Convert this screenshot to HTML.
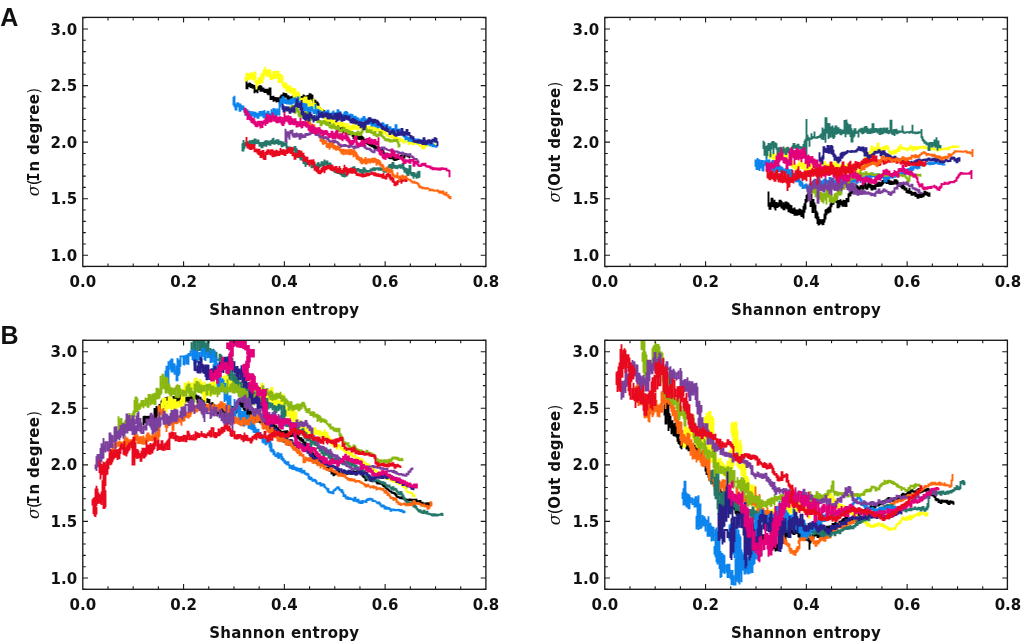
<!DOCTYPE html>
<html><head><meta charset="utf-8"><title>Figure</title>
<style>
html,body{margin:0;padding:0;background:#fff;}
svg{display:block}
.t{font-family:"DejaVu Sans","Liberation Sans",sans-serif;font-weight:bold;font-size:15px;fill:#111}
.sg{font-family:"DejaVu Serif","Liberation Serif",serif;font-style:italic;font-weight:normal;font-size:16.5px}
.si{font-family:"DejaVu Sans Mono","Liberation Mono",monospace;font-weight:bold}
.yl{letter-spacing:0.3px}
.pr{font-family:"DejaVu Sans","Liberation Sans",sans-serif;font-weight:normal}
.xl{letter-spacing:0.32px}
.L{font-family:"Liberation Sans",sans-serif;font-weight:bold;font-size:25px;fill:#111}
</style></head><body>
<svg width="1024" height="643" viewBox="0 0 1024 643">
<rect width="1024" height="643" fill="#fff"/>
<clipPath id="cA1"><rect x="82.8" y="17.4" width="403.10" height="249.00"/></clipPath>
<g clip-path="url(#cA1)">
<path d="M246.5 81.4v-1.1v8h1v-2v1.6v-4.4v.8h1v.9v-1.5v3.2v-1.5h1v.4v-2.3h1v-.5v4.1h1v-.3v-1.8h1v.9v2h1v-2.1v-.7v3.7v-2.8h1v3v-2v6.3v-2.4h1v1.2v-2.7v1.8h1v-3.2v-.8v5v-3.2h1v4.2v-5.4v.2h1v2.2v-2.9h1v1.7v-2.7h1v1.6v3h1v.8v-5.9v4.4h1v.2v-1.6h1v-.1v-1.1v4.4v-.9h1v-2.4v3.3h1v-.4v-1.5h1v.3v-.6v3.2v-3.2h1v.9v2.8h1v-2.8v4.5v-4.4h1v2.6v-4.9h1v7.5v3.1v-7.3v7.3h1v-3.1v2.2h1v.6v-2.1v.1h1v4.9v-4.9v3.5h1v-2.3h1v1.1v-1v2.9v-2.9h1v4.3v-4h1v1.8v1.1v-3.1h1v.2v2.7h1v-1.6v3.1h1v-3v-2.8v6.5v-6.5h1v.6v1.5v-3.4h1v2.7v-3.6v2h1v-4.2v4.5h1v-3.2v2.6v-2.4h1v.3v2.7h1v-2.6v-.9v3.4v-.1h1v3.2v-3.7h1v2.9v1.9v-4.1v2.2h1v1.5v-2.6h1v2.5v-3.2h1v1.3v1.9h1v-.6v-3.3h1v3.2v-3.3h1v.7v-1.2v4.4v-4.4h1v2v2.4h1v-1.5v1.9h1v.2v1.2v-5.8v5.8h1v-2.5v3.3h1v-.1v-5v.1h1v.6v1.8h1v-.5v-2.9h1v-.5v2.8v-.2h1v.7v-4.3h1v-.2v2.7h1v-2v3.4v-2.6h1v-.6v4.2v-3.5h1v.9v.2v-3.1v3.1h1v-1.4v3.3h1v-1.9v-3.7h1v.3v3.1v-2.2h1v1.3v-2.5v5.2v-3.9h1v5.4v.2v-4.4v3h1v1.4v.9v-3.4v3.4h1v1.5v.3v-3.1h1v1.9v2.3v-.4h1v-2v-.2v2.8v-2.8h1v1.4v4.8v-4.5h1v.9v4.4h1v-2.3v3h1v.2v-2.2v5h1v-.7v1.2v-3.7h1v.4v4v-2.5h1v1.2v-1.7v4.4v-4.4h1v1.7v3.6v-1.1h1v-.5v2.2v-1.9h1v1.3v1.2v-3.1v3.1h1v.7v.1v-2.5h1v2.3v3.8v-2.3h1v.9v-1.2v3.7v-1h1v-2.3v2.7h1v-1.8v1.7v-3.6v1.1h1v3.1v-3.4h1v2.4v2.6h1v-.3v-2.6h1v2v-.9v5.6v-5.6h1v-.2v1.9h1v-1.5v-.5v3.6v-1h1v-1.9v-.3v2.9v-2.9h1v3.6v-2.4h1v5.1v-3.6v1.8h1v1.2v-3.2h1v5.2v-6.7v3h1v6.1v-4.5v3.1h1v.9v-5.1h1v3.3v1.4v-4.2v4.2h1v-1.1v3.3v-3.3h1v.3v2.5v-2.4h1v2.8v-3h1v1.4v1.5h1v.1v.5v-2.9h1v2.8v-2.3h1v3.6v.7v-3.9v1.8h1v2.1v1.2v-3.3v3.3h1v-2.4v2.3h1v-1.3v-1.5v3.7v-3.7h1v4.4v-2h1v-1.1v2.4v-.1h1v.2v-2.2h1v.9v1.4v-3.6v3.6h1v-4.8v4.5h1v-2v-1.3v3.7v-1.3h1v.4v-2v4.5v-2.4h1v1.6v1.7h1v-2.1v3.1v-2.1h1v3.3v-3.9h1v2.1v-.4v2.3v-2.3h1v-.8v4v-.7h1v-2.6v1.8h1v-1v4v-3.1h1v2.9v-2.5h1v3.5v.2v-3v.2h1v2.1v-2.2v2h1v1.6v-2.4h1v2.5v-2v2h1v.2v-2.9v2.7h1v-.5v1.2h1v-.8v-.9v3.1v-3.1h1v.9v2.6v-2.1h1v2.9v-2.1h1v2v2.2v-6.1v6.1h1v-2v.1v-2.1v.3h1v2.8v-1.9v.5h1v1.5v-2.4v6.7h1v-4.6v3.4v-2.2h1v.4v3h1v-.3v-3h1v3.7v-2.3v2.1h1v.1v-1.3h1v2.9v-3v2.2h1v-2.7v2.9h1v-2.5v3v-2.3h1v.1v1.6h1v.9v1.1v-2.6h1v3.5v-3h1v1.2v.4v-2.9v2.9h1v-.3v-1.9h1v-.1v-.2v2.4v-.5h1v1v-1.9h1v-1.6v2.5v-1.1h1v.6v-2.6h1v1.9v-2.2v1.7h1v-1.9v1.5h1v-.4v-.4v1.5v-.1h1v-1.1v-1.1h1v.7v-1.9h1v1.1v1v-2.7v1.4h1v2.2v-1.5h1v1.5v-1.9h1v1.8v-3.4v3.3" stroke="#000000" stroke-width="1.9" fill="none" stroke-linejoin="miter" stroke-linecap="square"/>
<path d="M245.5 77.7v2.8h1v-5.1v-1.6v4.7v-4.7h1v1v4.3h1v-1.2v-3.8h1v.3v5.8v-4.9h1v3.5v-4.2h1v-2.6v6.4h1v-1.4v2.6v-6.3v6.3h1v1v-6.7h1v4.4v-5.8h1v2.6v7.5h1v7v-8.7h1v4.6v-3.4h1v-1.4v2.6v-5.9v5.9h1v-.4v-5v5h1v-2.5v-4h1v2v3.6v-8.5v8.5h1v-3.1v-5.3h1v-3.8v9.4v-8.4h1v-1.7v3.8h1v-3.8v-2.3v7.9h1v-4.2v3.5h1v-2.4v-1.7v5.9h1v-6.7v7.1h1v-1v-4.4h1v1.4v6.5h1v-3.3v4.5v-3.8h1v3.5v-5.6v3.3h1v-6.4v4.8h1v.9v1.4v-7.1v7.1h1v-3.6v3h1v-3.6v-2.7v7.4v-1.7h1v-5.7v6.2h1v-4.6v-2.2v11.5h1v-1.4v1.2v-7.3h1v6v.4v-5.2v5.2h1v-3.5v4.6h1v-7v9.8h1v2.7h1v-4.1v3.6h1v-5.1v5.1h1v.6v3.8v-8.1v8.1h1v.2v-6.2v1.3h1v4.1v-4.6h1v1.3v-2.3v8v-4.2h1v-3.2v7.5v-5.2h1v1.4v-2.1v6v-.2h1v-3.7v3.2h1v-4.2v-.4v8.8h1v-4.2v1.3v-4.8h1v2.7v3.2h1v4.5v-6.7v4.5h1v-1.4v2.4v-6.3v.1h1v8.3v-6.6h1v4.5v2.6v-6.9v6.9h1v2.7v-4.4v3.5h1v-3.3v-1.7v6.5v-1.5h1v-2.2v3.5h1v-6.4v5.2h1v-6.3v7h1v-1.2v-4.9h1v6.8v-5.6v1.8h1v5.2h1v-5.5v5.8v-3.8h1v3.5v-4.8h1v7.7v-8.9v6.6h1v1.2v-3.1h1v-.1v-.4v4.7v-4.7h1v5.2v-10.3v5h1v4.3v-3.9h1v1.6v-.2v5.3v-.5h1v-.8v-3.1h1v-.5v4.5v-3.7h1v.6v4.3h1v1v1.8v-8.3v8.3h1v-3.8v-2.6v6.2v-2.4h1v-4.1v6v-.4h1v-4.5v6.6h1v2.2v.2v-3.9v3.9h1v-.7v1.5v-5.6v2.5h1v3.3v1.6v-4.2v4.2h1v-3v6.9v-6.7h1v-.7v5.8v-4.3h1v3.6v-2.1h1v-1.3v-.5v4v-4h1v2.1v-2.1h1v.5v4h1v2.4v-4.5v2.4h1v-.9v-2.2h1v1.4v-1.2v4.7h1v-1.9v2.6h1v-2.7v-.8v3.2v-.8h1v-2.3v2.1h1v-1.3v-.2v2.4v-2.4h1v.5v2.3h1v-2.4v-.5v4h1v-1.6v-2.4h1v3.3v-2.7v2.2h1v1.4v-2.9h1v4.2v-3.6h1v.9v3.5h1v-.9v-2.5h1v-2.1v3.4v-2.6h1v1.8v1.9h1v1.6v-3.3v3.2h1v-2.2v3.1h1v-2.6v-2.6v2.6h1v-2v3.2h1v-1.1v-3h1v2.9v1.1v-7.3v7.3h1v-.4v-2.3h1v1.9v.6v-3.4v3.4h1v-2.8v3.4h1v.3v-4.7h1v.9v-1.1v3.2v-.6h1v-1.6v2.7h1v.7v.3v-3.7v1.3h1v1.3v2.4h1v-3.2v-1.6v3.8v-3.8h1v2.4v-1.8h1v2.1v-2.6h1v1.2v.4v-3.2v3.2h1v-1.2v3.4h1v-2.8v3h1v-.8v-2.2h1v-1.4v2v-.2h1v1.4v-2.7h1v1.4v2.6h1v-3.4v4.1h1v-.5v-2h1v-.2v-.4v2.8v-2.8h1v2.5v-2.3h1v3.9v-3.6h1v1.2v2.1h1v-.3v1.1v-3v.4h1v-.7v2.4h1v.9v1.7v-5v.4h1v-.7v4.3h1v-.7v1.3v-3.6v3.6h1v-2.5h1v2.4v.1v-2v.3h1v3v-1.4v1.4h1v-1.1v2.7h1v-1.8v-.2v2.5v-.3h1v-1.9v1.9h1v1.4v-2.2v1.5h1v-.1v-2h1v1.9v1.4v-3.1v.6h1v3.5v-3h1v1v-1v2.4v-2.4h1v1.7v1.3h1v-1v-.7v3.5v-3.5h1v-.7v1.8h1v.4v-1.9v1.7h1v2.3v-2.6h1v.3v2.2v-.1h1v-.6v-1h1v2.4v-2.1h1v1.9v.8v-2.7v2.7h1v-2.2v1.5h1v-1.5v1.3h1v.6v-2v.3h1v1.6v-1.8h1v.2v3.4h1v-2.4v1.1h1v.3v-1.9h1v.5v1.5h1v-1.1v2.4h1v-2.3v1.8h1v.4v-1.4h1v-.1v-.9v2.6v-2.6h1v2.3v-1.5h1v.4v-.1v2.1v-2.1h1v1.9v-1.3h1v1.7v.5v-2.4v2.4h1v1v-1.6h1v.7v1.5v-1.2h1v-.1v2.3h1v-.9v-2.4v1.9h1v2.3v-4.1h1v1.6v-2.3v1.5h1v-.1v.5v-2.6h1v2.2v-2.2h1v.9v-2.2h1v1.9h1v-1.3v2.3h1v-1.2v1.1h1v-.7v1h1v-1.5v1.5h1v-1.2v1.1h1v.8v-1.8" stroke="#ffff12" stroke-width="1.9" fill="none" stroke-linejoin="miter" stroke-linecap="square"/>
<path d="M242.5 146.3v-3.1v7.4h1v-10.5v7.5h1v1.2v-5.7h1v.3v2.2h1v-2.4v-.5v2.8v-2.8h1v3.5v-4h1v-.3v5.5h1v-4.1v-2.1h1v4.9v-3.2h1v1.3v2.3v-5.9v.1h1v2.3v-1.8h1v2v1.1v-4.3v4.3h1v-.2v-4.6h1v4.5v-4.3v3.6h1v.7v-2.6h1v1.2v-2.2h1v1.9v1v-3.2v3.2h1v-1v4.4v-2.6h1v-2v3.3v-.1h1v-1.8v3.7h1v-1.4v-2.8h1v3.4v-3.2h1v2v-3h1v-1.9v5.5h1v-3v-1.7v5.1v-5.1h1v1.4v1.5h1v.9v-4.2v2.8h1v-1v2.2h1v-2.9v-.6v3v-3h1v1.2v1v-3.3v3.3h1v-3.9h1v-1.7v5.6h1v-1v-1.6v4v-1.5h1v-.7v-1.5h1v.6v-1.4v3.4v-3.4h1v3.6v-3.8h1v3.9v.3v-3.6v3.6h1v.5v-3.1h1v2.9v-2.3h1v3.1v1v-3.2v3.2h1v-1v-2.9h1v.6v3.2v-.9h1v-2.5v2.1h1v-2.2v2.1h1v-2.8v6.7v-1.4h1v2.4v1.3v-5.4v5.4h1v-1.3v-2.9v2.9h1v-1.7v-.6v3.4v-3.4h1v2.4v-2h1v3.2v-2.1h1v-.3v2.9v-2.5h1v2.3v-2.6h1v2.1v-3.9h1v1v4.6h1v-2.4v-2.2v6.3h1v-4.7v7.4h1v-4.5v-.7v2.9v-2.9h1v1.8v3.9h1v-2.6v4.7h1v-2.6v3.2v-2.9h1v2.6v.8v-3.3h1v1.7v4.8v-1.7h1v2.1v-2.5h1v2.5v2.7v-5.6v1.2h1v2.7v-2h1v-1.3v2.1h1v-1v1.2v-3.6v1h1v-.2v1.8h1v.8v-3v2.4h1v-.9v4.7h1v-3.8v2.3h1v.6v.4v-2.5v2.5h1v-.7v-1.7h1v-.2v2.7h1v-2.1v2.8h1v-.5v-3.5h1v-1.5v4.9h1v-3.3v1.9h1v-1.7v-.4v2.2h1v-.9v-2.6h1v3.2v-2.6v2.5h1v-2.8v2.8h1v-5.9v6.6v-2.3h1v.9v-1.7h1v-.1v-1.3v4.1v-4.1h1v2.3v2.1h1v-1.8v2.1h1v1v-3.8h1v2.8v-1.8v3.7v-2.7h1v4v-4.2v2.1h1v2.7v-2.2v1.8h1v1.1v.6v-3.4v2.3h1v.2v1.3v-2.8v2.8h1v-1.7v2.3h1v-.2v-2.4h1v3.4v-2.2v2.2h1v-.5v-2.6h1v2.9v.3v-3.6v3.6h1v-1.6v2.5h1v.6v-2.3v2.3h1v-2.9v4.2h1v-3.3h1v1v2.9h1v.2v-2.1h1v2v-4.1v.5h1v1.6v-3.4h1v2.4v-3.5h1v2.4v-2.5h1v-.1v-.3v3.3v-3.3h1v-.9v-.1v2.4v-2.4h1v2v-3.8v3h1v.1v-2.9h1v3.6v-2.2v2.2h1v.8v-2.2h1v-.5v3.2v-1.1h1v.1v-2h1v.3v1.3h1v1.5v-3.2v3h1v.7v-2.7h1v1.5v1.9v-1.8h1v-.8v2.4h1v-1.5v2.2v-5.5h1v4.4v-2.9h1v3v-2.1h1v-.8v2.9v-1h1v-1.6v1.7h1v-2v2.6v-1h1v-1.4v1.2h1v-2.9v3.4v-1.6h1v-1.4v1.3h1v-2.3v1.2h1v.7v-1.4h1v2.9v-2.8v1.4h1v-2.2v1.2h1v-.6v1.2v-.9h1v1v-1.4h1v.8v1h1v-.6v-1.2v.1h1v.4v1.2h1v-.9v-.8v2.3v-1.1h1v1.1v-1.5h1v1.8v.7v-1.7v1.7h1v-.8v1.2h1v-1.9v1.3h1v-1.5v-.2v1.3v-.7h1v-1.1v1.3h1v.9v-4.8h1v1.5v-3h1v-.6v-.4v3.3h1v-3.4v4.6h1v-1v-4.5h1v4.5v-3.5v2.2h1v-1.1v2.6h1v-.4v.5v-2.9v2.9h1v1.4v-2.8h1v2.9v-2.1h1v-2v-.3v3.2v-1.6h1v-2.1v2.1h1v1.7v-3.9v3.7h1v-.1v-2.7v2h1v-2.9v-.3v2.5v-2.5h1v2.9v2.4v-5.4v5.4h1v1v1.6v-4.8v4.8h1v-.4v-2.6h1v-.7v5.2h1v-4.8v6.6h1v-2.6v.1v-3.5v.7h1v4.1v-7.9h1v4.5v-2.9v6h1v-1.2v2.9h1v-3.4v2.5h1v1.2v3.1v-6.8v1.6h1v-1.2v3.4h1v1.2v-2.1h1v-1.3v5.3v-1.4h1v-3.8v-1.9v5.9v-.3h1v-1v.1v-5.3v4.1h1v2.2v-5.7" stroke="#25776a" stroke-width="1.9" fill="none" stroke-linejoin="miter" stroke-linecap="square"/>
<path d="M233.5 98v-1v8.5v-4.9h1v-4.9v11.6v-1.2h1v2.5v.9v-5.2v5.2h1v-1.4v-4h1v2.3v-3.1h1v-.5v4.5v-2.9h1v.6v5.7h1v-7.3v5.6h1v-4v3.2h1v1v1v-3.9v.1h1v.6v2.4h1v-.1v-.2v4v-4h1v5.3v.7v-4.1v4.1h1v-.8v-4.2h1v1.7v4v-3.9h1v3.9v-4.1h1v.9v3.4h1v-4.9v5.2v-1.6h1v-1.8v2.4h1v-4.1v4.3h1v-3.3v-.8v4.2v-.5h1v3.1v-5.1h1v-1.3v4.5v-2.6h1v3.7v-3.8h1v.3v4h1v-.8v-3.4h1v2.6v-4.3h1v1.2v-1.2v4.5v-4.5h1v2.8v-2.7h1v4.3v-4.6h1v1v-.2v4.7h1v-7.3v6.2h1v1.2v-3.9h1v.5v-.7v7.5v-4.4h1v.9v-5.7h1v1.5v6.4v-5.5h1v1.3v2.9h1v-4.5v5.2h1v-9.7v8.2v-3.9h1v-1.6v2.7h1v-6.7v6.2h1v-1.3v-3.3h1v2.1v-.1v4.1h1v-1.7v.3v-2.7v.4h1v-.3v2.4v-5.5v3.9h1v-1.7v-.2v4h1v-11.1h1v.8v3.4v-8.1h1v.3v4.1h1v-1v-5.6h1v4.8v.4v-3.9v3.9h1v-.8v-2.4h1v.4v4.2v-2.9h1v3.2v-2.6h1v-2.1v5v-3.9h1v-.8v3.1h1v-2.9v3.8h1v1v-6.3v1.2h1v1.3v2.6h1v-1.3v-3.3h1v4.5v-4.2h1v-1.8v4.5h1v.5v-2.9h1v4v-3.4v2.8h1v-.5v-5.1h1v1.6v3.8h1v-1.7v6v-4.7h1v3v-2.8h1v5.3v-4.2h1v3.3v-2.7h1v-.4v5.6v-5.6h1v7.2v-5.3h1v5.3v-6.6h1v1.5v-1.4v4.5v-1.2h1v-1.2v6h1v-2.9v.7v-3.8v3.8h1v-3.7v4.1h1v2.3v-5.9v.4h1v-1.6v3.9h1v-2.2v-1.1v4.7v-.9h1v2.8v-4.1v3.9h1v-2.8v2.3h1v.4v-8.9v8.2h1v4.6v-6.1h1v2.7v-3.7h1v-.8v3.8h1v1v-2.7h1v5.3v-4.4v2.7h1v-1.4v3.3h1v.8v-4.2h1v-2.2v5.1v-.5h1v-4.2v5h1v-2.2v-.7v3.6v-3.6h1v-2.6v2.5h1v-1v-1.6v5.6v-5.6h1v8v-4.3h1v-1.9v3.6h1v-3.3v3.1h1v.8v-3.1h1v-.6v-.6v4.4v-4.4h1v-1.9v4.1h1v-.5v3.6h1v-.7v-4.4v.6h1v-.1v2.4h1v-1.2v1.9v-6h1v.7v2.6h1v.5v-2h1v1v-1.1v3.7v-.7h1v-1.3v2.4h1v-2v3.4h1v.2v-3.2h1v1.5v-3.3h1v3.2v.9v-4.9h1v4v-2.7h1v-1.2v6.1h1v-2.1v2.6h1v-.9v-2.5h1v-1.8v4.4v-2h1v2.1v-2.9h1v3.9v-3.4v2.9h1v-.4v1.7v-3.5v.6h1v-.4v2.2h1v-2.9v7.3v-5.2h1v1v1.8h1v-2.3v4.3h1v-5v4.6h1v-2.7v3.9v-.2h1v-1.4v-1.7h1v1.9v-3.3h1v2.7v-2h1v1.7v.5v-4.7h1v5.4v-3.3h1v2.6v4v-3.2h1v-1.2v2.6h1v-2v1.9v-3.8h1v4.9v-6.6h1v5.9v-2.8h1v-.8v4.1v-2.5h1v4.5v-2.9h1v1.9v-3.6v3.5h1v-3.2v1.7h1v2.1v-3.6h1v1.9v1.8h1v.7v-3.8v2.8h1v-3.2v4.7h1v-3.8v3.2h1v-2.4v3.2v-.7h1v-.3v-1.6h1v-1.1v-1.1v3.6h1v-1.2v-2.1h1v-.7v5.1v-2.6h1v-.5v1.5h1v-1.4v3.1v-.3h1v.5v-2.9h1v2.5v.9v-2.6v2.6h1v-1.9v2.7h1v-1.6v2.4v-2.4h1v-1.3v3.1h1v-1.1v2.2h1v.7v-2h1v-.9v-.2v2.7h1v-1.3v3.2h1v-.7v-6.6h1v2.8v2.6h1v-.5v.8v-2.3v2.3h1v-1.1v2.7h1v-4.2v4.7v-2.9h1v.2v3.2h1v-1.7v2.6v-2.5h1v.3v-.1v2.4v-2.4h1v2.5v1v-2.7v2.7h1v-1.3v3.7v-1.9h1v4.1v-3.6h1v2.5v-2.2v2h1v.5v-1.7h1v2v.9v-2.4v2.4h1v-2.8v2.1h1v-1.4h1v2.5v-2.4v2.4h1v-3.2v2.3h1v-2.1v1.5h1v-.5v-.8v2.5v-1.2h1v-.8v2.2h1v-2.5v3.2h1v.6v-2.8h1v.5v2.9h1v-3.2v1.5h1v-.6v3v-1.6h1v2v-2.1h1v-1.1v2v-1.7h1v2v-2.8h1v2.6v.2v-1.7v1.7h1v.3v-1.7h1v-.1v3.2v-3h1v.5v1.8h1v.9v-2.5h1v.3v2.5h1v-.1v-1.9h1v2.3v-2.5v.5h1v.8v1.8h1v-.5v1.2v-3.1v1.3h1v-.2v1.2h1v-1.1v1.6h1v-1.6v1.7" stroke="#0b84ee" stroke-width="1.9" fill="none" stroke-linejoin="miter" stroke-linecap="square"/>
<path d="M289.5 108.6v.5v-2.7v1h1v-.1v2.5h1v-2.1v-2.5v6v-2.8h1v.3v-2.7h1v4.1v-3.4v2.9h1v-.2v3.3h1v-3.9v1.5h1v-5.7v6v-3.5h1v1.1v4.2v-2.7h1v.3v5.2h1v-.5v1.8v-5.3v5.3h1v-3.7v3.1h1v.7v-5v3.7h1v-2.1v4h1v-4.1v3h1v-4.2v4v-1h1v.7v-3.5h1v1.3v2.2h1v-.2v-1.7h1v-.8v2.8h1v.7v1.2v-4.6v4.6h1v-2.4v4.6h1v-2.7v1.2v-4v4h1v-2.3v2.6h1v-.4v-.7v3v-3h1v3.5v-2.3h1v-.4v3v-1.8h1v1.3v-2h1v.7v3.4v-2.1h1v2.5v-1.6h1v-1.7v1.8h1v-1.8v5.3h1v-.8v-2.5h1v2.7v-3.3h1v1.7v-2.2h1v-.2v2.4h1v-2.5v4.3v-2h1v3v-3.4h1v2v1v-2.9h1v1v1.8h1v.9v1.1v-3v3h1v.7v-2.9h1v4v-2h1v1.3v-2.4h1v-2.8v4.4h1v1.5v-4.4v1.8h1v2.9v-2.6h1v2.7v.8v-4.1v1.7h1v.3v2.8h1v-2.5v-2.9v6.4v-1.3h1v-1.7v2.5h1v-1v.1v-1.8v1.8h1v-2.5v2.2h1v.3v.6v-2.7v.6h1v1.7v-2.9h1v6.6v-5.7v.9h1v3.7v-3.4h1v2.4v-2.5h1v3.6v-3.9v3.5h1v-.2v-1.7h1v1.9v.2v-2.9v2.9h1v-2.1v3.1h1v-3.3v2.6h1v.2v-1.8h1v-.2v2.1h1v-1.5v2.5v-.7h1v3.8v-5h1v-1.2v2.6h1v-1.9v-1v3.3v-3.3h1v.6v1.5h1v-1.2v2.6h1v-1.3v-2.1v2.1h1v-.7v-2.6v1.7h1v-.4v-5.5h1v.4v1.6h1v-1v-.2v2.2v-.7h1v-1.5v2.1h1v-1.2v4.1h1v-2.8v2.4h1v-2v1.5h1v1.2v-3.2v2.8h1v-.7v-1.2h1v.7v2.2h1v-1.5v1.3h1v-1v4v-3.2h1v2.3v-3h1v.9v2.5h1v-.8v1.8h1v-2.3v-.3v1.9h1v-2.2v2.2h1v.3v-4.8v4.3h1v-1.9v-1.2h1v.9v2.6h1v1.6v-2.3v1.7h1v-.7v1.7h1v-1.3v2.8h1v.6v.4v-2.2v2.2h1v1.1v-1.8h1v.1v-.6v2.5v-2.5h1v2v-1.5h1v-.2v2.1h1v-2.6v2.6h1v-1.8v1.5h1v1.3v-2.8v1h1v-1.8v2.1h1v-1.5v1.6h1v-2.4v2.3h1v.6v-1.7h1v3.6v-3v1.9h1v1.7v-1.2v3.7h1v.7v-2.5" stroke="#8ab810" stroke-width="1.9" fill="none" stroke-linejoin="miter" stroke-linecap="square"/>
<path d="M282.5 104.6v5.1v-3.4h1v.5v4.7h1v-1.2v.4v-2.8v.7h1v1.5v-2.8h1v3.2v1.1v-4.3v.5h1v-.2v2.1h1v.9v-4.2v4.2h1v-2.3v4.4h1v-4.1v2.6h1v.9v-4.7v3.3h1v-.9v2.6v-5.9v2.1h1v.3v-.8v3.6h1v-.9v-4.7h1v-1.6v-.3v3v-3h1v-1.1v3.4v-7h1v3.2v3.5h1v-2v2.8h1v-4.2v3.8h1v-3v6h1v-9.5v14.7v-6.4h1v4.7v2.5v-4.9v.9h1v.4v7.1v-3h1v.7v2.3h1v-6.4v8.1h1v-2.5v2v-5.6h1v4v-3.9h1v5.2v2.1v-5.3v5.3h1v-1.3v-7.6h1v4.7v-3h1v.8v2.7v-2.7h1v-.1v2.9h1v3.9v-4.8h1v-.7v-1.8v4.8h1v-2v2.2h1v.7v-3.3h1v-1.6v-.1v3.5v-.1h1v-8.6v6.6h1v.8v-2.8v.1h1v-1v-.7v3.9v-3.9h1v-1.9v4h1v-4.2v5.9h1v-.3v-2.3h1v-.5v-1.1v3.3v-1.1h1v1.3v-3.5h1v4v-3.2v2.5h1v-3.9v5.6h1v-2v-3v6.4v-1.1h1v-.6v-2.5h1v-2.1v3.7h1v-3.4v4.7h1v1.2v-2.9h1v2.2v-2.5v2.4h1v-1.5v-3.6h1v4.5v-3.2h1v3.2v-3.7v7.8v-7.8h1v6.9v-7.5h1v.4v5.3h1v-2.6v-3.6h1v3.4v1.4v-3.7v.5h1v1.2v4.7h1v-4v-1.4v3.8v-.6h1v-1.8v3.2h1v-3.6v-.4v4.5v-4.5h1v3.6v-2h1v-2.2v4.4v-.4h1v.8v-3.8h1v4.2v-4h1v1.2v2.4h1v-1.6v3.6h1v-1.1v.6v-3.2v3.2h1v-3.6v4.7h1v-4.3v5.2v-4.8h1v-.1v3h1v-2.6v4.4h1v-.1v-2.1h1v.1v-.2v2.3v-.8h1v-.9v3.1h1v-.8v.4v-2.3h1v6v-5.7h1v4.9v-3.5h1v3.4v-4.7h1v.9v5.6h1v-3.5v1v-3.9v3.9h1v-3.7v-1.4v3.8v-3.8h1v2.8v-3.9v2.7h1v.1v-3.8v3.7h1v-2.1v.9v-2.9h1v2.3v1.7v-4.8h1v-1.1v3h1v-1.7v2.5h1v-.1v-2.2v4.4h1v-.9v-2.6h1v3.3v-2.9h1v.4v2.3v-1.7h1v2v-2.3h1v4.8v-3.7h1v1.5v1.4v-3.9v3.9h1v-.5v.9v-2.9v2.5h1v-.2v2.1v-2.1h1v1.3v3.3v-1.7h1v1.8v-3.8v3.6h1v-2.7v2.8v-.2h1v-1.4v2.2h1v-1.6v3v-2.9h1v-2.7v5.4h1v-2.6v2.8h1v-2.7v4.2v-.5h1v-.8v2.7h1v-1.1v-2.4v2.1h1v.9v-2.2h1v1.8v.7v-4.2v.7h1v4.6v-3.3h1v1.7v1.7h1v.4v.5v-2.6v2.6h1v-.2v-1.8h1v-.5v2v-4.9h1v.9v3.7h1v.4v-3.7v2.5h1v-1.7v2.3h1v-1.1v-4.8h1v1.7v3.8v-1.8h1v-1.5v4.1h1v-.4v-2.6h1v2.3v-2.1v1.9h1v-1.4v-3h1v3.5v-.6v2.9v-2.9h1v-.5v2.5v-1.9h1v.7v1.5h1v-.3v2.9h1v-2.1v-.4v2.4v-.3h1v-.8v3v-2.4h1v4.1v.2v-2.6v2.6h1v.4v.9v-3v1.1h1v2.2v-2.1h1v2v-1.7h1v-1.6v3.7v-1.1h1v.3v-2.2h1v1.7v1.2v-3.1h1v.8v1.9h1v-1.9v-.3v2.4v-2.4h1v1.4v1.9h1v-1.3v-4.4h1v3v2.6v-.3h1v-2.3v2.9h1v-1.2v.3v-2h1v2.8v-3.4h1v.5v-1.1v3.1v-3.1h1v2.4v-1.5h1v-.1v2.3h1v-2.6v-.9v3.1v-1.2h1v-.4v-1.6h1v1.6v-1.6h1v2.8v-4.1h1v1v2.6h1v-4v4.9v-.5h1v.9v-1.6v3.8" stroke="#291f88" stroke-width="1.9" fill="none" stroke-linejoin="miter" stroke-linecap="square"/>
<path d="M.5 -.1v.7h1v.3v.3" stroke="#25776a" stroke-width="0.1" fill="none" stroke-linejoin="miter" stroke-linecap="square"/>
<path d="M246.5 138v7.9v-.4h1v-.8v-2.3v5.1h1v-3.2h1v-.2v4.5h1v-3.2v3.7h1v-4v-.2v4v-4h1v3.3v.2v-3.8v3.8h1v.1v-3.3h1v1.1v4.9h1v-1.7v1.9h1v1v-3.9v1.8h1v3.5v-3.4h1v-.2v-.6v5.4v-5.4h1v5.8v-3.4v.4h1v-1.3v5.9h1v-3.1v2.5v-5.3v1.3h1v3.9v-5.4h1v1.6v6.1h1v-3.8v4.2h1v-.1v-6h1v2.2v-3.3h1v3.1v-4.4h1v-1.2v3.1h1v-1.1v2.3h1v.3v.7v-5.1v5.1h1v-.8v-3.6h1v2.8v3.2h1v-.9v-3.8h1v4.6v-4.4h1v-1.2v6.3v-1.5h1v-.2v-4.5h1v-.2v4.4h1v-.7v1v-3.8v3.8h1v-4.4v3.1h1v-5.7v4.5h1v1.1v-4.1v3.3h1v-2.9v4.1h1v-5v5.1v-1.7h1v-1.7v4.2h1v-.4v-3.8h1v-.6v-.1v3.3v-3.3h1v3.9v-4.3h1v3.4v-6.2v4.3h1v.1v-2.9h1v5.7v-3.7h1v-.5v-.2v3.9v-3.9h1v-2.7v8.2h1v-3.4v4.3v-2.7h1v.3v5.1h1v-.9v-3.8h1v.8v-.6v2.7v-.3h1v-3.1v2.3h1v-.9v-4h1v1.8v-.9v5v-.9h1v-.8v-2.3h1v-2.1v5.5h1v-.8v-1.9h1v5.2v2v-6.5v6.5h1v-5.4v2.7h1v1.9v.7v-4.3v4.3h1v-3.9v3.8v-3h1v1.5v3.2h1v2.7v-4.9v3h1v3.3v-5.8v2.3h1v-2.5v4v-3.9h1v.5v-.1v3.2v-1.2h1v.6v1.3v-5v1.2h1v4.8v.8v-7.4v3.3h1v2.5v4.9h1v-3.9v4.7v-1.2h1v-2.5v-.1v4.2h1v-4.9v6.5v-5h1v6.3v-2.3h1v2.4v-3v2.3h1v-2.7h1v2.4v-5.1v3h1v-4.1v2.7h1v-.5v-2.6h1v-.2v7v-6.4h1v3.7v-2.9h1v2.4v-3.1h1v2.1v-3.5h1v.3v2.4h1v-2.7v.6h1v-.3v3.3h1v-1.2v-2.2v5.1v-5.1h1v.5v2.9h1v.8v1.6v-4v.4h1v-1.3v3h1v1v-3.7h1v3.5v2.4v-4.9v2h1v2.1v-3.5h1v2.3v-1.2v3.7v-3.7h1v-3.6v3.6h1v-1.6v3.7h1v-1.8v3.3h1v.3v-3h1v3.1v-4.7h1v.5v1.7v-6.5v6.5h1v-.1v.1v-3.1v3.1h1v-4.1v7.4h1v-2.2v-3.2h1v4.3v-3.4v2.3h1v-4.1v4.1h1v-.1v1v-4.5h1v-1v5h1v-1v-3.6v3.1h1v-.7v-1.1v3.1v-3.1h1v4v-3.6h1v4.2v-2.6v1.6h1v1.8v-2.8v2.8h1v-.2v.4v-2.3v2.3h1v-1.8v2h1v-1.7v2.1v-1.3h1v.1v1.3h1v-1.2v1v-2.2v2.1h1v-1.7v2.8h1v-.9v-1.7v.7h1v-.5v2h1v-2.6v2h1v-1.7v-.3v1.7v-1.7h1v-.4v2.3h1v-.7v.5v-2.3v2.3h1v.5v-1.4h1v.8v-1.3h1v.6v.1v-2.1h1v2.4v-1.2h1v-.3v-.2v2.5v-.4h1v-.5v-1.4h1v.4v2.3v-1.7h1v.3v1.3h1v-.6v-1.1h1v1.3v.5v-1.7v1.7h1v-1.3h1v.5v2.2v-1.9h1v1v-1.5h1v3.8v-2.7h1v1.8v-5.2v5h1v-2.1v1.5h1v.8v.6v-3.1v3.1h1v-4.8v3.3v-.9h1v-2.8v1.7h1v-.3v-1.9v3.9v-1.8h1v.9v-.5v3.2v-3.2h1v.6v4.5v-2.5h1v-.5v2.9v-2.9h1v.7v3.3h1v1.7v-5.1v3.8h1v1.8v1.6v-4.1v4h1v1.2v-3.3h1v.7v.7v-2.8v2.8h1v-.9v-3.2v2.4h1v.1v-2.9v.3h1v-1.2v2.2h1v-2.7v2.5h1v2.7v-4.4h1v-1.9v3.7h1v.3v-2.5v.2h1v.9v-1.4h1v.1v2.3h1v.9v-1.6" stroke="#e8091f" stroke-width="1.9" fill="none" stroke-linejoin="miter" stroke-linecap="square"/>
<path d="M306.5 121.4v2.5v-2.1h1v-.3v2.4h1v3.3v-5.2v.4h1v6.2v-5.3h1v.9v5.9v-4.4h1v2.5v-3.4h1v4.9v-4.4h1v.7v3.9h1v-1.6v.1v-3.6v3.6h1v-1.1v4.6h1v-.3v1.9v-5.1v1.5h1v3.3v1.2v-4.6v4.6h1v-.4v2.5v-8.2h1v3.5v5.6v-1.2h1v-2.7v8.2v-4.4h1v2.6v2.1v-5.9v2.3h1v2.1v3.7v-3.3h1v4.1v-3h1v-2v3.4v-1.2h1v1.8v-2.9h1v2.5v-2.1v5h1v-1.6v-2v4.1h1v.9v-3h1v-2.1v7v-6.8h1v5v-4.6h1v4.3v-3.4v2.6h1v-.8v-3.9h1v2.6v3.7h1v-2.9v-.1v2.9v-.1h1v-3.4v4.4h1v-3.1v3.5h1v.1v-2.8h1v-4.2v7.1v-.1h1v-2.9v3.2h1v-1.3v-.3v3.8v-.7h1v-2v3.7h1v-4.3v3.4v-2.6h1v5.5v-5.5h1v-.5v2.9v-2h1v-1v4.5h1v-1.2v-2.6v.3h1v2.4v-2.4h1v3v.5v-4.5v4.5h1v-3.8v4.5h1v-2.3v-2.1h1v.1v3.7v-2h1v.3v2h1v-1.9v-1.8v6.8v-6.8h1v.1v2.8h1v-2.1v5.7v-3.6h1v2.6v-2.6v6.2v-3.6h1v-1.7v5.5v-3h1v.2v3.7v-2.6h1v-1v3h1v-1.1v-.7v4.7v-4.7h1v2.2v2.9h1v-4.9v3h1v.9v.4v-2.5v.4h1v-1.8v3.6h1v1.1v-6.5v6.5h1v-4.9v2.2h1v-1.4v4.1v-4.1h1v1.7v-1.8h1v2.8v.5v-3.5v3.5h1v-2.8v2.2h1v.4v-3h1v-1.7v4.7v-3h1v3.8v-3.2h1v-2.6v4.5v-2.9h1v2.8h1v-1.2v-.7v5.9v-5.9h1v.6v3.1h1v-4.1v3.8v-2.4h1v3.8v.9v-3.4v.2h1v.3v-.5v4.3v-1.2h1v1.6v-3v.9h1v1.5v1.9v-1.9h1v.5v3.6h1v-2.5v-.2v1.8h1v-1.8v2.9h1v-2.8v-.1v2.7v-2.7h1v5v-3.8h1v.1v2.6h1v.5v.1v-2.8v2.8h1v-1.8v-.7v2.5v-2.5h1v3.8v-2.4h1v2.8v1.1v-3.2v3.2h1v1.3v.1v-2.8v2.8h1v1v-1.8h1v.7v-1.1v2.9v-.9h1v-1.7v1.7h1v-1.1v.7v-4.6v4.6h1v-.8v1.7h1v3.9v-5.1h1v2.6v-1.5h1v.9v-2.7v1.6h1v-2.9v4.2h1v-1.8v-1.3v1.3h1v-1.3v2.4h1v-1.9v1.5v-1.2h1v1.7h1v-.4v2.2v-.9h1v-.2v1.6v-.9h1v-.5v1.5v-.8h1v2.1v-1h1v-.6v1.4h1v.3v.6v-1.5v1.5h1v.4v-1.3h1v1v.1v-1.7v1.7h1v-.8v.9h1v.4v-1v.9h1v.2v1.2v-.6h1v.2v1.4h1v.4v-.8v2.2h1v-1.5v1.4h1v1.3v-1.2h1v-.1v1.1h1v.3v-.8h1v-.1v-.2v1.8v-1.1h1v-1v1.5h1v.2v-1.5v.6h1v-.9v1.4h1v-.4v1.3v-.2h1v-.8v1.9h1v-1.7v1h1v-.5v-.2v1.4h1v.8v-1.4h1v-.4v1.3h1v.2v.1v-1.1v1.1h1v-1.2v1.2h1v.2v.7v-1.6v.2h1v1.1v-1.2h1v-.3v1.7h1v-1v2h1v-.2v-1h1v1.4v-1v1h1v-.3v-1.1h1v1v1.4h1v-.5v1.1h1v.3v-1.3h1v-1.7v3.4h1v-.6v1.8v-1.3h1v.2v1.7h1v-.4v-.7v1.8h1v-1.6v2.2" stroke="#ff6810" stroke-width="1.9" fill="none" stroke-linejoin="miter" stroke-linecap="square"/>
<path d="M285.5 129.6v12h1v-7.7v-1.7v6v-6h1v3.7v-3.6h1v.8v3.8h1v-4.1v7v-6.7h1v-3v3.1h1v-2.3v-.3v3.3v-.3h1v-4v6h1v-1.1v2.2h1v-2.8v-.9v3.9h1v.9v-3.2h1v-2v4.2v-.6h1v-2.9v2.1h1v-2.1v2.4h1v-1.3v4.5h1v-1.7v.6v-3.9h1v1.9v1.4h1v-.5v-1.4h1v1.8v-2.3v2.2h1v-1.6v1.3h1v-1.2v-1.6h1v.2v1h1v-.2v-1h1v.9v-1.2v.9h1v-2v1.6h1v-.4v-1.3h1v-.4v-.1v2.1v-2.1h1v1.2h1v-1v-.2v1.4v-1.4h1v2.1v-1.5h1v2.3h1v1.1v-2.6h1v.8v1v-2v1.8h1v1v-1.5h1v.6v1.8h1v-1.1v1.6h1v-.4v.3v-1.9v.8h1v.5v1.5v-.9h1v.1v1.6h1v.1v-2.2v.2h1v.1v1.3h1v1.2v-2h1v1.7v.6v-3.3v2h1v.3v1.6h1v.2v.7v-1.7v1.7h1v-.9v1.1h1v.4v-1.3v.2h1v1.3v-1.4h1v.1v1.3h1v-.3v-1.4h1v.5v.9h1v.5v-1.3v1.2h1v-1.3v1.9h1v1.3v.1v-1.9v1.9h1v-.1v1.7v-1.4h1v.5v1.8h1v.5v-1.9v.6h1v.8v-1.5h1v1.6v-1.6h1v-.5v1.2v-1.1h1v.3v.9h1v.8v-1.2h1v-.3v-.3v1.8v-.8h1v-1.4v2.6h1v-.6v.3v-1.5v.1h1v1.4v-1.2h1v1.6v-1h1v.6v-.6h1v-.5v2.4h1v-1.4v.2v-1.4v.5h1v1.3h1v-1.4v1.2h1v-.4v.3v-1.5v1.5h1v-.1v-1.6h1v1.3v-1.5h1v1.6v-1.3h1v1.2v-1.2h1v.2v-.5v1.3v-.2h1v.2v-1.1h1v.9v-.8v2.6v-2.6h1v1.3v1.1h1v-.8v1.6h1v-.2v.4v-1.4v1.4h1v.7v-1h1v.7v1.1v-2.1v.9h1v.1v.8h1v.7v.5v-1.7v1.7h1v-.9v1.2h1v.4v.3v-1.8v1.8h1v-1.2v-1.4h1v1.3v-1.6v.9h1v-1.3v.6h1v-1.2v1.1h1v.3v.8v-2.1h1v-.4v1h1v-.3v-1.6v.9h1v-.2v-1.6v1.6h1v-1.4v1.6h1v-.7v-.1v1v-1h1v.5v.9h1v.6v-.8h1v.6v1v-.9h1v-.1v.7h1v-.8v1h1v-.5v1h1v.3v.4v-1.2h1v2.1v-1.4h1v-.2v1.1v-.5h1v.7v-1.1h1v-.2v1h1v-.8v1.1h1v.3v-.7h1v1.3v-.6h1v.8v-.6v1.9v-1.9h1v-.9v1.2h1v-.6v1.1h1v-1.2v2h1v-2.4v2.5h1v-.2v-.6h1v-.1v.6h1v-.2v.8h1v-.1v.6h1v-.8v1.9v-1.4h1v.2v.7h1v-.6v-.6v1.5v-1.5h1v.7v1h1v-.5v1h1v.5v.1v-1.6v1.6h1v.2v.8h1v-.3v1.2h1v.5v-.5h1v.3v-.1v1v-.1h1v1.3h1v.2v.7" stroke="#7b3f9d" stroke-width="1.9" fill="none" stroke-linejoin="miter" stroke-linecap="square"/>
<path d="M244.5 108.6v2.7h1v-1.5v-2v6.2h1v1.2v-4.6v.5h1v-.4v9.2v-6.5h1v.4v4.7v-3.4h1v5v-4v.6h1v3.7v.9v-4.7v.9h1v3.5v1.9v-5.3v1h1v3.6v.4v-4.6v4.6h1v.1v-4.9v4.9h1v-3.5v4.9h1v-2.8v4.5h1v-2.1v2.7h1v-2.5v.4v-3v3h1v.8v-3.5h1v3.5v1.2v-4.1h1v6.2v-6.6h1v2.5v-1.5v4.4v-1.6h1v2.3v-5.5h1v2.3v-4.1v.7h1v1.7v-2.4h1v-2.8v8.1v-4h1v-2.2v-5h1v9.4v-6.5h1v4.8v-6.7h1v6.4v-4.6v4.1h1v1v-6.1h1v5.7v-5h1v-4.7v4.8h1v3.1v1.2v-4.9v1.4h1v2.7v-4.5h1v5.6v-5.3h1v2.1v-1.2v4.7h1v-1.3v-2.6h1v4.4v.5v-6.2v2.5h1v2.3v-4.6h1v4.9v-3.1v2.7h1v2.8v-3.7h1v-3.7v8h1v-2.9v.5v-3.3v3.3h1v-10.8v8.8h1v.1v-4.4h1v5.3v-4.2h1v4.2v-4.5h1v-1.9v7.3h1v-4v5.4h1v-8v6.6h1v.8v.1v-5.9v5.9h1v-5.1v3.2h1v-3.1v5.7h1v-.9v-4.2h1v.7v3.4h1v1.1v2.3v-5.8v5.8h1v-5.3v4.2h1v1v-4.3h1v.6v-.1v3.1h1v-8.1v7.5h1v3.4v-6.5v5h1v-2.1v-3.1h1v4.1v-3.9h1v-.5v4.4v-2.9h1v-.3v3.1h1v1.9v-5.2h1v-.3v3.2h1v-1.3v5.3h1v-4.2v5.4h1v-3v-1v3.2h1v-4.6v6.4h1v-7.2v4.9v-2.1h1v.7v3.4v-3.4h1v.1v4.6h1v2.1v-5.5v3.7h1v-5.4v4.9h1v-3.4v3.8v-2.9h1v2.7v-4.6h1v1.7v2.9v-2.7h1v4.5v-2.9h1v2.7v-3.5h1v2.5v2v-4.7v4.7h1v-4.8v3.9h1v.7v-3.4h1v2.1v-2.8h1v-1.1v4.5h1v-1.8v-1.4v4.5v-1.8h1v-1v4h1v1.2v-4h1v-1.2v3.9h1v-.8v-4.3h1v5.8v.7v-4.7v4.7h1v-.1v-3.4h1v3v-4.1h1v2.8v2.6v-6.5h1v4.3v-5.9h1v2.1v4.4h1v1.7v-2.8h1v3.2v-5.4h1v.2v4.4h1v-.5v-3.7h1v4.2v2.6v-8.9v3.1h1v-.2v3.3h1v.8v-3.2h1v3v-6.9v2h1v.5v6v-4.6h1v1.1v4.3v-3.8h1v.9v3.9v-3.2h1v5.1v-2.1h1v-2.2v-.3v4.2h1v-3v2.9h1v-.7v.2v-3.5v3.5h1v-3.8v2.4h1v.6v-5h1v3.1v-4.2h1v2.8v4.8h1v-2.7v4.3h1v-2.5v3.6v-1.3h1v-2.7v2.2h1v1.1v-4.2v2h1v1v-4.3h1v.6v-1.8v4.3h1v-2.8v4.9h1v-4.5v-.7v4.2v-4.2h1v-1.1v3h1v.6v-5.1v3.5h1v-1.7v2.5h1v.2v1.4v-5.1h1v-1.9v6h1v-3v3.6h1v-.8v-4.3v1.6h1v3.2v-2.8h1v-.9v5v-.6h1v-.1v-4h1v.7v3.7v-2.5h1v-.7v3.4h1v-3.4v2.4h1v-.5v-5.7v14.7v-2.1h1v.8v3.8v-2.7h1v1.5v2.4v-2.3h1v2.1v-4.2h1v5.1v.3v-4v4h1v-2.7v4.4h1v-1.4v-2.3h1v5.3v-6.3h1v2.8v.6v-3.4v3.4h1v-3.2v2.1h1v-1.8v-.1v2.3v-2.3h1v.8v2h1v-2.4v2.4h1v-3.5v3.5v-7.5h1v5.4v-3.1h1v4.4v-3.6h1v3.1v.8v-2.9v2.9h1v-1.8v3.2h1v-.6v-2.5h1v2.5v1.1v-3.1h1v.7v1.6h1v.6v1.2v-2.9v1.1h1v1.7v-1.8h1v-.5v2.1h1v-.2v1.6v-4.5v4.5h1v-2.4v5.7v-2.2h1v-.8v2.4h1v-1v-1.9h1v1.7v-1.9v1.6h1v.7v-1.6h1v-1v2.1h1v-3.4v4.3h1v-.4v-2.1h1v.3v1.1v-2.6v.7h1v2v-1.9h1v.6v5.3h1v-1.3v-3h1v1.9h1v-1.7v2h1v-2.5v3.5h1v1v.3v-2v2h1v-1.5v1.7h1v-1.7v1.4h1v-1.9v1.6v-1.4h1v1.5v-1.6h1v1v-2.2v2.2h1v.1v-1.1h1v.4v1.4v-3v3h1v-.8v1.6h1v.6v-1.1h1v.8v1.1v-1.1h1v1.1v-1.6h1v1.8v.1v-1.4v1.4h1v.7v-1.4h1v.5v1.2h1v-1.5v1.2h1v.3v-1h1v1.1v-1.7v1.7h1v-1.4v1.3h1v1.1v-1.9h1v1.8v-1.8h1v.5v.9h1v-.7v.2v-1.4v1.4h1v.6v-1.8h1v1.4v-1.2h1v.6v-.1v1v-1h1v1.1v-.9h1v1v-1.3h1v.8v.7h1v-1.1v1.2h1v.3v-.8v.8h1v-.6v6.2" stroke="#e3007b" stroke-width="1.9" fill="none" stroke-linejoin="miter" stroke-linecap="square"/>
</g>
<path d="M108.00 266.40v-3.0M108.00 17.40v3.0M133.19 266.40v-3.0M133.19 17.40v3.0M158.38 266.40v-3.0M158.38 17.40v3.0M183.58 266.40v-5.2M183.58 17.40v5.2M208.77 266.40v-3.0M208.77 17.40v3.0M233.97 266.40v-3.0M233.97 17.40v3.0M259.17 266.40v-3.0M259.17 17.40v3.0M284.36 266.40v-5.2M284.36 17.40v5.2M309.56 266.40v-3.0M309.56 17.40v3.0M334.75 266.40v-3.0M334.75 17.40v3.0M359.94 266.40v-3.0M359.94 17.40v3.0M385.14 266.40v-5.2M385.14 17.40v5.2M410.33 266.40v-3.0M410.33 17.40v3.0M435.53 266.40v-3.0M435.53 17.40v3.0M460.72 266.40v-3.0M460.72 17.40v3.0M82.80 266.62h3.0M485.90 266.62h-3.0M82.80 255.30h5.2M485.90 255.30h-5.2M82.80 243.99h3.0M485.90 243.99h-3.0M82.80 232.67h3.0M485.90 232.67h-3.0M82.80 221.36h3.0M485.90 221.36h-3.0M82.80 210.04h3.0M485.90 210.04h-3.0M82.80 198.73h5.2M485.90 198.73h-5.2M82.80 187.41h3.0M485.90 187.41h-3.0M82.80 176.09h3.0M485.90 176.09h-3.0M82.80 164.78h3.0M485.90 164.78h-3.0M82.80 153.46h3.0M485.90 153.46h-3.0M82.80 142.15h5.2M485.90 142.15h-5.2M82.80 130.83h3.0M485.90 130.83h-3.0M82.80 119.52h3.0M485.90 119.52h-3.0M82.80 108.20h3.0M485.90 108.20h-3.0M82.80 96.89h3.0M485.90 96.89h-3.0M82.80 85.58h5.2M485.90 85.58h-5.2M82.80 74.26h3.0M485.90 74.26h-3.0M82.80 62.94h3.0M485.90 62.94h-3.0M82.80 51.63h3.0M485.90 51.63h-3.0M82.80 40.31h3.0M485.90 40.31h-3.0M82.80 29.00h5.2M485.90 29.00h-5.2M82.80 17.68h3.0M485.90 17.68h-3.0" stroke="#1a1a1a" stroke-width="1.1" fill="none"/>
<rect x="82.80" y="17.40" width="403.10" height="249.00" fill="none" stroke="#1a1a1a" stroke-width="1.35"/>
<text class="t" x="82.80" y="287.40" text-anchor="middle">0.0</text>
<text class="t" x="183.58" y="287.40" text-anchor="middle">0.2</text>
<text class="t" x="284.36" y="287.40" text-anchor="middle">0.4</text>
<text class="t" x="385.14" y="287.40" text-anchor="middle">0.6</text>
<text class="t" x="485.92" y="287.40" text-anchor="middle">0.8</text>
<text class="t" x="77.20" y="260.90" text-anchor="end">1.0</text>
<text class="t" x="77.20" y="204.33" text-anchor="end">1.5</text>
<text class="t" x="77.20" y="147.75" text-anchor="end">2.0</text>
<text class="t" x="77.20" y="91.17" text-anchor="end">2.5</text>
<text class="t" x="77.20" y="34.60" text-anchor="end">3.0</text>
<text class="t xl" x="284.35" y="315.20" text-anchor="middle">Shannon entropy</text>
<text class="t yl" transform="translate(38.60 141.90) rotate(-90)" text-anchor="middle"><tspan class="sg">σ</tspan><tspan class="pr" dx="-0.6">(</tspan><tspan class="si" dx="-2.4">I</tspan><tspan dx="0.6">n degree</tspan><tspan class="pr">)</tspan></text>
<clipPath id="cA2"><rect x="604.8" y="17.4" width="402.60" height="249.00"/></clipPath>
<g clip-path="url(#cA2)">
<path d="M768.5 192.5v13.3h1v1.1v1.8v-6.2v6.2h1v-6.5v4h1v-1.6v1.5v-7.4h1v4.6v2.8h1v.3v.6v-5.4v2.7h1v-4.6v7.8h1v2.9v-7.4h1v1v-.1v3.7v-3.7h1v4.2v-2.7h1v1.7v-4.6v3.3h1v.3v-5.3h1v5.9v-4.9h1v1.4v4.3h1v-3.1v3.4h1v.4v1.2v-7.2v7.2h1v-5.5v3.8h1v.4v-5.6h1v1.5v-.9v5.7v-5.7h1v6.3v-5.7h1v1.6v-.1v6.2h1v-1.2v-5h1v-.2v7.2h1v-7v7h1v-4v5.7v-1.1h1v-4v3h1v2.2v.9v-7.4v7.4h1v-5.7v5.4h1v-1.2v1.4v-4.8v4.8h1v-4.8v5.5v-5h1v-.7v4.2h1v-.6v.3v-5.2v1.4h1v5.6v-4.5h1v2.1v-2.4v6.3v-6.3h1v2.5v-.5v4.2v-4.2h1v.8v4.9v-11.8h1v5.1v1v-8.4h1v5.1v.1v-10.6v1.9h1v-5.9v7.5v-1.9h1v-1.6v-4.1h1v-1.4v-2.5v7.3v-.2h1v1.7v-6.7h1v-4.4v17.4h1v-9.8v-2.2v11.1v-4.8h1v2.5v9.2h1v-2v2.3v-13.3v4.6h1v2v2.5v-5.6v5.5h1v.2v-3.5v13.4v-3.8h1v-2.2v-1.4v8.6v-5.9h1v3.5v-.7v7.9v-6.7h1v8.1v-6h1v-.6v6v-3.8h1v2.1v-3h1v3.9v-3.8h1v.5v4.5v-4.1h1v2.9v.9v-6.1v.4h1v3.3v-8.9v4.8h1v-6.1v-2.9v7.5v-5.6h1v3.8v-5.2h1v-1.3v4.9v-4.4h1v.3v-1.2v5.3v-5.3h1v3.3v-5.1v5.1h1v-6.6v-1.4v6.9v-4.2h1v-1.1v.1v-4.2h1v2.5v.5v-5v5h1v.3v-4.1h1v-.5v-.5v3v-3h1v2.2v-6.3h1v6.5v.4v-5.2v5.2h1v-2v-.2v7.4h1v-6.9v4.6h1v-5.1v7.3v-4.3h1v-3.6v5h1v.1v-2.7h1v.3v3.8h1v-5.9v6.2v-5.4h1v-.6v6v-3.4h1v3.2v.1v-6v6h1v-2.2v-5.9v1.5h1v2.8v-3.6v2.7h1v-4.2v-2.7v6.1v-6.1h1v1.1v.3v-3.3v3.3h1v.5v-5.5v.7h1v-.4v-1.2v4.2v-1.5h1v-1.3v.8v-6.4v6.4h1v-3.2v-2v4.6v-1.1h1v-4.2v3.8v-2h1v-1.8v3.5h1v-.9v-3.3h1v-.1v4v-2h1v.5v3h1v-.2v-2.1h1v-2.5v3v-2.8h1v-1.4v2.2h1v-1.5v3.2h1v-3.2v2.6v-5.2h1v3v-2.6h1v4.3v.2v-4.5v4.5h1v-1.3v2.3h1v-.6v-3h1v1.2v1.3v-5.6v2.8h1v1.4v-1.9h1v1.1v2.8v-2.7h1v.7v3.1h1v-4.8v3.9h1v-2.6v2.3h1v-3.3v3.8h1v-3.8v-.2v2.9v-2.9h1v1.3v-2h1v1.9v-3.4v3.4h1v-.8v-2.6h1v.7v-.9v4.1v-1.6h1v1.9v-2.1h1v-1.9v3.5v-3.5h1v2.5v-4.3h1v.5v2.4v-2.4h1v1.4v-3.6h1v3.8v-3.4h1v-1.5v5.8v-2.2h1v.3v-2.2h1v.7v3.3v-2.7h1v.3v2.2h1v-2.3v2.7h1v-3.7v2.9h1v-1.8v2.3h1v-2.6v3.3v-1h1v-1.2v-2.2h1v2.7v-2.4h1v3.6v.5v-3h1v2.7v1.2v-3.2v.9h1v.7v2.1h1v-2.2v2.4v-2.2h1v3.1v-1.8h1v2.5v.5v-2.5v.4h1v3.1v-4h1v-2.4v5.6h1v-1v-1.4v3.6h1v.3v.7v-2.8v.7h1v4v-5v4.5h1v.1v1.5v-3.9v.9h1v2.4v.2v-2.3v.1h1v-3.3v5.3h1v.3v.6v-2.1h1v1.2v1.8h1v-2.7v2.5h1v.6v-2.2h1v2.5v-2.8h1v.5v-.5v3.3h1v1v-2.8h1v-.3v3.9h1v-1.1v-1.9h1v-.4v2.5v-2.4h1v.6v2h1v-1.1v-2.3h1v-.3v2.9h1v-3.5v2.1h1v.9v-4.1h1v.8v1.9h1v-2.6v3.2v-2.3h1v.8v1.6h1v-1v1.8h1v-2v-.5v2.7v-2.7" stroke="#000000" stroke-width="1.9" fill="none" stroke-linejoin="miter" stroke-linecap="square"/>
<path d="M769.5 157.7v-3.8v3.2h1v.7v-5v.3h1v-.8v3.7h1v2v-4.2v3.9h1v6.6v-9.2h1v3.5v-1.4v6h1v-4.9v-1.3v4.7h1v-3v-5h1v-5v8.5v-4h1v-1.6v4h1v-6.1v5.6h1v-.3v.6v-5.6v5.6h1v-1.1v1.3v-5.6h1v6.6v-4.2h1v7.1v-9v6h1v-.3v2.6v-10.4h1v8.2v1.1v-3.8v3.8h1v3.3v-6v.3h1v4.6v1.5v-4.4v4.4h1v1.7v1.5v-6.4v6.4h1v-6.7v5.5v-.4h1v-3.6v5.2h1v-3.4v5.5v-5.4h1v1.6v4h1v-1.9v-1.1v4.9v-4.9h1v5.3v-4.4h1v4.9v.2v-5.7v2.3h1v-2v3.8h1v-.7v-2.2h1v-.7v-1.5v6.7v-6.7h1v-1.5v4.2h1v-6.1v6.2h1v-1.7v3.9h1v-5.4v4.6h1v-5.2v5.5v-.3h1v-3.8v5.9h1v-3.8v9h1v-4.5v-7.9h1v5v-6.1h1v6.6v3.2v-6.9v6.9h1v-.9v-4.7h1v5.3v-5.8h1v-1.2v6.2v-5.5h1v-2.6v5.2h1v-4.3v5.4v-4.2h1v-.4v2.8h1v-3.5v4.7h1v1v-4h1v.6v3.3h1v-4.9v-.3v6.1h1v-3.8v4.3h1v-1.6v-3.6h1v-1.4v5.7v-3.1h1v-.9v2.8h1v-6v10.8v-8h1v4.6v-3.7h1v-4.2v6.3h1v.4v1.3v-4.8v.5h1v-.6v4.3h1v-4.5v4.3h1v-.8v-4.6v.8h1v3.8v-3.8h1v-1v4.6v-4h1v-.2v4.3h1v-1.4v4.5h1v1.9v-9.8h1v2.4v5.8h1v-2.4v.9v-9v9h1v-1.3v-3.7h1v4.9v-2.8h1v.9v-.8v4.7v-4.7h1v2.8v-2.6h1v4.8v-7.6v2.8h1v1.7v-2.9h1v5.3v-5.3v.1h1v.8v5.2h1v-6.2v5.6v-3.6h1v4.5v-3.7h1v.1v-5.7v12.3v-4h1v-2.8v2.1h1v-4v4.6h1v-2.8v4.2h1v-4.3v4.1h1v-.9v.6v-5.2v5.2h1v.1v-2.4h1v3v-3.3v3.3h1v1.7v-3.8h1v1v3.3h1v-2.6v-2.4v5.7v-2.6h1v-2.8v4.2h1v-2.6v.5v-5.4v3.9h1v-1.5v-4.3v4.1h1v-5.2v7v-4.8h1v-.5v2.9v-7.8v6.4h1v-1.4v-3.2v.2h1v-3.3v4.1v-4h1v2.6v-5v1.3h1v2.2v-4.9h1v4.2v-4.7v2.4h1v1v-3.3h1v-1.9v-1.3v3.6v-3.6h1v-.3v-1.5v4.5v-4.1h1v-.8v-3.3v9v-9h1v4.8v-2.8v2.3h1v.6v-3h1v-.4v3.6h1v-.1v-3.6h1v3.7v-2.8h1v-2.7v-2.2v6.3v-6.3h1v6.1v-1.8h1v3.3v-3.1h1v2.8v-3.7v3.4h1v-2.7v2.5h1v-3.3v4.1h1v.4v-4.9h1v.3v2.1h1v-3.6v3.5v-3.1h1v2.2v-2.2h1v2.3v1.1v-2.9v.6h1v1.5v2h1v-.4v3.4h1v-.8v-2.3v1.8h1v-1.5v2.8h1v.6v.1v-3.3v.7h1v2.7v-4h1v-.4v2.9h1v-.7v.2v-2.7v2.7h1v-3.4v2.6v-.9h1v-2.5v2.3h1v-.6v1.1v-4.5v4.5h1v-3.3v-.8v4.1v-2.4h1v-4.6v5.2v-2.2h1v2.3v-2.3h1v2.2v-2.7v2.3h1v.5v-1.4h1v-.6v1.5h1v.6v-2.1v1.7h1v-.4v1.4h1v-2.3v-.1v3.6v-1.7h1v-1.7v.9h1v-2.2v1.9h1v-3.7v3.6h1v.5v-1.4h1v-.2v3.1h1v-3.2v-.4v1.5v-1.5h1v1.9v-1h1v.5v-.9v2.9v-2.9h1v.4v1.4h1v-.8v-.7h1v.8h1v-.4v-1.1h1v.4v-.5v1.6v-1.6h1v-.5v1h1v.5v-1.2h1v1.3v.2v-1.4v1.4h1v-.5v-1h1v.6v.8h1v.4v-.7h1v-.1v.7h1v-.7v.9v-.8h1v.7v-1h1v1.5v.3v-1.2v1.2h1v-1.3v1h1v.3v-.8h1v1.1v.1v-1.4v1.4h1v-.4v-.5h1v-.3v1h1v-.3v.8h1v-.4v1h1v-1.9v1v-.8h1v.2v.7h1v-.1v-.9h1v.5h1v.2v-.8h1v.5v.1v-1.4v1.4h1v.3v-.8h1v.5v-.9h1v1.1v-.9v.7h1v-1v.5h1v-.2v-1.1h1v2.5v-1.9h1v.1v-1h1v.6v-.6h1v.1v-.9h1v.4v-.1v1.4v-1.4h1v1.2v-.8h1v-.4v-.2v1.7v-1.7h1v-.5v.8h1v-.8v.6h1v-.9v.8" stroke="#ffff12" stroke-width="1.9" fill="none" stroke-linejoin="miter" stroke-linecap="square"/>
<path d="M755.5 160.5v5.3h1v4.1v-9h1v6.8v1.4v-11.1v11.1h1v-1.7v-7.3h1v11v-11.2v7h1v1.4v-5h1v5.3v-7.7h1v10.3v-9.3v6.5h1v3v-6.2h1v1v-6v4.1h1v-3.8v4.1h1v-7.9v7.8h1v-3.4v7.6v-6.5h1v4.2v-5.9h1v6.9v-5h1v-.3v10.4v-5.5h1v-3.5v6.3h1v1v-9.8h1v3.6v6.9h1v-1.5v-4.7v.1h1v3.2v-3h1v1.9v3.9h1v.1v-5.6v3.8h1v-2.9v4.1h1v-2.5v2.7v-6.4v6.4h1v1.3v-5.1h1v5.3v.8v-5.3h1v5v-3.7h1v.9v-.9v5.4v-5.4h1v-.2v2.2h1v-3v4.1h1v-.2v.6v-4.8v.5h1v1.6v4h1v-4.6v3.6v-2.9h1v2.4v-.3v4.5v-1h1v-4.3v4.7h1v-1v-6.2v6.2h1v.5v1.4v-3.9h1v-.4v2.7h1v.8v2.1v-5.4v5.4h1v1.8v1v-5v5h1v-.4v-4.2h1v2.1v-2v5.4v-1h1v.2v-3.7h1v-1.4v9.3v-4.1h1v5.2v-5.1v.5h1v-1.2v4v-.2h1v-2.5v6.8v-2.5h1v2.2v-3.2h1v-.6v-.2v2.9h1v-3.8v3.9h1v-4.1v5v-.1h1v-2.9v4.2h1v-4v4v-3.3h1v1.6v-3.3h1v-.8v2.1h1v.6v-4.3h1v-.8v5h1v-3.7v-1.5v6.6h1v-2.2v-4h1v2.9v-4.7v3.2h1v-3.8v6.1h1v-6.6v4.8h1v.4v2.6v-5.3v5.3h1v-2.5v-2.6h1v3.2v1.4v-4.5v4.5h1v-.1v-4.3h1v6v-6h1v-1.7v5.1v-5.1h1v5.3v-5.8h1v4.7v-4.2v.5h1v3.5v-3h1v.7v2.2h1v-3v-1.1v6.3h1v-3.2v-5.1h1v4.2v-.3v4.7v-4.7h1v-1.6v3.7h1v-3.8v4h1v-1.6v.2v-5.3v2.8h1v-.4v3.2h1v-2.2v4.6h1v.1v-2.9h1v3.6v-7.4h1v3.5v-3.2v6.4v-6.4h1v5.2v-3.6h1v1.8v-1.4v4.3v-2.1h1v.3v-3.8h1v2.1v1.3v-3.8v1.6h1v2.3v-4h1v-1.3v4h1v-4.8v5.8h1v-.6v-3h1v4.6v-3v2.6h1v1.8v-2.2h1v2.2v-1.9h1v-2.7v4.3v-.3h1v-2.7v-2.8h1v2.2v-2.7h1v.9v2.2v-4.6v4.6h1v-3.6v2.6h1v.3v-4.7h1v5.4v1v-4.2v4.2h1v-.8v-3.9h1v1.4v-2.1h1v2.2v-6.7v5.6h1v4.4v-4.9h1v2.9v-4.1h1v.8v2.2h1v.7v1.4v-4.7v4.7h1v-.6v-3.7h1v2.2v-3.8h1v2.1v.1v-2.1v2.1h1v-3.4v5.4h1v-4.2v2.7v-2.1h1v2.3v-3.1h1v-.2v5.4v-5.1h1v1.7v-4.3h1v2.5h1v1.4v-3.5v2.1h1v1.5v-2.9h1v2.6v.6v-3.3v3.3h1v-2.3h1v1.8v-1.6h1v-.1v-2.6v5.3v-.9h1v-.2v-1.8h1v1.3v-.7v2.2v-.2h1v-1.8v1.7h1v-1.7v1.5h1v-1.1v-.6v2.9v-2.9h1v6.5v-4.3h1v.1v3.1h1v-1.8v-3.2v2.2h1v-2.2v2.5h1v-2.2v-.1v2.1v-.4h1v-2.7v1.9h1v-2.6v2.1h1v-.7v1.2v-2.9v1h1v.6v1.8h1v.2v-2.7h1v-1v2.5h1v-2.9v2h1v-2.3v-.3v2.1h1v.6v-2.3h1v2.2v-2.6v1.6h1v-2.7v1.9h1v-1.1v2.9v-2.8h1v-1.2v1.8h1v-3.1v2h1v-2.2h1v.5v3.2h1v-.5v-1.3h1v.8v-2.7v2.4h1v-4.6v4.4h1v-.4v-3h1v2.4v-2.8h1v.6v1.5v-3.5h1v-1.2v3.9h1v-2.4v1.6h1v.8v-3.6h1v1.5v-1.5h1v2.2v-2.9h1v.2v1.7h1v1.8v-3.4v.2h1v-.3v1.7h1v-.5v.1v-1.8h1v.3v-1.1h1v-.3v-.1v1.5v-.4h1v-.9v-1h1v.7v-.8h1v-.3v.6h1v-1.5v2v-1h1v-.1v.7h1v.4v-.7h1v-.2v-.6v1.3v-1.3h1v.3v1.1h1v-1.2v-.3v.9v-.9h1v-.2v.7h1v-.1v1h1v-1v-1.6v.7h1v-.2v1.2h1v-.4v-.5v1.9v-1.9h1v.4v-.6h1v.2v1h1v-.4v1.8v-1h1v-.4v.7h1v-1.4v1.2h1v-.1v.6v-1.7v.9h1v.1v1h1v-1.1v1h1v-.6v.5" stroke="#0b84ee" stroke-width="1.9" fill="none" stroke-linejoin="miter" stroke-linecap="square"/>
<path d="M811.5 187.6v5.5h1v.6v-6.3h1v-.6v6.7v-1.8h1v1.8v-5.7h1v9.6v-10.3v9.4h1v-.1v-5h1v-.2v-.6v5.9v-5.9h1v4.9v2.7v-9.7v9.7h1v.7v-6.9v6.7h1v-.2v-7v6.4h1v4.1v-9.7v8.6h1v.1v1.2v-9.2v2.4h1v8.1v-7.8v.9h1v1.3v-4.3h1v-.5v6.5h1v4.8v-14.7v7h1v-1.8v-6.4h1v2.6v4.7h1v-11.4v17.1h1v-4.7v4.1h1v-6.6v5.8h1v-2.8v5h1v-5.8v4.9h1v-6.5v-1.1v7.5v-1.1h1v-7.5v7.2h1v-6.4v4.9h1v-9.4v7.8v-5.4h1v-1.5v-1.5v5.6v-5.6h1v7.4v-8.8v6.3h1v-7.2v9.5v-9h1v.9v-.9v7.9v-7.9h1v2v.3v-6.6v5h1v1.6v.9v-7.6v1.4h1v.5v-.9v6.5v-6.5h1v-2.7v5.6v-5.6h1v-3.9v9.8v-9.8h1v3.7v-.9v7.5v-7.5h1v9.7v-10.6v9.6h1v-9.4v-.8v4.8v-4.8h1v-1.1v4.6v-4.6h1v.9v-.1v2.3v-2.3h1v-.1v-.8v3v-1h1v-2.5v2.1h1v-.6v.6v-3.5h1v1.1v2.1h1v-2.2v3h1v.4v-3.6h1v.3v.6v-3.9v3.9h1v-3.1v3.7h1v-2.6v1.7v-7.2v6.6h1v-3v3.5h1v-3.8v2.3v-1.1h1v-1v2h1v-1.3v-.3v1.7v-.4h1v-.7v-1.3h1v.9v1.4h1v-1.4v-.4v1.1v-.2h1v-.7v.8h1v-.3v-.2v1.2h1v-1.7v1.2h1v.6v-1.2h1v1.1v.7v-1.6v1.6h1v-1.2v.8h1v-.4v.7h1v-1v1h1v-.6h1v-.6v1.7v-1.3h1v.9v-.7h1v.3v.5h1v-.4v-.1v1.1v-1.1h1v.6v-.8h1v-.3v.8h1v.1v.8v-1.7v1.7h1v-1.3v.7h1v-.2v.7v-.7h1v-.1v.8h1v-1.3v.8h1v-.7v-.1v.9v-.9h1v.6v-1.4h1v.9v-.6h1v-.2v1.2v-.5h1v.1v1h1v-1.1v.7h1v-.6v.8h1v-1.2v.8h1v-.2v-.2v1v-.4h1v-.6v.7h1v-.1v-.7h1v.4v.9h1v.2v-.7h1v.7v-.9h1v.7v.4h1v.1v-.6h1v.3v.5v-1.2v.6h1v1.3h1v.3v1.6v-.7h1v1.6v-.7v1.7v-1h1v1.9v.4v-2.1v.5h1v-1.3v1.4v-4.9h1v-1.1v1.1h1v-.9v.5h1v.4v-.7v.7h1v-.7v.8h1v-.3v-.7v.7h1v-1.4v1h1v-.7h1v.8v.1v-.9v.9h1v-.9v.6h1v.2v.3v-1.6v.6h1v.4v.6" stroke="#8ab810" stroke-width="1.9" fill="none" stroke-linejoin="miter" stroke-linecap="square"/>
<path d="M763.5 147.5v1.6v-8.3v2.3h1v3.2v8.5h1v-7.5v-.3v6.6v-6.6h1v10.4v-10.3h1v2.2v-3.4v10.1v-10.1h1v-3v6.9h1v1.3v-6.8h1v1.2v-1.1v12.9v-12.9h1v5v-6.3h1v2.5v-3.7h1v12.4v-13.4v2.4h1v5v-4.8h1v4.6v-4h1v4.1v.7v-3.9v3.9h1v-.3v6.9h1v-6.9v-.3v3.3v-3.3h1v.5v2.6h1v-4.7v5.6h1v-4.8v6.1h1v-4.7v3.1h1v-5.2v-.3v5.7h1v-3.9v3.9h1v-.7v2.6h1v-4.5v-2.1v5.7v-1.6h1v-.2v-3.7h1v-.5v4.8h1v1v.1v-4.5v4.5h1v-4.4v4.1v-.5h1v-.1v-3.7v2.1h1v-.4v-4.7v2.3h1v-1v1.1v-4h1v1.6v2.2h1v-2.8v2.8h1v-.2v.8v-2.4v.1h1v1.1v-2.3h1v3.2v-2.1v1.9h1v-2.1v1.8h1v-.9v1.5h1v-1v-.8v1.9v-.1h1v-1.3v2.2h1v-1.7v1.8v-4.2h1v3.9v-7.2h1v-2.8v17h1v-8.1v4.5v-33.2v16.6h1v5.5v-3.5h1v1.9v-.6h1v-.4v-.4v8.6v-8.1h1v-.8v.9h1v-.8v.1v-4.8v4.8h1v-.6h1v.4v-.8h1v1.1v-6.5v5.9h1v-.5v.8h1v-.1v.2v-1.2v1.2h1v-.5v-.4h1v-.8v.9h1v-1.1v1v-.9h1v-1v1.8v-1.8h1v-1.7v6v-5.3h1v-6.7v10.5h1v2.1v-8.8h1v4.6v-6.1h1v13v-24.4h1v15.3v-9.7h1v9.5v-9.4h1v3.4v-3.1v14.6v-14.6h1v13.5v-9.2h1v7v1.9v-10.1h1v.1v5.3h1v3.8v-11.1v11h1v2.4v-9.4h1v8.3v-9.3h1v5.8v-7.8h1v8.2v-4.9h1v-.2v-1.5v5.8v-5.8h1v.4v3.8h1v1.5v-4h1v.7v3.9h1v-4v3h1v.5v-3.4h1v-.9v3.4h1v.4v-12.4h1v16.3v-13.2v8.3h1v-13v10.8v-6.4h1v9.6v.1v-9.4v9.4h1v-.8v-7.6h1v8.9v-8.7h1v9.6v2.1v-8v.3h1v3.3v8.9h1v-10.5v4.2h1v2.6v-7.6v5.3h1v-6.3h1v2.2v-.1v2.7v-2.7h1v-.1v1.5h1v-1.5v1.7h1v-1.7v-.2v6.6v-6.6h1v.7v-2.1h1v2.6v-2.7h1v3.9v-4.6h1v1v3.6h1v.7v-4.2h1v1.5v.3v-5v5h1v-.7v-4.1h1v5v-3.1h1v5.1v-4.2h1v.7v1.6h1v-1.4v2.4h1v-.3v-3.6h1v2.1v1.4h1v-.6v-7.7h1v8.5v-3.3h1v3.6v-3.2h1v-1.6v-.2v4.2v-1.4h1v-3v3.5h1v2v-3h1v-.8v-.5v3.4v-3.4h1v1.7v3.3h1v-.9v-4.5h1v.7v3.8h1v-.2v-2.2v2h1v-.3v-3.8h1v-1.2v3.6h1v-1.9v2.8h1v-4.3v4.9h1v-5.1v4.2v-.3h1v-.6v2.5h1v.3v-2.7h1v1v-11.1h1v9.7v2.3h1v2.1v-3.2v.6h1v2.4v-4.5h1v1.5v-1.7v6v-6h1v2.5v-2.2h1v-1.6v4.6h1v-3v3.6v-2.4h1v-.8v1.7h1v-.2v-.8h1v.6v-.3h1v.5v-.4h1v.8v-7.1v6.3h1v.8h1v-.5v.7h1v-.7v-.1v1v-.3h1v.4v-1h1v.9v-.7h1v-.1v-.1v1.2v-1.2h1v.1v.7h1v.1v-1.2h1v1.1v.2v-1.2h1v-7.2v8.1h1v-.4v.5h1v-.8v1v-.7h1v.1v.8h1v-.2v-.5h1v-.4v.9h1v-.6v-.4h1v.3v-.5v.4h1v-.4v1.2v-.5h1v.9v3.8v-8.4v8.4h1v.6v-1v3h1v-1.1v2.3h1v.4v1.2v-2.6v2.6h1v-1.3v1.1h1v.8v.9v-1.9v1.9h1v-1.4v1.1h1v-1v7.1h1v-4.9v-2.2h1v1.6v-1.5h1v2.8v.7v-3v3h1v-2.5h1v1.6v.2v-2.8h1v3.5v-6h1v-.7v7h1v-7v-2.5v9.3h1v4v-9.2h1v5.9v-3.9v3.7h1v-2.3v2.2v-.2h1v-1.8v3.5v-1.3" stroke="#25776a" stroke-width="1.9" fill="none" stroke-linejoin="miter" stroke-linecap="square"/>
<path d="M819.5 159.8v1.1v-8.7v8.7h1v.4v-3h1v5.8v-5.4h1v1.2v-4.3v8.8v-5.9h1v-.7v.5v-11.1h1v1v3.2h1v-2.7v3h1v-.1v.5v-4.2v4.2h1v-.5v-5.6h1v1.7v5.2h1v-.3v-3.8h1v-.7v-1.8v6.3v-6.3h1v3.8v4.1v-9.1v1.5h1v3.9v-.2v4.8v-4.4h1v.3v5.9v-.4h1v-.3v-2.7v6.4h1v-.3v-4.8v4.1h1v1.5v.6v-3.7v1.1h1v3.6v.4v-5h1v6.1v-6.4v4.3h1v-4.1v3.1v-.4h1v-4.1v-2.7v6v-3.3h1v-1.5v-1.3v5.6v-5.6h1v5.3v-5.7h1v3.7v-4.6v.8h1v2.8v-3h1v2.4v-3.1v1.4h1v-2.1v1.5h1v-.2v-1.3h1v-.3v1v-.2h1v.8v-.9h1v1.6v-1.4h1v-.4v.7v-2v1.8h1v-1.2v.9h1v-1.2v1.5h1v-.2v.7v-1.5v.2h1v1.7v-1.6h1v-.2v-1.5v3.1v-1.3h1v.1v-2.1h1v1.6v-3.6h1v3.5v-2.3h1v-.1v2.1h1v-.2v-3.3v.9h1v.3v-.6v4v-4h1v3.2v2v-4.5v1.3h1v-.3v6.5h1v-2.2v-5.1h1v3.4v-.2v5.1v-1h1v-3.6v8.1v-4.8h1v2.1v-1.9v4.4h1v-1.7v-3.1v.3h1v2.5v-3.2v1.8h1v.2v-2.7v2.7h1v.7v-4.1v1.8h1v-2.4v-.1v2.6v-.9h1v-3.4v2.4h1v.2v-1.8h1v2v-1.4h1v-.5v2v-1.8h1v.3v-2.2h1v.1v2h1v-1.4v-.3v4.9h1v-3.6v2.3h1v-3.5v2.7h1v-2.3v3.4v-3.2h1v1.4v2h1v-2.1v-.2v3.7h1v.4v-2.3h1v.1v-.5v2.6h1v1.6v-3.8v3.2h1v-1.6v2.3v-2.2h1v3v-2.2h1v-.3v2h1v1.3v-1.9h1v-1.1v4.5h1v-1.3v-3.1h1v2v2v-1.8h1v1.4v-1.8h1v2.4v-2.8v2.5h1v-1.8v1.9h1v-1.3v2.2h1v-.2v1.1v-4.4v1h1v2.1v-2h1v3.6v-3.5v2.8h1v-.2v-2.5h1v1.9v1.1h1v-.3v.1v-2.1h1v1.8v-2h1v.2v2.4v-.6h1v.2v2.9h1v-3.4v1.9h1v-1.4v1.5v-.2h1v.2v-1.9h1v-.1v1.6h1v-1.5v1.8h1v-.9v-1.3h1v1.7v-2v1.5h1v-.9v-1.3h1v.2v1.3h1v-.4v-1.9h1v1.6v-1.6h1v-.1v2.1h1v-.3v-1.1h1v-.8v1.1h1v-1.5v2v-1.1h1v1.2v-1.4h1v.1v-.3v1.6v-1.6h1v-.3v1.7h1v-.2v-1.3h1v-.8v1.6v-1.6h1v.1v1.3h1v-1.5v2.1h1v-1.3v1h1v-.3v-1.1h1v.4v-.7v1.6v-.1h1v-2.3v1h1v.3v-1.8v4.2h1v-1.5v-1.2h1v1v1.9v-1.9h1v-.6v1.4h1v-1.3v2.8h1v-1.5h1v1.6v.6v-2.5v.6h1v.7v1h1v.4v-1.4h1v1.7v-2.1h1v.3v-1.5h1v-.2v1.8v-1.6h1v-.1v1.5h1v-1.4v-.1v1.3v-.2h1v-1.2v1.3h1v-.6v-1.9h1v.8v-1.9h1v1.3v1v-2.5v.2h1v1.7v-1.1h1v2.1v.4v-2v2h1v-1.5v1.6h1v-1v-1.3v4.1h1v-2v-1.4h1v1.1v-1.9h1v3.5v-2.1" stroke="#291f88" stroke-width="1.9" fill="none" stroke-linejoin="miter" stroke-linecap="square"/>
<path d="M807.5 185.8v6.4v-.9h1v1.5v-5v13.1v-9h1v-.9v10.4v-3.8h1v-3.5v6.7v-18v2.7h1v7.2v-10.1v.9h1v-1.3v-.1v7.1v-7.1h1v-.7v-1.5v9.6v-8.2h1v4.4v-6h1v1.1v7.7v-.1h1v-.4v-6.8h1v5.3v16.2h1v-17.9v6v-15.2h1v8.8v5.4h1v-6.2v-3.4v9.6h1v1.4v-5.2h1v4.9v-5.3h1v3.9v2v-8v8h1v-.7v-6.3h1v-6.8v10.5h1v-3.6v4.1h1v-3.7v4.8h1v-3.3v4.6v-9.3h1v12.5v-10.4h1v8.3v-4.8h1v-1.9v-6.9v16.8v-16.8h1v10v-6.3h1v7.5v-4.7h1v.7v-.8v6v-6h1v5.7v-6.2h1v4.9v-6.7v6.1h1v-11.8v13.2h1v-9.5v7.8h1v-11.5v10.6v-5.5h1v5.6v-5.7h1v9.2v-6.4h1v3.7v-6.1h1v2v-4.5h1v3.8v-11.4h1v12.3v-5.6h1v3.1v5.3h1v1v.8v-5v5h1v.4v-5.2h1v2.2v4.1h1v-5.2v-2.1v8.2v-4h1v-5v7.8v-1.9h1v-3.2v-1.6v7.2v-7.2h1v8.4v1.8v-7.3v7.3h1v-6.2v5.2v-.5h1v-9.2v10.5h1v-5.6v4.8v-1.7h1v-1.1v4.6h1v-5.1v3.8h1v1.5v-2.8h1v2.5v-3.1h1v3.4v-4h1v1.3v1.6h1v-1.5v-1.2v2.6v-2.6h1v2.7v-2h1v3v-2.7h1v-.1v1.4h1v1v-1.8h1v1.6v-3v2.6h1v-1.7v1.3h1v-.5v2.6v-2.1h1v2.9v-1.4h1v-1.4v1.6h1v-1.9v-.2v2v-.5h1v-.2v1.4h1v-2.5v-.4v2.2v-2.2h1v.6v-1.9h1v1v.3v-1.9v1.9h1v-3.3h1v2.9v-1.2v2.8v-1h1v-.4v-1h1v1.5v-2.2v1.3h1v-2.3v1.8h1v.5v-2.8h1v2.2v-1.2h1v1.5v-1.5h1v.2v1h1v-.7v1.8v-.5h1v-1.1v3h1v-.5v-1.1h1v.5v2h1v.6v-2.2h1v.4v-2.3h1v.9v-1.9v1.9h1v-1.6v.5v-3h1v-.8v2v-1h1v-2v2.8v-.8h1v-1.9v1.2v-2.4h1v-.7v1.4v-1.4h1v-2.2v2.8h1v-.1v-2.3h1v2.2v-1.6h1v.5v-1.6v.1h1v2v-1.5h1v2.1v-1.6h1v1.1v-1.6h1v2.5v-3.3h1v3.3v-2v.3h1v.4v1.4h1v-.9v1.3h1v.1v.3v-1.7v1.7h1v.3v-1.9h1v2.6v1v-2.4v2.4h1v-1.1v1.3h1v.4v-1v2v-1.5h1v.1v1.3h1v.6v-1.2h1v-.4v2.5v-1.8h1v3.4v-2.7h1v1.9v.4v-1.5v1.5h1v-.8v1.2h1v-1v-.2v1.5v-.3" stroke="#7b3f9d" stroke-width="1.9" fill="none" stroke-linejoin="miter" stroke-linecap="square"/>
<path d="M766.5 163v7.7h1v-7.7v6.9v-6.2h1v.3v6.2h1v-6.9v9.4h1v-9.2v3.3h1v-5.4v5.4v-1.5h1v-1.7v3.7h1v2v-4.4h1v-1.3v-2.2v6.6v-6.6h1v5.3v-5.8h1v-5.4v9v-6h1v-.4v-.8v9.2v-.6h1v-10.6v-2.6v8.5h1v-1.1v1.7v-9v1.3h1v-.2v5.6h1v-12v10v-4.8h1v3.4v2.9h1v4.1v-5.9v.7h1v1.5v3.4h1v1v-5.3h1v4.3v-4.4v10h1v-9.2v4.2h1v-3.3v4.7h1v-8.1v-4.8v12.5v-12.5h1v-1.2v-2.1v16h1v-8.7v-8.8v3.3h1v-1v5.7h1v-5.3v7.5h1v-6.6v14v-5.7h1v-8.9v8.7h1v-.9v-9h1v1.6v6.8h1v-5.9v-1.1v10.2v-10.2h1v1.9v4.5h1v2.7v-7.2h1v10.1v-13.4v9.1h1v-1.2v-5.4h1v-2.3v-.7v10.2v-10.2h1v2.4v6.7h1v.6v5.8v-12.9v6h1v6.3v-6.5h1v11.8v-13.1v6.4h1v-7.4v9.3h1v-7.8v10.7v-8h1v-2.4v5.7h1v.9v-6.5v5.7h1v-6.1v7.6h1v-3.7v-.4v8.5v-8.5h1v9.1v-8h1v5.7v-4.7h1v-1.5v-.6v7.8v-6.8h1v5.4v-5.9v13.2v-5.5h1v-2.6v-1.1v6.8v-1.3h1v2.3v.3v-5.7h1v-4.4v8.4h1v-1.6v-1.2v4.7v-4.7h1v3.5v-3.8h1v1.9v-.1v7.3v-.9h1v-.9v-8.5h1v11.6v-10.2h1v1.8v-1.9v5.1v-5.1h1v.8v6.3h1v1.3v-6.9h1v5.6v-6.1h1v6.4v-5.7h1v4.7v-3.8v.2h1v4v-5h1v2.8v4h1v2.5v-9.2v5.8h1v-5v4.7h1v-2v7.5v-7.1h1v10.4v-8.7h1v5.3v-5.4h1v4.2v3.5v-7.6h1v4.9v-4.8h1v4.4v-5.4h1v5.1v-4.2v.5h1v6.4v-5.5h1v3.6v-4h1v1.5v3.5v-7h1v-.3v7.2h1v-.9v-4.3h1v4.2v.7v-5.7v5.7h1v-1.9v-6.3h1v5.3v-6.2v2h1v.3v-6.3h1v8.5v1.9v-6.3v6.3h1v-6v5.5h1v-4.2v4.4h1v-1.5v.5v-5.9v5.9h1v2.7v-3.6h1v6.8v-9.6v5.6h1v1.4v-4.6v4h1v2v-5.7h1v.8v4.3v-2.6h1v-1v3.3h1v1.7v2.2v-5.1v5.1h1v-2.2v.7v-4.1h1v4.8v-4.2h1v-2.7v4.9h1v-.5v-4.6v4.6h1v-2.7v3.4h1v-3.8v-.6v3.6v-1h1v-1.9v4.7h1v.7v-4.1h1v1.5v-.6v3.7v-3.7h1v-.3v3h1v-.4v.1v-3.3v3.3h1v1v-4.4v4.1h1v-2.9v-2h1v.4v-2.3v6.5v-6.5h1v1.1v1.9h1v-2.8v-1.7v4.2v-4.2h1v5.1v-3.7h1v-.1v-.9v5.4v-5.4h1v-.9v3.4v-2.3h1v-2.1v4.3v-3.5h1v-2.7v-1.7v5.8v-1.5h1v-.4v-3.7v2.8h1v-.5v.2v-3v.1h1v1.1v3.6h1v-1.3v.3v-3.8v3.8h1v-2.1v2.3h1v1.6v.2v-4.8v4.8h1v-.2v.9v-3v1.2h1v2.8v-2.9h1v3.7v-4.8v.1h1v3.2v-3.1h1v2.8v-6.1v2.2h1v1.7v-1.8v4.1v-4.1h1v2.6v-.7v2.5v-2.5h1v.3v-.5v3.8v-.6h1v-4.8v2.6v-5.3h1v.1v-.5v3.1v-3.1h1v2.3v-2.5v.3h1v-.8v3h1v-.1v-5.7h1v5.4v-2h1v4.1v.4v-3.2v3.2h1v.9v-2.4h1v.6v.3v-2.9h1v.4v3.4h1v-3v3.3h1v-2.1v2.7h1v-.7v.4v-2.8h1v3.2v-1.5h1v.7v2v-1.7h1v.6v1.9h1v-1.5h1v.2v1.3v-3.1v2.8h1v1.4v1.4v-3.8v2.7h1v.9v-.4v3.5h1v-.7v3h1v.4v-1.1v2.9h1v.6v-1.7h1v.7v1v-2.9h1v.7v2.8h1v.5v1.1v-3v3h1v-2.8v1.7h1v.1v.1v-1.7v1.7h1v-.9v1.2h1v-1.2v-.5v1.8v-1.8h1v1h1v.1v-1.2h1v1v-1.4v1.4h1v-.4v-1h1v1v-1h1v.2v-1.3v.3h1v1.4h1v-1.2v2v-1.3h1v.6v1h1v.9v1.2v-2.5v1.2h1v.2v-.1v1.4v-.6h1v-.3v.2v-2.8h1v2v-3.7v1.3h1v-1v-2.6v1.1h1v-.8v.8h1v-.9v.8h1v-1v-.4v1.6v-1.6h1v1h1v.2v-1.5v1.3h1v-.8v.9h1v-.5v-.9h1v-.9v1.5h1v.2v-1.2h1v.6v-.5h1v.4v-1.1v1h1v-.3v-1.1v.9h1v-1.1v.7v-1.5v1h1v-1.2v.7h1v-1.2v.8v-1.8h1v-1v-.2v.9v-.9h1v-.7v.6v-1.8h1v-.3v.1v-.8h1v-.4v.5v-1.3h1v.7v-.4h1v.1v.3h1v-.1v.3v-.7v.3h1v.5v-.5h1v.4v-.6v.6h1v-.6v.4h1v.6v-.7h1v.9v-1.2h1v.3v.3h1v-.4v.6v-2.1h1v-.6v-1.4v8" stroke="#e3007b" stroke-width="1.9" fill="none" stroke-linejoin="miter" stroke-linecap="square"/>
<path d="M767.5 170.8v6.4h1v-5v5.7h1v-5.3v6.8h1v-8.1v6.7v-5.2h1v6.2v-7.2h1v1.8v4.4h1v1.7v.5v-6.6v.1h1v-.5v7.7h1v-9.4v5.3h1v-4v-2.3v7.1v-7.1h1v1.7v6.5h1v3.5v-7.3v.1h1v6v-6.7h1v8.5v-7.1v4.8h1v1.1v-10.4h1v12.1v-10.4v8.8h1v-5.7v5.6h1v-1.5v.2v-8h1v4.5v4.3h1v-3.2v5.6v-.4h1v8v-15.8h1v3.7v8.7v-7.9h1v-2.7v10.2v-9.1h1v.2v-.2v4.8v-1.1h1v-4.6v5.5v-4.9h1v3.1v1.7v-12.6v7.5h1v-2.4v8.2v-7.4h1v-1.4v5.3h1v-9v6.4v-6.1h1v-1v9.1h1v-3.3v2.6v-9.8v9.8h1v-12.3v10.4h1v.2v-5.4h1v5.3v1v-4.9h1v5.6v-5.5h1v7.6v.4v-5.8h1v-.3v4h1v-1.6v-5.9h1v4.5v2.8v-5.9v.5h1v8v-8.7h1v-2.4v4.5h1v-3v-.4v4.8h1v-6.1v4.1h1v-2.7v14.1v-14h1v5.2v-6.6h1v-2.1v7v-5.1h1v6.8v-5.7h1v-1.1v-.8v6.5v-.7h1v-2.7v-4.1h1v1.4v6.7h1v-1.4v-6.6v16.4v-10.8h1v1.3v-3.8h1v-4.4v9.8v-4.5h1v3v-5.3h1v1.9v-1.2v7.7v-7.7h1v5.3v-5.7h1v3.6v-5.7h1v-.7v-1.1v7.5h1v-7.4v5.3h1v-5.5v9.1v-4.3h1v1.9v-6.3h1v2.5v4.4h1v-5.8v8.3v-1.9h1v-2v-9.7h1v2.4v6.4h1v-6.7v9h1v-7.9v8h1v2.3v-7.6h1v.3v-.7v5.7h1v7.3v-12.9h1v.5v6.1h1v.5v1v-7.2v7.2h1v.1v-8h1v3.1v4.2h1v-6.7v-2.4v8.3v-8.3h1v5.3v-9.2h1v4.9v5.5v-4.5h1v.4v4.9h1v-.7v-7v5.2h1v-3.7v4.4h1v-5.5v5.8h1v-3.3v2.1v-7.5v7.5h1v-2.5v-5.5h1v11v.3v-13.5v4.7h1v5v-4h1v-1.8v6.8h1v-1.3v-5.8h1v2.1v3h1v-.5v.1v-8v8h1v-2.7v-3.9h1v.5v-1.1v5.1h1v-4.9v5.2h1v-5v5.7h1v-4.2v3.1h1v-5v-.4v6.1v-6.1h1v-.7v3.3h1v-.9v-4.4v4.4h1v.4v-4.1h1v3.5v1.3v-6.5v2.6h1v4.2v-4h1v1.5v2.3v-6.4v6.4h1v.3v-4.2h1v3.1v1v-4.7v4.7h1v-6.1v4.9h1v-2.7v-2.5v6.2v-2.7h1v1.4v-7.5h1v5.9v-4.7h1v1.4v2.9h1v-4.8v3.9v-3.8h1v.8v4.6h1v-2.1v4.1h1v-2.8v-1.4v5.5h1v-3.6v3.1h1v-3v-1v2.6v-2.6h1v1.6v-1.9h1v1.6v-1.7h1v-.5v4.8v-.8h1v-.4v-1.9h1v.1v1.3h1v-.6v-2.3v1.9h1v-.5v-1.3h1v.9v.6v-3.4h1v2.7v1.1h1v-2v2.2v-4.5v3.7h1v-2.3v1.5h1v1.1v-3h1v4v-3v.3h1v1.8v-2.2h1v.1v2.4v-.1h1v-1.4v2.3h1v-1v-2.1h1v2.7v-2.5h1v1.9v-2.2h1v3.2v1.6v-3.7v1.8h1v2.1v-2.2h1v1.4v-2.4h1v-1.1v2.7h1v-2v3.4h1v-2.4v4.1h1v-5.1v2.9v-.1h1v-.7v-1.3h1v3v-2.1h1v3.3v-4.2v2.8h1v-1.8v1.8h1v.5v-1.3h1v2.1v-2.2v.4h1v1.1v-2.1h1v.8v-.7v2.2v-2.2h1v2.9v-2.8h1v.1v2.1h1v.2v-1.7h1v-2.8v4h1v-.5v-4.7v2.6h1v.5v1.5h1v-.8v.5v-2.4h1v4v-2.7h1v1.5v1v-2.7v2.7h1v-2.9v1.7h1v-2.5v-.1v2.2v-2.2" stroke="#e8091f" stroke-width="1.9" fill="none" stroke-linejoin="miter" stroke-linecap="square"/>
<path d="M861.5 169.7v-2.8h1v2.6v-3.9v3.3h1v-2.3v2.6h1v-5.1v5.9v-5.1h1v1.3v-1.6v3.7v-3.7h1v-.4v2.4h1v-2.6v2.2h1v.3v-2.9h1v.2v-1v3.1v-.9h1v.6v-2h1v.9v-1.5h1v1.3v-1.6h1v2.3v-2.5h1v-.8v2.4h1v-1.4v3v-.5h1v1.4v-1.4h1v2.1v-5v2.1h1v-4.6v3.9v-1h1v-1.9v2.1h1v-1.1v-2.6v1.3h1v-1v-2.6h1v1.4v-2.1v1.5h1v-.6v.2v-1.7v1.7h1v-.4v1.9h1v-.1v1.7v-3.5v3.5h1v-.6v-2.2h1v-.4v2.3v-1h1v1.1v-1.3h1v1.7v-1.6h1v2.5v.4v-1.5v.2h1v-.6v1.6h1v1.5v-2.9h1v1.5v-1.4h1v1.1v-1.8v.3h1v3.1v-3.2h1v.8v-1.5h1v-.4v2.3h1v-.6v1.4h1v-2.4v1.9v-.5h1v-2.2v1.6h1v-1.3v1.8v-1.6h1v1.3v-2.5h1v2.8v-1.6h1v-1.2v3.3v-1.7h1v2.3v-2.3h1v1.7v.9v-3.4h1v2.5v-1.9h1v-.2v-.8v2.7v-1.5h1v.2v-1.5h1v-.9v2h1v-4v2.8h1v.1v-1.8h1v.3v1.5v-1.5h1v.3v1.2h1v-2.3v-.3v3.4v-3.4h1v-.1v1.9h1v-.4v.7v-2.1v2.1h1v-1.5v.9h1v-.6v-1h1v.8v-2v1.1h1v.2v-1.8h1v1.3v-2.2v1.1h1v.2v-1.3h1v1.5v-.8h1v.2v1.3v-.9h1v.4v1.2h1v.1v-1.2h1v1.3v-1.4h1v-.2v1.1h1v-1.2v1.1h1v.4v.4v-1.5v1.5h1v1.4v-1.9h1v-.3v-.1v2.2v-2.2h1v1.9v-.8h1v1h1v-1v1.8h1v-.4v-1h1v1v.6v-1.3v1.3h1v.1v-1.2h1v.6v1.8h1v-.6v1v-2.3v2.3h1v-.7v-1h1v1.2v-1.9h1v1.4v-1v.7h1v-.3v-1.2h1v.5v-.1v1.5v-.7h1v-1.4v1.3h1v-1.1v-2.5h1v.6v1.2h1v-.3v-1.6v1.6h1v-.5v-.8h1v.2v-1.4v.7h1v.3v-2.2v.6h1v-.5v.1v-1.8v.7h1v1v-.6h1v-.7v.5h1v-.9v1h1v-.4v.5h1v.1v-1.1v1h1v-.3v.3h1v-.5v-.3v1v-.2h1v-.5v.8h1v-.6v.5h1v.1v.3v-.9v.1h1v.6v-.6h1v.5v.5h1v-.1v.5v-1v1h1v-.1v-.4h1v.8v-.6h1v.2v.6h1v.4h1v.1v2.3v-7.1v7.1" stroke="#ff6810" stroke-width="1.9" fill="none" stroke-linejoin="miter" stroke-linecap="square"/>
</g>
<path d="M630.00 266.40v-3.0M630.00 17.40v3.0M655.19 266.40v-3.0M655.19 17.40v3.0M680.38 266.40v-3.0M680.38 17.40v3.0M705.58 266.40v-5.2M705.58 17.40v5.2M730.77 266.40v-3.0M730.77 17.40v3.0M755.97 266.40v-3.0M755.97 17.40v3.0M781.16 266.40v-3.0M781.16 17.40v3.0M806.36 266.40v-5.2M806.36 17.40v5.2M831.55 266.40v-3.0M831.55 17.40v3.0M856.75 266.40v-3.0M856.75 17.40v3.0M881.94 266.40v-3.0M881.94 17.40v3.0M907.14 266.40v-5.2M907.14 17.40v5.2M932.33 266.40v-3.0M932.33 17.40v3.0M957.53 266.40v-3.0M957.53 17.40v3.0M982.72 266.40v-3.0M982.72 17.40v3.0M604.80 266.62h3.0M1007.40 266.62h-3.0M604.80 255.30h5.2M1007.40 255.30h-5.2M604.80 243.99h3.0M1007.40 243.99h-3.0M604.80 232.67h3.0M1007.40 232.67h-3.0M604.80 221.36h3.0M1007.40 221.36h-3.0M604.80 210.04h3.0M1007.40 210.04h-3.0M604.80 198.73h5.2M1007.40 198.73h-5.2M604.80 187.41h3.0M1007.40 187.41h-3.0M604.80 176.09h3.0M1007.40 176.09h-3.0M604.80 164.78h3.0M1007.40 164.78h-3.0M604.80 153.46h3.0M1007.40 153.46h-3.0M604.80 142.15h5.2M1007.40 142.15h-5.2M604.80 130.83h3.0M1007.40 130.83h-3.0M604.80 119.52h3.0M1007.40 119.52h-3.0M604.80 108.20h3.0M1007.40 108.20h-3.0M604.80 96.89h3.0M1007.40 96.89h-3.0M604.80 85.58h5.2M1007.40 85.58h-5.2M604.80 74.26h3.0M1007.40 74.26h-3.0M604.80 62.94h3.0M1007.40 62.94h-3.0M604.80 51.63h3.0M1007.40 51.63h-3.0M604.80 40.31h3.0M1007.40 40.31h-3.0M604.80 29.00h5.2M1007.40 29.00h-5.2M604.80 17.68h3.0M1007.40 17.68h-3.0" stroke="#1a1a1a" stroke-width="1.1" fill="none"/>
<rect x="604.80" y="17.40" width="402.60" height="249.00" fill="none" stroke="#1a1a1a" stroke-width="1.35"/>
<text class="t" x="604.80" y="287.40" text-anchor="middle">0.0</text>
<text class="t" x="705.58" y="287.40" text-anchor="middle">0.2</text>
<text class="t" x="806.36" y="287.40" text-anchor="middle">0.4</text>
<text class="t" x="907.14" y="287.40" text-anchor="middle">0.6</text>
<text class="t" x="1007.92" y="287.40" text-anchor="middle">0.8</text>
<text class="t" x="599.20" y="260.90" text-anchor="end">1.0</text>
<text class="t" x="599.20" y="204.33" text-anchor="end">1.5</text>
<text class="t" x="599.20" y="147.75" text-anchor="end">2.0</text>
<text class="t" x="599.20" y="91.17" text-anchor="end">2.5</text>
<text class="t" x="599.20" y="34.60" text-anchor="end">3.0</text>
<text class="t xl" x="806.10" y="315.20" text-anchor="middle">Shannon entropy</text>
<text class="t yl" transform="translate(559.50 141.90) rotate(-90)" text-anchor="middle"><tspan class="sg">σ</tspan><tspan class="pr" dx="-0.6">(</tspan><tspan dx="-0.5">Out degree</tspan><tspan class="pr">)</tspan></text>
<clipPath id="cB1"><rect x="82.8" y="340.3" width="403.10" height="249.00"/></clipPath>
<g clip-path="url(#cB1)">
<path d="M143.5 417.7v-.4v8v-8h1v6v-6.7h1v2.4v2.5v-5.7v5.7h1v-4.4v-.2v7.1v-7.1h1v-.5v5.6v-4.9h1v2.4v-2.9h1v4.6v-4.2h1v.4v-1.2v6.7v-1.6h1v-6.7v6.7h1v1.1v1.9v-7.5v7.5h1v-8.5v5.1h1v-2.3v1.5v-11.2h1v6.8v-3.1v6.5v-6.5h1v5.6v2.2v-14.5v5.3h1v.5v-.8v5.3v-5.3h1v4.5v-8.4v4.1h1v-.4v-6.6v.5h1v1.1v4.5v-.4h1v-.3v.5v-9.6v6.9h1v-.3v-6.8h1v5.3v.7v-6.2v6.2h1v-2.6v-5.2v4.9h1v-6.1v6.4h1v-3.8v2.8h1v-3.1v-1.8v5.6v-5.6h1v2.2v3.9h1v-4.5v4.1h1v-1.2v.8v-3.4v3.4h1v-4v3.4h1v.5v-4.6v3.2h1v-.8v-3.7h1v3.6v-2.8h1v3.9v-3.4v3.3h1v.6v-4.7h1v1.6v-.7v3.1v-3.1h1v.3v3.7h1v-1.6v-2.1h1v.7v-4.3h1v4.4v-4.3h1v2.3v3.1h1v.3v.2v-5.6v5.6h1v-2.9v2.8h1v1.4v-4.4h1v2.9v-3.1h1v3.2v.6v-4.2v2h1v-2v4.7h1v-1v-4.1h1v-.4v-1.3v4.2v-4.2h1v6.8v-5.2h1v3.1v-7.8v6.7h1v-3.9v2.8h1v-.8v-2.1h1v-.4v-.4v3.1h1v1.2v.3v-4v4h1v4.7v-6.5h1v-1.4v6.4h1v-4.1v2.8h1v-.2v-3.7v3.7h1v1.5v-2.3h1v1.2v4.8v-4.4h1v.7v3.5h1v-1.1v1.4v-8.5v8.5h1v-2.1v-2.9h1v2.3v-3.7h1v3.7v-3h1v.5v-.5v2.8v-2.8h1v3.1v3.7h1v-1.2v.6v-2.8v.4h1v5.7v-5v3h1v-5.6v7.2v-.4h1v-.9v-2.6h1v4.6v.7v-6v6h1v-.6v.4v-4v4h1v-4.5v6.6h1v1.1v3.1v-10v2.2h1v-.7v6.6v-4.2h1v2.4v-3.3h1v4.4v1.5v-5.8v5.8h1v-.4v.3v-6.3h1v2.8v4.6h1v-2.7v-3.1v8.3v-8.3h1v6.5v-5.4h1v5.6v1v-8.9h1v-1.5v6h1v-8.2v6.9v-6.4h1v-1.8v7h1v2.8v-7.7h1v5.1v-4.9h1v-1.1v4h1v1.4v1.7v-5.5h1v.9v5.1v-1h1v.4v-5.1h1v4.6v.4v-6.3v6.3h1v-7.8v5.1h1v2.2v-8.2v3.4h1v-.9v-4.1v3.3h1v1.8v-5.2h1v3.4v.9v-6.2v6.2h1v.7v.1v-4.7v.6h1v.6v3.9v-3.3h1v4v1.4v-10.9v5h1v3.3v4.2h1v-3.7v9.6h1v-8.9v-2.4v11h1v-1.7v-9v6.1h1v-4.5v5.4v-3.2h1v.3v5.3h1v-5.4v9.2v-7.2h1v.4v7.1v-3.4h1v4.9v.1v-5.7v5.7h1v-1.2v.4v-4.8v4.8h1v.6v-3.1h1v3.4v.1v-3.1v3.1h1v-2.7v-1.8v5.4v-5.4h1v3.5v-2.2h1v1.8v1.3v-3.8v3.8h1v1.3v-4.8v1.5h1v.5v2.6h1v-2.9v2.4v-5.9h1v3.7v3.8h1v-3.4v3.2h1v-2.9v4v-1.9h1v-1v-.1v3.3v-3.3h1v.5v3.2h1v1v-1.9v4h1v.3v-3.7v2.8h1v.5v-2.6h1v-.8v4.1h1v-2.6v1.9h1v.9v-5v.7h1v4.5v-4.2h1v1.4v4.6h1v-.2v-2.9h1v1.5v1.5v-5.8v3.1h1v1.7v-1.9h1v1.4v3v-2.5h1v1.1v3.2h1v-4.6v3.9v-.1h1v-1.5v2h1v-3.1v4v-1h1v.6v-2.9h1v1.8v-2h1v2.5v.4v-3.6v3.6h1v-.4v-2.7h1v1.2v-.4v3.8v-1.1h1v2.5v-2.3h1v-1.6v3.8v-3.2h1v3.1v-4.6h1v1v3.2v-2.6h1v1.9v-3.9h1v4.6v-3.7h1v-1.4v6v-2h1v.4v-2.4h1v1v3.6v-2.9h1v.4v2.3h1v-2.3v-.5v3.4v-.7h1v-.9v2.6h1v-2.2v3.4v-.6h1v-.7v-2.3v4.6v-2.1h1v2.7v-3v.9h1v3.3v.6v-2.9v2.9h1v-2v2.4v-2.1h1v3.2v.8v-2.6v.7h1v2.6v1v-3.4h1v2.8v.2v-5.1v5.1h1v-.9v-1.3v3.8v-2h1v2.7v1.6v-4.4h1v1.5v3v-2.1h1v3.6v.5v-3.2v1.2h1v-2.3v6.2v-1.9h1v1.5v-.3v2.4v-2.4h1v.4v3.8v-2.4h1v.8v4.1v-2.3h1v.1v3.8h1v-.3v1.1v-2.8v1h1v1.1v-.6v2.3v-2.3h1v1.8v-1.7h1v.2v-.1v2.4v-.7h1v.4v.9v-3.2h1v1v1.6h1v-1.7v2.7v-1.6h1v1v2.2h1v-1.1v1.3h1v.7v.5v-2.6v1.1h1v1.9v-2.1h1v.7v-.6v2.3h1v-1.6v2.1h1v1.1v-1.4h1v2.9v.4v-3.5v3.5h1v-2v2.2v-1.5h1v4v-3h1v2.5v-1.9h1v.9v-1.5h1v-.3v-.4v1.7v-1.7h1v-.2v1.6h1v-4h1v2.8v1.6v-.4h1v.4v-1h1v.4v.1v-1.5v1.5h1v.4v-1.2h1v.5v-1.2h1v.8v-2h1v.1v1.5h1v2.3v-3.2v.1h1v1.7h1v.6v-1.8h1v-.6v1.8v-1.8h1v-.3v2.2h1v-.3v.1v-1.7h1v1v-1.6h1v2.1v-1.4h1v.5v-.5v2v-2h1v-1.3v2.1h1v-1.2v1.5h1v-.2v-1.9h1v1.3v-1.8h1v-.3v1.9v-1.2h1v.6v2.8h1v-2.6v2.4v-1.4h1v.5v2.7h1v.9v-1.4v1.4h1v-1.3v3.1v-1.1h1v.9v1.9h1v-.9v.5v-1.6h1v.1v1h1v-.8v-.2v1.4v-.1h1v-.6v1.3h1v-1.2v1.4h1v.2v-1.1h1v1.9v-1.2h1v1.3v-1.5h1v1.5v-1.1h1v1.4v-1.3v.3h1v.8v.8h1v-.7v1.7h1v-.3v-.8h1v1.2v-1.3h1v1.2v.2v-1.4v1.4h1v.6v-.9h1v-.5v2.7v-.9h1v.5v1.6v-1.5h1v.5v1.6v-.8h1v.2v.8h1v-.6v1.5h1v-.4v1.2h1v.6v-1.6v1.6h1v-.2v1.5h1v-.2v1.2v-.8h1v.3v.8h1v-.5v1.6v-1.1h1v.6v.9v-.8h1v1.4v-1.1h1v1.7v.2v-1.1v.3h1v.5v1h1v-.3v-.1v1.3h1v.9v-1.5v.4h1v-.1v1h1v.6v-1v1h1v.3v-1.6h1v.8v1.5v-.9h1v1.1v-.8h1v-.1v1.6v-1.2h1v.1v.9h1v-1v1.7v-1.1h1v1.2v-1h1v-.2v1.4v-.2h1v.3v-1.7h1v1.5v-1.2h1v-.7v1.4v-.7h1v-.6v1.7h1v-.3v.3v-1.3h1v.1v.7h1v.2v-1h1v1.4v.1v-1.4v1.4h1v1.4v-1h1v.6v-1h1v.6v-.8v2.1v-2.1h1v1.5v2h1v-.7v-1h1v1.2v.5v-1.7v1.7h1v-1.8v.9h1v1.2v-1.1h1v-.5v2v-1.7h1v1h1v.1v-1.2h1v2.3v-1.9v1.3h1v-.8v-.8" stroke="#000000" stroke-width="1.9" fill="none" stroke-linejoin="miter" stroke-linecap="square"/>
<path d="M161.5 409.4v-5.7h1v.1v4.2v-8.9v8.7h1v-10.3v6.4h1v.8v-5.9h1v1v11.7h1v-1.4v-8.3h2v-4.8v12.3v-6h1v-5.2v9.5h1v-4.5v-6.1h-1v7.3v-4.1h2v7v-6.6h1v4.8v-6.3h-1v13.3v-13h1v3.1v-1v4.5h1v2v.4v-7.7v7.7h1v-7.8v8.3v-2.6h1v2v-8.6h-1v6.3v-4.6h1v-.7v6.4h1v1v-4.2h-1v5.7v.7v-7.9v5.8h1v-6.7v3.9h1v1.4v-4.3h1v-1.7v5.7h2v-6.7v6.3v-5.4h1v6.5v-15.6v7.4h1v-4.2v-1.5v8.3v-3.7h1v-6.4v8.5h1v-7.3v12.2h-1v-7.4v-7.6h-1v3.3v-3.4h2v-3.8v-1v7.4v-7.4h1v6.5v-7.1h-1v-1.1v5.3h1v-5v-1.1v8.8v-3.5h1v2.2v.4v-7.7v2.2h1v.6v-2.5v8.8v-5.7h1v5.3v-4h-1v4.3v-6.2h1v5.3v-10.1v7.3h1v-4.4v4.7h1v-.9v-4.1v9.6h-1v-8.4v4.9h1v-3.7v3.9h1v-2.5v1.5v-6.2v6.2h2v-6v5.4h1v-9.8v-.2v9.3v-2.6h2v-3.3v-3.8v13.7v-8.8h1v-1.3v5.9v-4.9h1v-.1v6h1v-.6v-7.1h1v-1.6v9.5v-5.7h1v4.9v-5.4v10.9v-3h1v1.4v2.5v-10.3h-1v7.3v-4.3h1v4.7v3v-7.8v7.8h1v-5.6v10.7h1v-18.1v16.6v-5.1h1v-.2v-1.4v12.8v-8.9h1v-2.6v-5.7h1v1.6v-2.4v8.2v-8.2h1v8.3v.4v-8.1v8.1h1v-5v-3.6v8.9v-1.3h1v-6.2v6.8h-1v-10.1v-1.8v11.2h1v-11.2v13.4v-.4h1v-5v.3v-8.2v8.2h1v-.8v-6.3h1v.3v-5.1v16.1v-16.1h1v11.2v-6.7h1v-.1v5.4h2v-.2v-5.2h-1v1.1v-1.3v5.6v-.7h2v-3.9v6.9h1v-.8v-8.2v4.6h1v-7.9v12.2h2v-4.9v-8.6h1v2.7v8.5h1v-7.6v3.3h-1v-.6v3.9v-11v8.1h1v3.8v.8v-13.7v9.5h2v.3v3.8v-17.3v5h1v11.8v-11v6.9h1v-7.4v6.1h1v-6.2v10.7h2v-5.2v2.1v-7.6v1.2h1v5.7v-4.7v10.5v-5h-1v5.7v-6.2h1v4.3v-4.7h2v5.3v-7.5v4.4h1v1.2v.5v-5.6h1v-1.3v4.6h1v-3.4v-3.1v9.6h1v-10.7v9.1h1v-7.2v7.6v-4.3h1v6.3v.5v-5.4v5.2h1v.9v-5.7h1v-2v10.4h-1v-2.3v-5.1h1v5.1v2.6v-7.3v7.3h1v5.8v-17.3v9.6h2v-5.2v-1.6v7.2v-7.2h1v8.6v.1v-5.9v5.9h1v-2.9v-3.7v8.8v-4.1h1v3.2v-8.3h1v-6.3v13.7v-1.9h1v-5.5v-.7v9h1v-1.9v-5h1v-1.4v9.8h2v-2.5v2.1v-9.3v5.1h2v3.8v-7.2v.8h1v.7v-2v8v-2.3h2v2.1v-9.3v5.2h-1v-2v-2.1v14.2v-7.7h1v-3.7v4.4h1v-.5v-5.3h1v1v-.2v5.2h-1v-4.8v-1.2v7.7v-.1h1v-3.5v-4.3h1v5.5v-10.3h-1v2.2v7.6h1v-.8v2v-8v8h1v.3v2.8v-10.3v7.1h1v-2.6v4.1h-1v-4.9v4.4h2v-5.1v-1v9.4v-9.4h2v2.1v9.2h2v-11.6v10.6v-6.9h1v-.6v7.2h1v-7.3v-1.5v8.2v-8.2h1v7.3v-6.7h-1v3.6v-7h1v10.4v.2v-6.3v6.3h-1v2.6v-7.9h2v-.7v7.9h-1v1.3v4.1v-11.9v2h1v7.9v.5v-8.2v8.2h1v-5v4.8h1v-7.7v9.2h1v-.7v-7.2v6.9h1v-1.8v2.5v-7.9v7.9h1v-4.1v4.2h1v1.3v-5.9h-1v4.3v-4h1v4v-3.7h2v-3.7v6h-1v2.2v-5.6h1v1.3v-2.6v7.1h1v.7v-12.1h1v13.4v2v-10.6v5.9h1v-1v5.9h1v1.7v-4.6h1v5.3v3.2v-8.1v3.3h1v.7v-2.5v7.8v-7.8h1v3.9v-3v6.4v-5.9h2v5.5v3.3v-9h1v9v-6.4h1v3v-1.2v6.6v-.8h1v3.7v-6.1h1v4.1v-7v7h-1v-2.6v-9.3h1v6.5v-3.3v7.9v-4.3h1v3.8v-8.5h1v5.9v6.6h1v2.7v.6v-9v.6h1v2.1v5.2h1v.1v3.1v-7.9v7.9h1v-.7v-3.8h1v-5.8v7.7v-1.8h1v1.2v-2.6h1v6.2v3.2v-8.4v8.4h1v-1.3v-5.2h1v-.5v4h1v.9v2.1v-7.2v7.2h1v-6.4v6.8h1v-1.3v-4.4h1v4.6v-3.8h1v-.1v4.2h1v-4.5v3.3h1v-1.5v-1.8v5.5v-1.7h1v-.5v-2.9v7.4v-7.4h1v3.2v-4.6h1v2.3v3.5h1v.7v-4.3v.1h2v2.9v-2h1v-.4v-.1v3.4v-3.4h-1v3.9v-2.8h1v3.8v-4.8h1v6.4v-6.1v3.3h2v-2.3v-.9v3.6h1v-2.7v4.2h1v-6v-1.3v7v-3.7h1v.4v4h1v.6v-5h1v1.2v7.8v-5.2h1v3.5v-3.1v6.3v-5.2h1v3.2v1.5v-6v4.4h1v1.1v-2.7h1v3.7v2.6v-5.9v2.4h1v3.5v-2.7h1v-2.1v5.5h1v-.7v-3.6v1.4h1v2.1v-.6v2.8v-.8h1v.2v1.6v-5.1v5.1h1v-5v3.1h1v.7v-3.4v.7h1v.6v-1.3v3.4v-1.1h1v2.4v-3.4v3.4h1v-2.2v1.4h1v-.6v2.1h1v-1v2.8v-1.6h1v1.9v.4v-2.9v.1h1v4v-2.8h1v.4v2.2h1v-2v1.9v-1.4h1v-.3v2.5h1v-1.5v3.1v-1.6h1v1v1.7v-3.8h1v1.7v.3v-1.7v1.7h1v-.3v-1.7v3.6h1v-.8v1.4h1v-1.3v1.9v-1.6h1v.1v2.5h1v1v.9v-3.1v2.7h1v-3.4v3.8h1v-1.4v-.9v2.6v-2.6h1v.2v2.1v-1.3h1v2.4v-2.1h1v.9v-1.1v2.8v-2.5h1v.2v3.3v-2.2h1v.7v2.2v-1.8h1v.2v2.5h1v-1.5v-1.3v3.5v-1h1v-.2v.4v-1.4v1.4h1v1v.9v-2.2h1v.3v2v-1.3h1v1.2v2.2h1v-2.1v2.3h1v-1.1v1.6v-1.5h1v1.9v-2.2v.3h1v2.2v.2v-3.2v3.2h1v-.5v-.2v2.1v-.5h1v-2v3.3v-1.3h1v.8v1.2h1v-1.2v2.4v-2.2h1v.4v2.7h1v-2.9v3.3h1v-1.2v-1.7h1v1.8v1.4v-3.7v3.7h1v.8v-2.5h1v2.4v.6v-2.1h1v.4v1.8v-1.7h1v2.7v-1.5h1v-.4v2.7h1v-1.1v2.1v-2.1h1v.1v2.2v-1.6h1v1.4v-1.2h1v1.7v-2.7v2.3h1v.4v.3v-2.2v2.2h1v-.9v1.9v-1.8h1v2h1v-1.7v1h1v1.6v-2.1v1.2h1v1v-1.6v1.1h1v.5v.8v-1.9v.3h1v-.2v1.9h1v.1v.2v-1.3v1.3h1v-1.1v-.8v2.1v-2.1h1v1.3v1.4v-1.2h1v1.1v1.1h1v-2.2v3.1h1v-1.1v1.8v-1.1h1v1.9v1v-2.5v1.5h1v1.8v.6v-1.6v1.6h1v-.1v1.3h1v.9v.4v-1.4v.5h1v.8v-1.2h1v-.3v2v-1.2h1v1.6v-.8h1v.2v2.2h1v.6v-1.2v1h1v-1" stroke="#ffff12" stroke-width="1.9" fill="none" stroke-linejoin="miter" stroke-linecap="square"/>
<path d="M191.5 343.3v6.3h2v6.3v-14.6h1v12.3v-10.4h1v8.8v-10.9h2v-.4v-1.6v12v-8.9h2v1.3v6.6h1v-11.1v7.5h-1v1.2v-7.9h1v2.6v4.6h1v2.9v-13.5h-1v7.3v6h1v1.3v-5.9h1v3.5v-5.5h2v7v-12.9h-2v6.7v6.7h1v-13.5v11.1h-2v-.2v-5.3h1v-5.6v11.5v-7.9h1v-.7v6.8h-1v2.2v-8.3v8.1h2v6.2v-10.9h1v10.4v-6.3h2v2.4v-8.6h1v10v-8.6v6.9h-1v-6.3v-2.6v9.5h-1v2.5v-10.7v2.4h1v.8v6.4h1v-.7v2.6v-7.4v7.4h2v-.7v2.6v-8.1v8.1h2v-.6v-4.2h1v-2.3v7.8v-7.1h-1v-.5v6.3h2v1.9v-6.8v6.7h1v-2.9v5.5h1v.2v-8.4v8h3v2v-7h1v6.3v-5.1h1v2.7v3.3h1v-2.8v3.6h2v-4.3v5.5v-1.2h1v-.3v2v-7.5v6.4h1v-4.4v6.9v-3h1v.6v-6.2h1v6.3v2.5v-8.1v8.1h1v-3.1v-5.7h2v2.6v-.3v5.7v-5.7h1v5.6v-6.1h-1v5.5v3.1v-6.4v1.1h1v-1.9v6h-1v1v1.7v-8.9v3.1h1v2.9v-4.7h-2v1.2v3.7h-1v3.1v-3.7h1v1.4v3h-1v-3.5v-2.8v15.4v-9.9h-1v6.1v-7.3h1v-1v7h-1v-4v5.2h1v-2.1v-.7v4.6h1v-1.3v4.7v-9.9v4.5h2v-.2v-3.9v9.6v-2.5h1v-2.7v4.2h1v2.8v-7.9h-1v2v8.3v-4.3h1v5.4v-5.7h1v-2.6v-.4v5.8h1v-1.7v1.1v-6h1v3v.3v-4h-1v6.6v-8.5h1v3.6v4.9h-1v-3.1v5.1h1v.7v-6.9h1v7.5v-.4v6.4v-6.4h1v1.6v-1.1v5.9v-5.9h2v3.2v2v-6.1v1.3h-1v4.5v-8.2h1v13.9v-9.3h1v4.8v-3.9h1v.8v4.3h1v-3.1v-5.3h1v-1.2v5.5h1v1v-4.8h-1v4.9v2.2v-8.5v3.4h1v1.3v6.8h1v1.7v-8.5v2.3h1v1.7v4.9h2v-4.7v3.8v-.4h1v-4.1v-2.5v14.6v-5h1v-2.1v-5.3v.6h1v1.4v3.7h1v-.9v1.2v-4.6v4.6h1v-6.1v8.2v-7.2h1v1.1v5.4h1v1.1v-5.6h-1v4.9v-3.2h2v-1.5v5.2h1v.4v-3h1v3.8v-3.5h1v-.8v5.2h2v2.3v-6.5v3.1h1v3v-6.6v5.5h1v-5.4v4.8h1v-.4v-2.9h1v-.9v5h-1v1.3v-4.7h-1v2.2v-1.8v5.3v-1.5h1v1.5v-5.7h1v7.2v-5.9v4.9h1v-4v7.7v-6.4h2v5.1v-3.1h2v5.1v-7.3v4.2h2v1.4v2.9v-6.5v6.5h1v-5.1v5.7h1v-2.1v-3.4h2v4.7v-6.7h1v1.6v-2.3v5.8v-2.5h2v2.3v4.6v-9.3v7.6h3v1.3v-3h1v1.4v3.5h-1v-3.9v4v-3.7h-1v.3v4.9h1v-3.3v-8.3h-1v9.2v2.8v-8.2v8.2h-1v-5.7v8.7v-4.2h-1v2.1v-3.9h1v4.6v1.8v-6.5v2.5h1v1.6v-1.5v4.7v-4.7h1v-.7v-3.9v9.2v-.2h-1v1.6v-4.3h-1v4.5v-2.3h2v3.7v-2.6h-1v.1v3.1h2v-3.3v-1.4v3.9v-3.9h1v-.1v3.5h1v-1.6v3.7h-1v-.6v-3.1h-1v-1.8v4.3h1v-1v-2.7h1v3.3v-2.8h1v5.5v-3.8h2v4.1v-2.1h1v2.4v-3h1v-.3v-.1v6.4h1v-3.7v2.6h1v.3v.7v-4.2h1v-.1v2.6h1v-.9v.9v-3.8v3.8h1v-3.2v4.9h1v-3.9v5.7v-2.3h1v5.1v-4.9h1v3.2v.7v-4.9v3.8h1v-.7v-2.4h1v1.8v-2.7h1v1.6v5.6v-4.4h1v.6v2.9h1v-.8v3h-1v-4v3.2h1v-1.6v-2h1v.3v6.8h1v-4.3v-1.6v5.7h1v-2v2.2v-5.9v5.9h-1v-1.4v-2.7h1v.3v-.2v5.2v-4.1h1v-.6v2.4h1v-2.1v8.9h1v-1.8v-3.1h1v3.2v-3.4h1v3.4v-3h1v4v.2v-4.3h1v.5v3.3h1v-1.2v-.5v2.5v-2.5h1v.9v4.8v-4.5h1v.7v3.7v-.2h1v-.8v2.9h1v-.4v-3.4v2.8h1v.1v1.9v-5.7v3.4h1v1.5v-1.8h-1v2.5v1.3v-4.2v4.2h1v-.6v1.1v-3.8v3.8h1v-1.7v3.1h1v-1.5v-5h1v4.1v1.7v-5.8h1v3.1v3.2h1v-1.3v-1.8h1v-2.5v8.1h1v-1.2v-2.8h1v1.6v3.6h-1v-2v2.8v-2.7h1v1.2v1.4v-3.3v.9h1v4v-4.5h1v1.8v-.1v2.8h1v-1.6v2.4h1v-2.2v-1.6v4.9v-2h1v-2.3v3.4v-3.3h1v3.8v.4v-2.7v2.7h1v-3v2.7h1v-.7v1.8v-4.5v4.5h1v-2.5v2.7v-2.2h1v.4v-1.1v2.9v-.8h-1v-2.5v2h1v1.3v-3.1h1v.3v2h1v-1.1v2.5h2v-.9v-2.7v2.4h1v-2.3v2.1h1v.2v-2.3h1v3.1v-2.1h1v2.9v.4v-4.1v1.6h1v2.2v.1v-3.3v3.3h1v-2.4v1.8h1v-1.9v4.1v-2h1v-.2v-.7v3v-3h1v2.7v-2.3h1v.6v2.7h1v-.4v-1.9v5.2v-4.5h1v4.1v-1.2h1v1.1v-2.6h1v.6v2v-1.4h1v.5v-.9v2.9v-.7h1v1.2v-2.9h1v.1v4v-2.2h1v3.3v-2.3v.4h1v.9v-2v4.4v-4.4h1v2.6v2.8v-.1h1v.9v.7v-2.2v.4h1v1.6v-1.2v3.2v-1.6h1v-1.3v2.1h1v-1.7v2.5h1v.5v.3v-2.2v2.2h1v-1.4v1.7v-1.5h1v2v-2.8v2.8h1v.6v-2.2v2.2h1v-1.3v1.5v-1.4h1v-.4v-.1v1.1h1v-1.4v1.7v-1.3h1v-.2v1.9v-1h1v1v-1.4h1v1v.1v-1.3v1.3h1v.2v.3v-1.5v1.5h1v.5v.8v-1.9v.8h1v2v-1.6v.4h1v1v-1.5h1v1.4v.2v-1.6v1.6h1v-.8v.1v-1.1v1.1h1v.4v-.9v2.3h1v1.4v.4v-2.2v2.2h1v-.5v-1.4v1.2h1v.4v-1.1h1v1.6v-1.4v1.1h1v-.3v1.5h1v1.2v-1.8v1.7h1v-.7v-1.2v2.7v-2.7h1v1.6v-.3v1.3v-.1h1v-1.2v1.3h-1v-1.9v1.2h1v.6v-.9h1v1.8v-1.1h1v2.2v-1.9v1.7h1v-1.2v2h1v1.2v.5v-2.7v2.7h1v-1.5v-.9v2.8h1v-1.4v-.9v2.6v-2.6h1v3v.6v-1.9v.6h1v1.6v.8v-2v.9h1v.6v-.9v3.5v-1.2h1v.4v1.2h1v-1v3.7v-.3h1v-.4v1.4h1v-.6v.8v-2.6v2.6h1v-.8v1h1v-1.5v2.5v-.5h1v-1.6v-.1v1.9h1v.7v-1.3h1v1.1v1v-3.9v1.9h1v1.1v-1.2v3.5h1v-.8v-1.8v3.7v-2.2h1v3v-1.6h1v.6v1.9v-.4h1v1v.7v-2.2v1.4h1v1v-1v2.2v-.2h1v-.6v.2v-1.2h1v.2v1.4h1v-.3v1v-2.1v2.1h1v-.7v1.1h1v-.6v-1.6h1v.6v1.7v-1.3h1v-.1v1.5h1v-.1v-1.3h1v.3v1.6h1v.9v-1.4v.4h1v.1v1.5v-.9h1v.7v-.7h1v1.3v.5v-1.6v.6h1v1.3v-1h1v.4v-1.7h1v.4v1.1h1v.6v-1.8v.1h1v-.7v1.8h1v-.9v-.8v1.8v-.2h1v.3v.1v-1.3h1v-.5v-.2v1.7v-.9h1v-1.1v1.3v-.7h1v-.5v1.1v-1.1h1v-.7v2.9v-1.8" stroke="#25776a" stroke-width="1.9" fill="none" stroke-linejoin="miter" stroke-linecap="square"/>
<path d="M167.5 386.5v2.6h-1v-4.7v-1v5.6v-5.6h1v4v-4.6h-2v-2.6v-1.7v8.1v-6h2v-2.1v4.6h1v-5.5v4.3h-2v.1v-4.4h1v5.6v3.4v-8.9v8.9h1v.1v-6.1h-1v1.4v-8.7h1v6.2v-4.1h-1v4.8v-7.9h1v4.2v-4.5h-1v5.3v-6.4h1v5.3v-5.6h-1v-.4v6.7v-5h-1v-1.8v6.9h-1v-6.5v6.8h1v-7v-3.3v7.6v-1.6h1v-5.3v-.2v7h-1v-5.4v-2.4v8.2v-8.2h2v-.7v-3.9v8.4v-8.4h2v7v-8.4h1v5.3v-1.9v7.9v-7.9h-1v-.9v5.6h1v1.4v-10.8h1v9.7v2.5v-11.6v11.6h-1v-2.3v-7.3h1v.2v6.8h1v2.1v-6.8h1v10.4v-11.2v7.8h2v1.2v-6.1h1v-.2v14h-1v-6.7v-6v12.7v-7.1h1v-3.4v-1.3v6.6h1v-1.8v-10.7v9.2h1v-10v4.4h-2v-8v10.3h1v-7.3v-1.1v16v-5.7h1v-7.4v10.4h-2v-7v-5.3v12.8v-11.4h1v3.9v-4.2h1v-2.5v6.2h1v-2.7v-6.7h3v.6v-1.4v9.5v-1.5h1v1.9v-10.2v2h2v-2.8v8.7h1v-3.6v4.2v-9.3v9.3h1v-7.3v-2.6v6.7v-6.7h2v2.6v-5.1h2v-.3v-.6v7.1v-2.7h1v-6.1v12.2v-8.3h-1v7.4v-6.9h1v6.9v-6.2h2v-3.6v13.9h-1v-9.7v-3.5v12v-3.4h1v-4.7v7.2h2v.6v-9.4h-1v7.4v-6.7h1v-3v5h2v3.4v-7.5v7.1h2v-3.8v-5.1v12.6v-6.7h1v-5.7v-1.5v6.9v-6.9h2v3v7.2h1v-6.2v-.3v8.4v-8.4h2v5.8v-5.8h1v.5v4h2v3.1v3v-8.7v7.4h1v-3.2v-5.2h1v7.6h-1v-8.5v-2.9v9.4v-2.9h1v-5.3v10.8h2v-2.4v6.8v-15.4v13.3h1v-4.1v6.4h1v.6v2.3v-12.2v7.9h-1v-6.1v10.8h-2v-.4v-3.9h1v6.5v-6.8h2v6.2v-7.2h1v1.3v-.1v6.4v-1.5h1v3.7v-5.1h-3v-1v11.5v-10.4h1v-1.4v6.9h1v-9v5.2h-1v5.1v-5.6h-2v-1.5v7.7h1v-5.6v5.1h-3v1.3v-7.2v6h1v-1.3v3.1v-9.9v9.9h1v-8v-1.8v11.3v-2.1h1v-1.5v-6.1h-1v7.6v-7.8h2v-.8v10.9h1v2.6v4.7v-12.4v4.7h1v5.6v-4.1v9.6h1v-4.3v-5.4h1v-1.4v12.4h2v-4.4v3.3v-11.8v2.3h1v2.4v5.4h-3v-7.9v-.4v6.7v-1.8h-1v.3v-7.4h1v4v7.2v-7.1h1v4.5v4.8h1v-6.6v6.1h-1v.1v-5.7h-1v2.7v-7h1v1.3v5.1h2v1.3v-4.6h2v6.8v3.4v-10.4v6.1h-1v5.5v-5.8h1v8.8v-12.4h-1v4.2v4.5h1v-8.4v12.9v-5.4h-1v8.1v-5.7h2v2.9v-4.2h-1v-1.1v-3.7v10.5v-10.5h1v8.1v-7h1v7.6v1.1v-9.9v9.9h-1v-6.4v5.7h1v6v4.5v-12.4v2.3h1v4.2v-7.3h2v4.7v-6v5.7h-2v.9v4.7v-10.6v10.6h1v-4.1v6.1h1v-8.3v7.2h-1v-9.5v8.5h-1v6.1v-7.4h1v.6v-1.9v6.9v-1.4h-1v7.6v-11.8h1v-2.2v4.8h-1v7.4v-8.6h-1v-.4v-.1v12v-12h1v3.7v5.8v-15.3v5.2h2v7.5v-3.9h-1v4.7v-6.1h2v3.7v2.9v-7.5v7.5h2v-1.6v3.2v-8.5v2.2h-1v5.1v-5.3h2v-10.4v17.1v-7.2h1v12.2v-12.3h1v3.1v-5.8h3v7.9v-7.7h-1v2.9v-1.5v14.1v-7.6h1v11v-10.7h1v-6.9v12.5h1v-1.4v2v-7.9v3.4h1v-1.9v-3.3v9.4h2v-7.5v12.7h-1v-12.7v5.9h2v-.4v-5.1h-1v5.4v-6.8h1v5.9v4v-8.6v3.1h1v4.2v-4.6h2v1.5v10.4h1v-1v-4.9h1v7.4v-11.7v3.4h1v2v-7.5h2v5.3v8.3h-2v-6.2h2v2.1v3.6v-8.1v3.1h-1v-1v6.7h1v1.5v-6.6v4.3h1v-3.4v3.6h-1v-4.7v5.8h1v1.1v-3.4h-1v5.4v-6.5h1v6.8v-5.2h1v-1v5.5h1v-1.6v-.7v4.9v-4.9h1v-.1v4.2h-1v-2v3.2h1v1.9v-7.7h1v6.7v-2.8h1v4.9v-5.5h1v2.9v3.5v-3.2h1v-.6v3.3v-3.2h1v-1.3v5.9v-.8h1v.3v-3.4h-1v5.7v.7v-6.4v1.5h1v1.6v3.2h1v-3.5v3.1h1v-2v4.2h1v-5.9v6v-1.6h2v.3v-3.5h1v4.8v1.1v-4.6v4.6h1v-4.5v4.4h-1v-2.8v5v-2.2h1v3.5v-4.7h1v1.6v4.1v-3.8h-1v.3v5.1v-3.3h1v4v-2.6h1v.4v2.3v-2.3h1v4v.1v-4.4v4.4h1v-3.2v3.5h1v-1.1v2.7h2v-1.3v-1.5v4.5v-4.5h1v.7v-.5v5.5v-2.9h1v2.3v-3.8v.6h1v1.3v-2.2h1v1v4.8v-3h1v2.7v.1v-2.6v2.6h1v-1.9v2.8h1v.4v1.4v-3.2v3.2h1v.5v-2.5v2.5h1v-1.6v2.8h1v-1.9v-.2v2v-2h1v3.1v-2.3v1.9h1v1.7v1.1v-3.7v3.7h1v-2v1.5h1v.2v1.5v-3.8v1.2h1v2.1v.6v-2.9v2.9h1v-1v1.1v-4.5v3.1h1v1.9v-2.2h1v1v2.2v-2.1h1v-.1v1.8h1v-.6v-1.3h-1v.7v1.2h1v-1.3v1.7h1v-.4v.8v-3v1.4h1v.4v1.5h1v-2.6h1v3.4v.5v-2.1v2.1h1v-.4v.4v-1.9v.1h1v2v-1.4h1v1.2v.6v-3.3v3.3h1v.2v.6v-1.6v1.6h1v.2v.4v-1.9v1.9h1v-1.8v2.9v-1.3h1v2.1v-1.6v3.8v-2.1h1v.8v-1.4v3h1v-2.3v2.2v-1.1h1v2.2v-1.9v1.4h1v1.6v.2v-1.8v1.4h1v-.1v.7v-2v.3h1v1.8v-1.5h1v2.3v-1.5v.3h1v1.6v1.1v-2.6v1.4h1v-.1v1.1h1v1v-2.2v1.3h1v.1v.6v-2.5v.9h1v1.2v1.5h1v-2.1v1.7h1v1.2v-2.1h1v1v1.3v-3.2v1.6h1v.5v2.6v-1.1h1v-.1v-.6v2.3v-.1h1v-.9v2.2v-1.2h1v1.6v-1.1v2.7v-2.6h1v2.8v.4v-2.3v2.3h1v-1.1v1h1v-1.3v1.8h1v.7v-1.4v.2h1v1.4v-2.2v1.8h1v-2.1v1.2v-2.8v.6h1v-.9v1.1h1v.5v-2h1v.2v-1h1v-.1v-1.1v2.6v-2.3h1v1.2h1v2.4v-2.8v1.7h1v-.2v1.7v-1.3h1v1.6v1.3v-2.6v.3h1v2.5v.5v-1.4v.5h1v1v3.5v-1.1h1v-.2v.4v-1.8v.7h1v.3v2.2h1v.5v.4v-1.8v1.8h1v-2.2v2.4v-1.1h1v1.1v.3v-1.4v1.4h1v-1.6v1h1v.2v.2v-1.6v1.5h1v.3v-.7v1.8v-.9h1v1.2v-1.1h1v.6v.9h1v-.1v-2.9h1v2.3v-.5v1.6v-.2h1v.8v-1.3v.9h1v.2v-1.9h1v1.8v-.7v1.7h1v-1.2v1.2v-1h1v1.7v.2v-1.9v1.5h1v-1.4v1.5h1v-1.9v-.3v1.6v-1.6h1v-.4v1.3v-.1h1v-1.1v1.4v-.9h1v.2v.7v-1.7v1.6h1v-1.3v-.7v3.1v-3h1v-.5v-.3v1.3v-1.3h1v.8v.7v-2.4v1h1v.4v.9v-1.9h1v1.6v-.9h1v1v.1v-1.4h1v.6v1.3h1v-1v.8h1v-.9v1.1h1v-.5v1.4v-.2h1v-.2v1.8v-1h1v-.3v1.3h1v-.9v1.5v-1.4h1v.2v2.1v-.8h1v.3v1.1h1v-.3v1.4h1v-.5v.7v-2.1v.8h1v.4v1.6v-1.3h1v2.4h1v.2v-1.5h1v1.6h1v-1.2v2.1v-1.7h1v1.5v-1.4h1v.5v1.4v-.9h1v1.5v.2v-1.5v1.5h1v-.7v.2v-1.6v.7h1v1v-1.8v1.1h1v-1.1v1h1v.8v-1.3v1.3h1v-.9v.9h1v-.1v-1.3v1.3h1v.3v.6v-1.5v.1h1v.3v-.1v1.3v-1.3h1v1.4v-.8h1v.4v-.8v1.7v-1.7h1v1.5v-1h1v.7v.4v-1.6v1.6h1v.1v.5v-2v2h1v-.9v.9v-1.9v.2" stroke="#0b84ee" stroke-width="1.9" fill="none" stroke-linejoin="miter" stroke-linecap="square"/>
<path d="M118.5 432v2v-5.5h1v.2v2.5h-1v.3v-3h1v3.7v-6.4v.3h-1v.8v4.8v-10.7h1v11.5v-7.7h-1v1.7v.2v-10.4v10.4h1v-5.4v-1.2v5.1h1v-5.3v5.2h1v-7.2v5.1h-1v-4.7v10.1v-3.9h1v4.4v-4.6v4.4h1v-4.5v4h-1v-4.1v7.8v-7.5h1v3.9v-5.3v.7h1v2.8v2.5v-6v.7h1v-2.4v5.1h1v-1.7v-4.3h1v1v-.7v6.4v-6.4h1v1.4v-2.4v6.6h1v-6.1v-2.6v11.4h-1v-6.4v-4h2v4.1v-3h-1v-3.3v7.8h1v-3.2v-3.4h-1v3.1v-3.3h1v-4.5v13.1v-10.3h2v6.4v-6.2v3h1v1.4v-7.2v5.4h1v-8.1v5.7h1v-.2v1.4v-7.5v.6h1v-2v-3v7.6v-1.8h1v-4.5v-.2v5v-3.7h1v-1.4v-.4v6v-2.6h-1v-4.9v4.7v-11.7h-1v15v-12.7v10.4h-1v-10.1v8.9h1v-6v-.4v6.2h1v.1v-8v4.4h-1v-.2v-6h2v8v.8v-7.7v7h1v-3.6v5.8h1v-4.6v-.3v4.2h1v.1v-6.2v.6h1v-3.1v5.1h1v-4.8v5.4h1v2.4v-5.5h-1v3.8v-4.1h1v-2.5v5.4h2v-.5v-7.4v5.4h1v1.1v-5h1v1.4v6.6h1v-4.2v-8.7v6h1v-4.7v5.7v-5.7h1v6.9v3.2v-6.8v1.9h1v-2.9v5.6h1v-6.6v-3v7.8h1v-.4v-5h1v-1.6v7.9h1v-3.7v-2.9v9.3v-4.6h-1v1.2v-7.9h1v7v-4.9h-1v3.5v4.7v-9.9v9.9h1v-4.6v-3.5h1v3v-10.2h1v6v-2.3v7.2v-1.8h2v-.7v-7.4v5.7h-1v.8v-6h1v-1v5.2h-1v-5.8v6.3v-4.7h1v5.2v-5.1h1v-1v-.1v6.1v-6.1h1v4.6v-8.5v.6h-1v-10.1v15.5v-2.9h1v-6.1v4.3v-3.7h1v2.1v-10.3h1v6.7v7h1v-11v8.7v-7.4h1v-.2v6.7h1v-2.4v-5h-1v8.3v6.5v-13.9v13.9h1v-6.2v-5.9h1v5.9v.7v-9.4v9.4h1v3.1v3.2v-10v2.1h1v4.6v2.2v-6.4v6.4h-1v-6.2v4.5h1v2.7v1.4v-8.1v1.2h1v3.7v3.5h1v-1v2.7v-7.4h1v-1.9v6.7h1v-.4v-4.1h1v4.9v.1v-6.7v1.5h1v8.4v-10.2h1v3v-4.4h1v.5v-2.4v13h1v-11.6v6.2h1v-6.8v6.7h1v-3.2v5.2h2v.6v1.1v-5.8v5.8h1v-5.8v3.5h1v-2.3v4.7h1v.1v-4.5h1v-2v-3v10.4v-6.4h1v-5.6v5.7h1v-1.6v2.9v-8.1v8.1h1v-3v4.7v-9.9v9.9h-1v.3v-5.5h1v-1.2v10v-3.5h1v2.9v-7.9h1v2.3v4.2h1v-4.1v5.2h1v-2.4v4.6h1v-7v-5v16.2v-8.5h1v-7.8v5.6h-1v-1.5v-5.7h1v1.1v3.5h-1v2.2v-4.9h1v3.5v-4.4h2v6.5v-10h-1v4v-1.1v5.5v-4.8h1v-1v-1.6v7.3v-7.3h1v2.8v7.2v-5.5h1v-4.1v8h1v1.9v-6.3h1v-2.4v8.8v-2.5h1v-4.9v4.4h1v1.2v-5.5h1v5.5v-5.7h2v-.1v-1.7v10.5h1v-10.2v6.1h-1v-.3v-6.4v4.1h2v1.3v-4.5h1v3v3v-6.8v1.3h1v11.2v-9.6h1v7.5v-7.6h1v5.5v-4.7h1v3.8v2.6v-8.5v8.2h2v-4.9v-.7v6.4v-6.4h1v4.1v-3.4h1v-1.1v9.7v-9.7h1v-.2v6.3h1v-6.8v4.1h1v-5v5.1v-4.1h1v3.1v-6.5h1v8.7v-6.8h1v-1.5v6.1h1v-2.6v3.6h1v.8v1.5v-6.3v6.1h1v.6v-7.6v4.3h1v-11.3v12.1v-.8h2v-4.1v6.1v-1.3h1v-5.9v-.9v4.1v-4.1h1v-.3v5.6v-5.1h1v8.7v-10.6h1v10.2v-8.8h1v9.6v-8.8v3.7h1v-3.4v5h1v-6.3v7.9h1v-5.3v5.9h1v.2v-3.7h1v.1v-4.8v11v-4.1h1v2.7v-4.9h-2v1.3v5.3h1v-5.2v5.9h2v-2.6v-5v11.4v-11.4h1v8v-7.4h2v5v2.1v-6.9v1.2h1v8.1v-6.4v4.4h2v-5.6v9.1h1v-4.7v4.7h1v-6.4v3.8h1v4.3v-8.1h-1v5.4v-4.8h-1v4v-4.7h1v5.8v-4.2h1v-.3v-.4v5.3h1v-2.7v4.5h1v2v-7.7h1v3.7v2.3v-7.5v7.5h1v-5.6v-.9v10.1v-10.1h1v5v-5.7h1v4.1v-7h1v-1.8v5.2h1v-4.9v5h1v1.5v5.4v-12v2.9h1v2.2v4.6v-9.3h1v.5v5v-3.3h1v-1.9v-4.8v9.8v-9.8h1v3.1v5.9v-.6h1v-3.1v3.6h1v.3v-5.1h1v4.6v-5.9h1v1.1v4h1v-2.6v4.4v-2.4h1v2.9v.7v-5.6v5.6h1v2.8v-6.1h1v1.8v.6v-4.2v1.6h-1v2.7v-4.8h1v.8v4.8v-4.2h1v8v-6.2v1h1v-1.4v4.6h1v-.2v-3.2h1v4.7v-6.6v4.6h1v-4.6v3.3v-3.3h1v.1v-.6v4.6h1v1v-3.1h1v2.1v-4.7v3.9h1v-1.2v2.3v-6.2v6.2h1v3.5v-6.3v5.5h1v-5.5v3.2h1v-.7v-.7v4.1v-1.4h1v-3.9v-.1v9.9v-2h1v-.6v-3.8h1v-.8v4.5h1v.6v2.7v-6.1v2.1h1v4.4v.4v-2.8v2.8h1v-2.8v5.5h-1v-4v4h1v.1v-3.6h1v2.1v-6h1v3.8v-.4v3.8v-3.8h1v1.5v-1.2v5.3v-5.3h1v4.4v-4.5v2.6h1v-2v-.9v4.3v-1.9h1v-1.8v-.9v3.9v-3.9h1v4.4v-4h1v-1v-1.5v5.7v-.5h1v-.4v2.2v-4.9v4.9h1v-6.4v4h1v1.7v-4.7h1v-.8v-.1v5.7v-5.7h1v3.4v-4.6h1v3.1v.8v-4.2v1.3h1v1v4.1v-2.6h1v1.8v3v-2.3h1v2v1.3v-3.3v3.3h1v-2.5v-.5v4.2v-1.6h1v.8v-3.9v2.6h1v-1.3v-1.9v5h1v2.1v-2.4v2.4h1v-.9v.8v-3.5v3.5h1v-.3v-2.4h1v.6v-.2v5.1v-3.3h1v.7v.2v-3.2v3.2h1v2v-2.3h1v3v-3.2h1v7.3v-5.3h1v2.6v-3.5h1v.9v4.1v-.4h1v-2.5v-1.8v5.7h1v-1.4v-2.6v.8h1v-.2v2.5h1v-1.9v2.9v-2.5h1v1.7v-1.6v3.4v-2.2h1v2.1v-2.3h1v.2v3.4v-.8h1v-.6v2.2v-.3h1v-.5v1.4h1v2v-3.1h1v2v2.1h1v-2v1.8h1v.4v-1.6h1v-.2v3h1v-.8v1.6h1v-1.6v-.5v2v-2h1v.5v2.1h1v-2.3v2.5v-.4h1v-.8v-1.7h1v3.3v-3.1v7.5v-2.1h1v.8v2.7v-.3h1v1v1.9v-5.7v3h1v.7v3.2v-2h1v.3v4.3h1v-1.6v-.3v1.7v-1.7h1v-.6v2.7v-1.6h1v-.5v2.7v-1.8h1v3.3v-3.1h1v2.6v.4v-2.5v2.5h1v-1.2v3v-1.3h1v.1v2v-1.2h1v.6v.7v-1.8v.4h1v.5v.9h1v-1.9v-1.6v3.1v-3.1h1v2.7v.2v-1.8v.1h1v3.9v-2.7v.9h1v1.5v-1.4v3v-2.7h1v1v1v-2.5v2.5h1v-2.1v3.2h1v-2.2v1.6v-1.6h1v-.2v2.6v-2h1v1.5v-1.1h1v2.8v-2.6v2.5h1v-1.5v1.1h1v.1v-1.1h1v.8v.4v-1.8v.6h1v.6v1.3v-3.4h1v3.2v-1.3h1v.2v1.7v-1.7h1v.2v-.9v3.3v-1.3h1v-.8v-.1v2.2v-2.2h1v.2v2.1v-.4h1v.2v-1.6v1.6h1v-.5v.7v-1.9v1.9h1v-1v2.9h1v-.7v2.3h1v-.7v2.1v-1.5h1v1.9v.5v-3.4v3.4h1v-.1v1.9h1v-.4v-2.6h1v3.8v-3.2h1v-.5v2.1v-1.8h1v.4v-1.1v2.7v-.8h1v-1.9v2.4h1v1.4v-3.4h1v.9v-.6v2.7v-2.7h1v.3v1.8h1v-1v1.3h1v-.5v-2.7h1v.6v1.3h1v-1.8v-.5v1.9v-.2h1v-1.6v.9v-2.6v1.7h1v-1.5v-.2v1.7v-1.7h1v.7v-.9h1v1.5v.3v-1.8v.5h1v1.3v-2.7v2.1h1v.2v-1.2h1v.9v-.2v1.9v-1h1v.4v-2.5v2.5h1v-1.2v1.8h1v.5v.1v-1.9v.2h1v1.7v-2.2h1v-.2v1.7" stroke="#8ab810" stroke-width="1.9" fill="none" stroke-linejoin="miter" stroke-linecap="square"/>
<path d="M195.5 370.2v-9.8h-1v5.2v4.1h3v-3.9v6.4h2v-6.7v5.9h-1v-8.4v3.7h-1v3v.9v-5.2v5.2h1v3v-11.5v.8h2v10.7v-10.7h-2v2.8v-4.1h2v-3.8v-1v8.1h1v-4.3v-2.7v8.3h1v6.3v-7.9h-1v-1.8v4.6h1v-1.7v5.9h1v-1.5v2.4v-8.1v8.1h2v-.3v-7.5v2.1h2v2.8v-3.8h1v5.7v-5.5v4.1h-1v-3.3v-1.4v6.8v-6.8h-1v6.4v-5.1h1v2.2v10.3h-1v-11.6v-.8v6.3v-2.9h1v1v2.7v-9.1v4h-1v6.5v-5.7h-1v7.3v-8.3v1.7h1v5.6v-10.5h-1v6.6v-2.5v6.9v-6.9h-1v4.6v-6.7h1v-.6v6h2v-7.3v7.4v-3h-1v-2.4v7.9h2v-5.1v6.4h1v3.3v-6.7h1v6.6v-7.3h-1v-1.5v4.2h1v3.6v-7h-1v5.1v-8.1v4.8h2v-5.5v4.6h1v-4.3v6.9h-1v2.4v-4.8h2v3.2v-5.1h2v4v1.4v-9.4h-1v-1.1v5.2h1v-3.7v4.6h1v-3.7v6.5v-4h1v-1.4v3.1h2v-5.8v-4v9.5v-9.5h2v2.1v6.5h-1v-1.4v-5.4h1v7.6v-6.7h1v6.8v-3.6h-1v-3.4v6.4v-5.7h2v7v-10h1v7v-7.5h-1v4.4v1.3v-5v1.8h-1v-2.8v-2.9v7v-7h1v2.1v-2.5v6.5v-.5h2v-3.7v-3.2h-1v2.9v-3.1h1v-1v7.5h2v-1v-5.1h1v1.2v5.6h1v-6v3.3h1v.3v-6.5v5.2h-1v2.5v-3.6h1v7.3v-4.5h2v6v-5.4h1v3.2v-4.6h1v2.3v4.8h-2v2.1v-5.1v4h2v3.2v-6.1h1v4.7v-5h1v2v6.3h1v-6v-3.4v8v-2.5h2v-3.1v4.5h-2v-3.2v6.5h1v-7.8v10.3h2v-3.6v-4.3h1v-5.5v9.8h-1v-.3v3.4v-7.7v3h1v-2.4v6.3v-5.1h-1v7.9v-7h2v9.6v-8.6h1v4.6v-6.9h1v.5v6.2h1v-7.1v12.3h-1v-5.3v-7.2h-1v9.9v1.6v-8.2v6.8h1v2.9v-8.6v2.2h1v1v4.5h-1v2.4v-6.8h-1v.7v7.1h1v-5.6v-4.5v9.8v-9.8h2v8.7v3.3v-7.1v1.8h2v2.1v-1.2v4.6v-4.6h1v1.4v4.3h1v-5.6v5.1h-1v-.4v2.6v-9.7v9.7h2v-5.9v6.6v-6.1h-1v-.6v9h-1v-.7v-4.6h1v4.8v3.4v-11.3v4.9h1v.6v-2.2v13.3v-5.5h-2v-8.5v7.1h1v2.8v-4.3h2v3v6.4h-1v-2.2v-6.6h1v.9v-2.4v6.8v-6.8h-1v5.3h1v-5.7v-1.9v8.7v-6h-1v2.3v4.4h1v-2v4.3h1v-4.9v3.5h1v2.2v-4.7h1v3.7v-5.2h2v4.1v-5.4h-1v7.7v-7.4h1v5.2v-3.3h2v6.2v-5.8h-1v4.2v3.3h1v-5.1v3.8h-1v.1v-3.8h1v2.3v-1.9v7.1v-7.1h-1v7.7v-8.4h-1v13.2v-11.4h1v5.3v-6.8v5.2h3v2.2v-6h1v.8v7h2v-.9v-3.9h-1v3.8v-5h1v1.8v3.9h1v1.6v-4.1h-1v1.3v3.5h2v1.7v-12.9v4h-1v3v5.4h1v-4.9v4.7h-2v1.3v.9v-6.2v2.2h1v4.2v-3.6h1v-.1v12.4h1v-3.2v1.3v-6.2v6.2h-1v.2v-7.5h1v8.8v-3.6h2v2.5v-4.3h-1v1.9v-3.2v3.2h-1v3.3v-5.9v5.4h1v-2.2v3.9h1v-3.1v5.2h1v-5.8v6.3v-6.2h-1v8.3v1.7v-6.4v6.4h1v-6.6v4.8h1v-2v2.3v-6.4v3h2v6.1v-7.1v3h1v5.9v-4.5h1v-2.3v8.5v-3.4h1v1.6v.1v-4.4v1.3h-1v3.7v-5.4v1h1v-3v4.6h1v-2.8v4.6h-1v-1.3v3.2h1v-2.9v2.8h1v-1.6v-2.7h1v5.8v3.8v-8.4v5h1v-4.2v4.7h-1v-1.6v4h2v-5.5v4.8v-2.9h1v4v-3h1v.2v3.2h1v-.2v-3.2h1v-1.3v3.3h1v.3v-2.3h1v1.5v-2.4v5.5h1v3.1v-6.8v3.9h1v-.7v-2.5h2v.4v3.5v-3.1h1v.2v2.9h1v-.9v-.7v3.3v-.1h2v-2.8v3.9v-.4h1v-2v2.8h1v-.2v.5v-3.7v3.7h1v-3.6v-.5v5.9v-5.9h1v3.8v.6v-3.7h1v.6v2.7h2v-2.8v-.1v4.5v-4.5h1v1.5v4.2v-3.6h1v2.9v-1.9h-1v-.9v2.4h1v-1.6v-.6v3.7v-.2h-1v-.2v-3.3h1v.4v4.3v-2.9h1v2.1v1.4v-4.1v1.5h2v.2v3.2h1v-.6v-2h1v4.7v-3h1v.6v2h-1v1.4v-3.9h1v6.5v-5.8v5h1v.1v-2.4h1v-1v2.1h1v-1v2.9h-1v-1v-1v4.8v-4.8h1v3v-2h-1v-.3v2.4h1v-2.4v2.6h2v-.8v.1v-2v2h1v.9v-2.3h1v1.4v2h1v1v.9v-4.6v2.2h1v1.2v-1.6v3.6v-3.6h1v3.1v-3h-1v.6v2.4h1v1.3v-3.9h1v-1.7v6v-2.4h1v1.8v-1.8h1v2.4v-1.7h1v1.6v-2.7v.4h1v.6v1.9h1v.9v-2.9v.2h1v.4v-1.7v3.5h1v-.3v.8v-2.8v2.8h1v-2.4v3.9v-1.9h1v.3v5h1v-4.8v-.4v3v-3h1v1.1v.3v-2.5v2.5h1v-1.8v2.7v-.1h1v-.6v1v-2.2v.7h1v3v-1.2h1v-.1v1.8h1v-.1v-3.9v3.7h1v-1.9v-.3v2.9v-.3h1v.5v-1.4h2v.5v3h1v-.7v.3v-1.4v1.4h1v-.5v-1.8h1v.9v2.5v-1.9h1v.2v-.1v1.6h1v-1.7v1.7h1v-1.6v-.2v1.8v-1.8h1v.8v1.3v-3.9v3.8h1v-1.5v-1.3v2.7v-2.7h1v2.4v.3v-1.9v.2h1v2.1v-1.8h1v2.5v.4v-1.9h1v-1.2v1.9h1v-1.5v1h1v.2v-1.4v2.8h1v-.9v.5v-1.7v1.7h1v-2v1.4v-4.1h1v4.4v-4.8h1v3.8v-1.9h1v1.8v-1.2v2.3h1v-.8v1.1h1v-2v-1.6v3.8v-.2h1v1.4v-3.1v1.2h1v.2v-2.1v.2h2v-.1v2.9v-1.9h1v1.9v.5v-2.4v2.4h1v-.4v1.6h1v.6v-2.1h-1v2.6v-1.8h1v-.4v2.6v-1.7h1v2.1v-1.2h-1v.1v1.2h1v-1.2v3.2h1v-3.1v-.3v1.9v-1.9h1v.7v1.5h1v-.3v-2.1v1.6h1v-1v1.4v-3v1.8h1v-1.5v-.6v2.6v-.2h1v.6v-1.7h1v1.6v-2.5h1v1v.4v-2.3v2.3h1v.1v-2.3v2.3h1v-2.1h1v-.6v3h1v-4.2v4.3h1v-.9v-2.4h2v2.1v1.5v-3.7v2.4h1v-.3v1.4v-3.3v3.3h1v-.1v-1.8h1v2.2v-2h1v1v-2.1v1.3h1v-1.2v2.2h1v.8v-1.1h1v.5v-.6v2.3v-2.3h1v.9v1.5h1v-1.3v1.3v-1.1h1v1v-1.5h1v1.3v2.7h1v-1v-1.1h1v-.1v1.9h1v-1.3v3.5v-2.3h1v2.2v-2.7v1.6h1v1.1v-.9h1v.5v1.5h1v-1.5v-.1v1.4v-1.4h1v1.7v.6v-1.8v.6h1v1.1v-.8h1v-.2v1.3h1v-1.5v2.1h1v.2v.8v-2.3v.2h1v.1v1v-1h1v.5v2.2v-.2h1v-.7v1.6h1v-.9v-.2v1.5v-1.5h1v.4v1.2" stroke="#291f88" stroke-width="1.9" fill="none" stroke-linejoin="miter" stroke-linecap="square"/>
<path d="M112.5 444.5v6.2h1v-6.2v3h1v-4.3v-1.8v5.7h2v.7v-4.8h1v-1.4v4.3h1v-.3v-3.2h1v2.7v.3v-4.9v1.6h1v.6v3.1h1v3.1v-5.9h1v-.7v4.3h1v-3v-2.6v6.7v-4.3h1v-.2v5.8h-1v-7.3v5.6h1v-2.4v-5.7h1v2v-5.1v10.4h1v-6.8v4.8h1v.9v-7h-1v4.5h1v-2.3v6.4h1v-3.4v-3.3h1v.7v-.7v4.8v-4.8h1v3.6h1v-3.7v4.9h1v-3.8v-2.3v8.3h1v-3.1v-6.6h1v.8v3v-6.7v3.2h1v-5.6v7.3h1v-3v-1.4v5.8v-5.8h1v3.6v4.1h1v-4.6v2.9h1v-1.3v-2.6v6.6v-6.6h1v6.6v-6.4h1v3.3v2.2v-6.7v2.3h1v-.8v6h1v-1.6v-6.6v5.5h1v.4v2.3v-6.3v6.3h1v-1.9v-3.3h1v2.8v-6.1h1v4.9v-6.7h1v3.2v5v-4.4h1v-.4v-2.3v5.1v-1.6h1v-2.6v5.4v-2h1v.2v-2.5h1v3.8v1v-7.6v5.6h1v-3.4v3.3h1v-4.9v3.6h1v-3.7v-3.3v7.6v-2.5h1v-1.9v4.7h1v-5.9v4.2h1v1.7v-6.3h-1v.8v7v-2.2h1v-6.2v4.5h1v.2v-4h-1v-.6v3.4v-6.8v4.5h1v-1v-6h-1v5.2v2.2v-9.2v4.1h-1v-5.3v-2v6.2v-5.8h1v.5v-2.9v8.9v-8.9h1v-2.3v5.5v-5h-1v1.4v-5.9v5.9h1v-.9v-3.4h-1v-3v4.5h1v-2v-3h-1v3.5v-8.2h1v3.3v3.8h1v-2.9h1v.6v-.3v4.2v-.3h1v-3.4v-1.6v5.5v-4.5h1v-1.1v3.6h-1v3v-5.4h1v7v-9.9v4.9h1v6.2v5.2v-13.3v5.9h1v.1v-.4v7.8h1v-1.5v-4.2h-1v-2.6v11.5v-6.2h1v10.7v-9.2h1v.2v5v-3.6h1v1.9v-3.2h1v2.5v-7.3h1v-1.2v7.3h1v-5.1v3.9h1v.2v-2.9v9.2h1v-9.5v-1.9v10.1v-10.1h1v4.7v-5.6v4.9h1v1.6v-4.7h1v3.3v.9v-5.1v5.1h1v.7v-4.4h1v2.4v-2.8h1v2.5v.9v-7.6v1h1v-.5v4.7h1v5.5v-9.6h1v-4.1v8.7h1v-3.6v3.2h1v-1.4v-6.2h1v5.2v-7.7v4.6h1v2.5v.4v-4.8h1v.6v3.2h1v-2.3v-1.5v5.8v-5.8h1v3.4v1.2v-5.7v.1h1v4.7v-6.8h1v4.3v-8.8v.2h1v-2v2.8h1v-1.6v5.3v-4.6h1v7.6v-5.4v.5h1v2.6v.8v-4.3v4.3h1v-5v-1.7v5.9h1v-1.9v.6v-5.7v2.4h1v-.4v2.9h1v-.6v-5v4.8h1v-3.7v6.2h1v-7.4v3.5v-.6h1v.7v1.3v-5v5h1v.9v1.2v-7.4v5h1v-1.2v2.9h1v-3.2v4.6h1v-4.6v-1.1v7.1v-7.1h1v.9v5.1v-.9h1v1.2v-6.5h1v6.4v-5.6v.1h1v5.1v.2v-3.7v.8h1v2.9v-3.3h1v-3v4.9h1v-4v-2.4v5.7v-1.7h1v1.9v2.3v-5.9v3.1h1v2.1v-3.9h1v2.1v-3.1h1v.9v-2.1v6.2h1v-6.7v5.1h1v-.6v-5.3v3.3h1v1.6v-5.9h1v.3v3.3h1v-4.1v6.5v-1.4h1v-3v-.8v4.9h1v-1.2v3.7h1v-7.3v7h1v-2.9v-1.1v6.4v-.1h1v-4.2v4.9h1v1.3v3v-12.6v1.3h1v2.7v3.6h1v3.4v.7v-6.9v6.9h1v-3.1v5.4v-1.3h1v-1.5v-2.9v6.5v-1.8h-1v3.8v-5h1v.8v-.6v7v-3.9h1v1.5v1.8v-6.8v6.8h1v-1.6v-4.6h1v5h1v-4.5v5.8v-.6h1v1.1v-5.3h1v.5v-1.9v6.5h2v-3.8v5.3h2v-1.2v-5h1v.4v-1.4v5.4v-5.4h1v6.5v-4.2h1v2.6v2.5v-5.6v1.7h1v3.9v-5v3.5h1v-3.2v-.2v3.3v-3.3h1v4.4v-5.8h1v3.9v2.6v-8v2.8h1v-1.8v-3.2h1v3.5v-2.9h1v5.7v1.8v-8.2v1.9h2v7.2v.4v-7.3h1v1.1v-2.7h1v6.8v-7.5v5.9h1v1v-6.4v5.3h1v-5.7v-.5v5.7v-5.7h1v1.3v-.3v3.9v-3.9h1v4.2v1v-6.5h1v4.3v-.4v5.7h1v-2.8v-5.8v12.3h1v-4.8v-3.5v10.3v-2.1h2v-3.5v4.1h1v-.8v2v-5.2v5.2h1v.8v-4h1v.1v5.2v-4.1h-1v4.1h1v-4v4.1h2v1.4v-4v3.6h1v-3.9v-.9v5.9v-5.9h1v3.4v2.2v-4.8v4.8h1v-2.1v-.6v4.5v-1.4h1v.5v.3v-5.3v2.7h1v3.9v-2.2h-1v1v-1.2v4.3v-4.3h1v4.7v-3.2h1v-.9v-.5v4v-4h1v5.3v2.6v-7.5h1v-.5v5.6v-.9h1v3.6v-5v4h1v-3v3.4h1v-5.1v5v-1.4h1v-5.1v4.5v-2.8h1v1.9v2.5h1v1.1v.4v-3.7v.8h1v2.3v-2v5.4v-5h1v3.3v2.4v-5v1.3h1v2.2v-4h1v1.2v3.1h1v-2.9v-.1v3v-2.3h1v3.3v.9v-4.7h1v4.6v1.2v-3.5v.7h1v.4v-.7v3.5h1v-1.5v4.2v-3.6h1v3v-3.4h1v.8v3.7v-2.6h1v.7v-.3v3.6v-1.5h1v-1.9v4.8v-4h1v.2v-.6v3.6v-3.6h1v2.9v-2.5v5.2h1v-4v4.2v-.2h1v-2.6v2.8h1v-.7v2.4v-2.1h1v.6v6.6h1v-.8v1v-3v1.1h1v-4.1v6.2v-2.7h1v.1v.1v-2.4v2.4h1v.1v-2h1v.3v3.3v-2.3h1v.1v-.9v2.6v-2.6h1v2.1v1.2v-5v3.5h1v-1.6v3v-1.7h1v1.4v1v-2.8v2.8h1v1.5v-3.4h1v2.4v.2v-2.2h1v.2v2.5v-1.8h1v.6v-2.4h1v2.4v3.6v-2.8h1v-.7v-.3v1.7v-1.7h1v2.3v1.3v-3v1.4h1v4.1v-4.2h1v1.9v.3v-2.7v1.7h1v1.3v-1.9h1v-.3v4h1v-3.3v2.5v-1h1v.2v1.7h1v1.4v.9v-2.8v.8h1v.7v1.3v-.9h1v.8v.6v-1.8h1v-.2v1.6v-.6h1v-.3v-2h1v2.1v.1v-1.7v.5h1v1.3v.9v-3.4v3.4h1v.4v.6v-2.2v.8h1v2.2v-2.9v.9h1v1.7v.5v-1.9v.5h1v1.3v.3v-1.1v.2h1v1.8v.3v-1.5v1.5h1v-.7v1.6h1v-3.2v2.7v-1.1h1v1.4v-1.8h1v2.3h1v.3v-1.4v1h1v-.5v.8v-2.4v2.4h1v-.2v.4v-1.6v.5h1v1.4v.8v-2.5v2.5h1v-.8v2.2v-1.2h1v-.8v2.7h1v-1.2v.7h1v1.1v-2.2v2.2h1v-1.7v2.3v-1.8h1v.3v1.3h1v.8v-2.4v.9h1v.5v-1h1v1.7v.8v-3.3v2.2h1v1.1v-1.1v.9h1v-1.5v-.2v1.4v-.4h1v-.8v.9h1v.2v.7v-2v1h1v1.7v.4v-2.1v.4h1v-.1v1.9v-1h1v.4v-.2v1.7v-1.7h1v-.1v1.9v-1.1h1v-.3v1.2h1v.5v.9v-2.3v2.1h1v.1v1.3v-2.6v2.6h1v-2.3v1.7h1v-1.6v1.5v-1.1h1v.1v-.4v2v-.1h1v-1v1.2h1v-.7v1.6h1v.5v-.9h1v.8v-1.8h1v.4v1.3h1v-.3v.3v-2v2h1v.6v-1.3h1v.9v-.2v1.8h1v.2v-2.1v1.1h1v-.1v.7v-2.1v.9h1v-.2v1.6v-1.5h1v.2v1h1v.8v-1.2h1v1.2v.7v-1.7h1v.2v-1.6v3.9v-1.2h1v1.6v.6v-2.1v2.1h1v-.4v1v-2.2h1v1.8v1.1v-2.2v.9h1v3.3v-3.1v.7h1v-.4v2v-1.1h1v-.2v2.2h1v-.6v2.6h1v1.1v-2.4v.9h1v1.3v.6v-1.7v.2h1v1v-.9v1.9h1v.5v-2.3h1v2.4v-1.7h1v.6v3.8v-1.3h1v-1.6v1.7v-.1h1v-.4v2.5h1v-1.5v.9h1v.8v.8v-1.8v1.8h1v.2v.1v-1.2h1v.9v-.9h1v.7v-2.1v.7h1v1.1v.5v-1.5h1v.7v1h1v.3v-2v1.6h1v-.2v.3v-1.4v1.4h1v-.8v-.9v1.8v-1.8h1v.5v2v-1.7h1v1.2v.1v-2.1h1v.5v1.3h1v-.5v-1.9h1v-.4v-1.7v3.5v-3.5h1v2.6v-.6v1.5v-.3h1v-.9v-.2v1.5v-1.5h1v-.9v1.3h1v-.8v2v-1h1v-.1v.6v-2.2v2.2h1v.5v-1h1v.8v-.2v1.1v-1.1h1v-.4v1.9h1v-1.7v1.1h1v-1.2v1.9v-1.3h1v.3v1.4h1v-1.2v1.6h1v-.5v.3v-1.3v.3h1v-.2v3.5h1v.8v-1.7h1v-.4v-2.1v.5h1v-.7v-3h1v-.3v-.1v4.6v-.1" stroke="#ff6810" stroke-width="1.9" fill="none" stroke-linejoin="miter" stroke-linecap="square"/>
<path d="M96.5 463.6v6.1v-4.9h-1v-.2v3.8h1v-4.9v-1v8.6v-4.5h1v-4.9v4.2h1v-4.5v3.7h-1v-1.7v-8.4h1v3.4v-.5v6.6h-2v-2.3v-4.1h2v-3.3v8.1h-2v-.1v-5.6h2v8v-9.2h1v6.4v1.7v-8.6v7.4h-1v-2.1v-5.3h2v2.2v-5h1v4.9v-8h2v7.9v.1v-13.1v13.1h-1v-.7v-5.1v.1h-1v-.3v9.9h-1v-10.5v7.3v-7.1h1v6.3v.6v-9.5v9.5h1v-.7v-10v.7h-1v-.6v6.5h1v1.6v-8.4h-1v7.2v-5.9h-1v-.6v8.2h1v-9v-3.9v8.5v-2h2v-5v-6.7v19.2v-9.4h1v-2.3v4.3h1v2.8v-10.4h2v9.1v-5.6h1v.9v4.3h1v-1.2v-7.9h1v6.3v-5h-1v7.5v-8.8v1.8h2v-3.5v6h1v-4.1v-3v9.3v-9.3h-2v3.3v-8.8h-1v7.3v-6h1v8.6v1.5v-10.8v4.2h2v4.9v-6v.7h-1v-1.4v-.7v6v-6h1v-.5v6.1h2v-3.1v-4.3h1v15.5v-15.3h-1v-7.4v14.4h1v-4.4v-.7v7.1v-2.8h1v-2.4v-10.9h-1v9.5v-4.2h2v1.3v4.5h1v-.4v-6.3h1v1.8v-3.3v10.1v-10.1h1v8v-12h1v8.3v-6.6h1v-2.9v10.8v-6.9h1v10v-12.8h1v1.1v8.3h-2v-4.1v-7h1v10.8v-10.2h1v9v-5.9h1v4.3v-6.2h-2v10v-7.9h1v5.1v-5.3h1v-2.1v6.7h-1v-.3v-7.6h2v6.7v-6.1h1v5.4v-15.4v8.8h1v6.1v1v-12v.7h1v8.3h1v-8.1v10.4h1v-.1v-7.3h-2v-1.2v6.9h-1v-4.4v.8v-7.8h-1v16.3v-18.2h-1v-2v9.2h1v-9v11.8v-8h1v12.3v-9.3h1v10.6v-15.9v9h2v-4.6v-1.1v12.3v-3h2v-2.7v-5.4h-1v2.7v11.8h2v-9.3v-5.4v14.3v-13.7h-1v3.8v-.2v7v-7h-1v6.5v-13.7h1v17v-7.7v5.2h2v-4.7v6.8h1v-2.1v-4.6h1v-6.5v9.9v-1.2h1v-3.6v-11.4h-1v-.4v11.4h1v-1.8v-6.3h-2v1.2v5.7v-.1h-2v-3.7v10.2h3v-4.4v-7.1h1v3.7v5v-15.3v7.4h2v1.3v-2.3v12.4h-2v-.5v-8h1v.1v4.4h1v-4.9v11.1v-7.9h1v-2.1v10.5h2v-.2v-6.4h2v-1.9v5h1v-3.6v-6.5h1v5.8v-5.6h2v-.6v6h1v2.3v-14.1v.4h1v12.1v-6.9h1v1v8.8h-1v-11.1v8.5h1v-4.3v11h1v-11.2v-6.9v18.7h-1v-.4v-6.6h1v6.8v-12.4v1.4h-1v8v-8.5h1v10.8v-7.9h1v-2.1v8.5h1v1.2v-8.6h1v-2.6v-2v11.5v-11.5h-1v.2v5.5h1v-7v9.7h1v-5.3v6.6h-1v-.3v-10.1h1v3.2v-.9v10.6v-10.6h1v4.7v-5.9h1v3.8v4.4v-15.6v7.7h1v6.9v-8.3h2v2v-4.1h2v5.8v-11.2v1.5h-1v5.2v-4.2v10.4h1v-2.7v-6.6h2v10.1v-6.9h1v4.6v.2v-7.8v7.8h2v-6.1v7.9h-1v-1.2v-7.2v6.2h-1v-5.7v4.8h1v2.5v-3.9h1v-1v7.2v-6.4h2v-3.4v6.5h-1v-9.6v4.6h1v1v-7.6h2v4.1v5.1h-1v-5v5.4h2v-7.2v7.8h2v-6.5v4.8h1v-9.2v7.1h-1v.9v-6.4h1v7.1v-8.6h-1v5v-4h-2v8.4v-10h1v1.7v5.2h-1v1.7v-5.8h-2v6.9v-7.3v.5h1v-.7v5.7h2v-6v7.7h-1v-6.9v7.1h1v-9.7v6.3h2v-5.1v5.5h3v-2.6v-2.2v6v-6h1v6.1v-11.2v2.6h1v10.4v-10.1h2v5.5v-6.4h-1v.2v6.7h1v-2.9v-5.5h-1v7.7v-7.7h1v-.9v6.9h1v3.1v-11.5h3v7.4v-7.5v7.2h1v-3.1v-7.7v7.5h1v-5.7v-4.1v8.4v-.8h1v-6.8v7.8h1v-9v8.5h-1v4v-8.8v8.8h1v-3.8v-4.8h1v-2v6.1h-1v4.8v-7.7v4.8h2v-2.2v8v-7.6h3v2.5v-4.4h1v2.9v-7.9h1v11.3v-5.9h2v-2.1v10.8v-3.3h1v-4.8v4v-9v8.4h1v2.9v-6.1v6h1v-9v14.4h-1v-12.9v-.4v8.3v-8.3h-1v.6v5.8h-2v-1.9v-7.9h1v1.5v-.8v9.3v-9.3h1v14v-5.1h1v2.5v-7.3h1v1.3v-5v20.5v-13.8h2v5.8v-5.5h1v-.9v5.6h3v-5.6v-4.1v15.5v-2.2h1v-7.8v4.5h2v-3.9v-3.2v9.5v-3.3h1v3.9v-8.7h2v1.8v5.3h3v3.3v-8.2h2v.5v9.6h1v-1.7v-5.5h1v-.6v9.8h1v-5.2v6.6h1v-9v-1.1v5.8v-5.8h1v6.1v3.2v-15v12.1h-1v-6v11.7h1v-5.2v4.4v-11.5v3.9h1v-.8v4.3h1v-2.2v5.1h-1v-7.4v6.7h-1v-17.6v14.7h2v.1v-6h1v-1.7v10.4h-1v-9.9v7.6h1v-1.1v-3.8h1v10.2v-9.6v1.8h2v5.2v-5.8h1v-2v7h-1v-4.6v-4.6v19.7v-13.4h-1v-6.5v-1v6.9v-4h1v-2.8v6h1v-1.7v-5.4v3.9h-2v-3.3v7.7h-1v-6.4v-3.1h1v3.5v-5.2v3.4h1v.7v-2.9h1v2.2v-2.4h1v1.9v-3.6h1v.6v3.1v-6.4h1v.6v2.9h1v-3.7v2.2h-1v-3.9v3.5v-3.5h-1v.8v3.1h1v-.6v-5.7v4.5h1v-2.9v-2.4v5v-.1h1v-1.6v1.5v-6.2v.9h1v-.2v-.7v3.6v-3.3h2v1.9v1.3v-3.7v3.7h1v-5v1.9h1v-1.6v-.7v3v-1.1h1v1.4v-3.6h1v-.2v1.9h1v-.5v3.8h-1v-.2v2.3v-8.5v2.3h-1v6.4v3.8v-7.8v7.8h2v-5.1v-2.6v5.7v-1.8h-1v-3.9v3.5h1v-4.3v5.4h1v-2.7v4.2h-2v.9v.1v-4.8v4.8h1v4.1v-9.6v6.2h2v1.8v-10h1v-.8v7.8h1v2v-4.3h-1v3.3v4v-8v4h2v-1.8v4.4h1v-1.3v-1.6v6.2v-2.2h1v-2.6v7.6v-1h1v.6v.3v-5.7v5.7h1v-2.7v-3.7h1v-.5v-.6v6.4v-1.6h2v-3.2v4h2v2.1v-5.6h-1v1.9v2.6h1v-3.1v-3.7v9.2h1v-4.1v6.4h1v3.6v-5.3h1v4.9v-4.2h-1v-3.3v4.9h1v-1v.7v-6.4v1.4h1v7.4v-5.1v.7h1v5.2v-3.6h-1v1.3v-4.6v4.1h1v-.8v.2v-7.1h1v6.3v-4.4v.3h2v3.5h1v-5v-1v11.6v-6.5h2v-3.3v3.9h1v-4.9v-.7v5.4h1v-1.5v-3.7h1v.6v4.2h1v-5.2v5.9v-.5h1v-.7v-.5v5.3h1v-4.2v4.3h1v-7.6v8h1v-3.9v6.1h1v-9v8.7h-1v-5.2v5.7h1v-1.6v1.5v-5.4v5.4h1v-1.3v-3.9h-1v.1v-.4v5.2v-5.2h-1v5.3v.1v-7.1h1v2.1v4.8h1v-.3v-3.8h1v.2v4.3h1v-2.8v3.6h1v-2.8v2.7h1v-.7v-4.8v2.9h1v-4.4v6.1v-3.6h2v4.1v-2.8h1v2.6v-3.6h1v.7v4.7h1v-3.4v-1v2.9h1v1.8v-3.8v3.5h1v-4.3v3.3h1v.6v-2.5h1v-.9v-.2v4h1v-4v-1.9v5.2v-5.2h1v6v-3h1v3.9v-4.6v3.5h1v1.7v-5h1v-2.1v4.6h1v.6v-3.7h1v-.9v5h1v-1v.5v-3.8v3.8h1v-.1v-3.1h1v3.2v.1v-3.8v.2h1v-1.4v2.6h-1v.2v-2.9h1v.8v3.5h1v3.3v-5.8v3.5h1v1.8v-2.4h1v1.6v-.4v4.1v-4.1h1v1.5v2.1h1v.2v.3v-3.5v1h1v3v1.8v-3.8v1.2h-1v.8v-.3v3.3v-3.3h1v3.7v.4v-2.5v.3h-1v-.2v2.2h1v-2.4v2.4h-1v1.7v-2.2h1v1.1v-.4v3.9v-2.9h1v2.1v-2.1h1v1.3v3.5v-2.2h1v1.2v-.5v2.7v-2.7h1v.1v2.4v-.1h1v1.1v1.2v-3.6v3.6h1v-3.7v5.8h1v1.4v-1.6h1v3v-2.9v2.9h1v1v-3.6v.9h1v1.6v-2.2h1v-.8v2.1h1v-.1v-1.3v3.2h1v-1.8v1.8h-1v-2v2.2h1v-.8v3.4v-2.9h1v.3v2h1v-1.6v1.9v-1.4h1v.2v3.4v-1.8h1v.7v-1.8h1v-2.9v5v-1.7h1v1.4v-1.5v3.6v-1.9h1v.9v1.2h1v-1.5v1.9h1v.3v-2.4v.8h1v-.2v3.2v-2h1v1.9v-2.4h1v1.5v2.2h1v-.7v-1.3v2.7v-2.5h1v-.2v2.2h1v-.2v-.1v1.3v-1.3h1v1.1v1.6v-3.3v.7h1v2.5v-1.8h1v.5v3h1v.8v-1.4v.3h1v.9v-.5v2.3v-1.7h1v.5v1.6h1v-1.3v1.5h-1v.5v-1.6h1v.2v1.8v-1.4h1v-.3v1.1h1v1.1v.8v-2.7v1.2h1v1.4v.3v-1.7h1v1.1v1.6h1v-1.3v-.8v3.1v-1.6h1v.8v-1.6v1.3h1v.3v-1.4h1v-.5v2v-1.6h1v1.1v-1.4h1v.3v1.1h1v-.3v-1v2.2v-.7h1v-1.9v1.2h1v-2.3v2.7v-2.6h1v.9v1.3h1v.8v-2.8h1v1.1v.1v-1.4h1v.2v-.3v1.2v-1.2h1v.6v-1.8v.9h1v.9v.8v-2v2h1v-.9v-.8h1v1.2v-1.8v1.8h1v-.5v-.9v.1h1v-.3v-.3v1.6v-.7h1v.9v-1.7v.7h1v.7v-1.2h1v1.3h1v-.8v1.3v-.8h1v1v-1.6h1v-.1v1h1v-.5v1.1h1v-1.4v-.1v1h1v.8v-1.1h1v-.6v2.3h1v-1.5v1.4v-.3h1v.3v.2v-.9v.2h1v.2v.8h1v-.7v-.4v1.4v-.1h1v1v-2.2v.9h1v.9v-1h1v1.6h1v-.6v1.3h1v-.1v.2v-1v1h1v.1v.3v-1.7v.4h1v-.4v1.9v-1h1v1v.1v-1.1v1.1h1v-.4v-1.1h1v1.2v.9h1v-.9v1.5v-1.3h1v.4v2.1v-1.5h1v-.7v2.4v-.7h1v.9v-1.9v1.3h1v-.3v.5v-1.5v1.5h1v-1.4v1.1h1v-.6v2v-1.5h1v-.5v1.6h1v-1.5v1.6v-.8h1v-.2v-.1v1.4h1v-1v1.2h1v-.8v1v-2.3h1v-.3v-.3v1.4v-.2h1v-1.5v1v-3v1.2h1v-1.4v1.2v-.3h1v-1.9v1.5v-1.4h1v.7v-1.6h1v1v-1.3" stroke="#7b3f9d" stroke-width="1.9" fill="none" stroke-linejoin="miter" stroke-linecap="square"/>
<path d="M210.5 370.8v5.9h1v-3.3v6.3v-6.3h-1v5.3v-7.2h1v2.9v5.7h2v-7.7v6.1h2v.5v-9.5v6.5h2v.4v-4.1h-1v3.9v-4.4h1v10.6v1.4v-9.9v3h-1v2.7v-4.2h-1v-.9v-3.2v6.7v-6.7h1v6.2v.7v-8.7v.3h1v-1.1v7.4h-1v-1.9v.2v-4.6v4.6h2v3.7v-12h1v7.8v-4.4h1v-1.6v-.6v9.7v-9.7h1v-.6v4.3v-8.7v6.6h1v-4.8v5.9v-13.3v12.1h1v-4.4h2v4v-5.1h1v7.6v2.4v-6.8v1h1v-1v6.4h1v-1.8v-4.2h2v-2.5v-1.5v5.8v-5.8h2v3.4v-3v7.1v-3.5h-1v-6.9v8.6h-2v-3.7v-4.1h1v6.5v-8.5v5h1v-4v2v-4.3v1.1h-2v2.1v2.9v-8.8h1v4.3v-6.4h1v-1.7v3.6h1v-2.2v-2.7v7v-6.7h-1v-.4v3.3v-3h1v2v1.1v-4.5v1.8h-1v-.4v-3.5h1v.8v-2.5v5.5v-2.1h-1v-1.6v2.5h-1v-1.8v-3.3h-3v5v-6.1v4.7h1v-5.1v4.5h1v-1.3v3.7h1v-9v4.4h2v1.1v-4.7h1v5.9v-9.5h2v3.2v5.1v-4.7h2v5v-2.9h-1v-1v3h1v-3.6v4.5h1v-2.2v-3.2h1v4v1.1v-3.8v3.8h1v-1.4v3.2v-7.6v6.6h1v-2.5v-3.8h1v4.1v-5.5h1v4.8v-11.8v7.8h-1v.5v3.8h1v-1.9v5.6h2v-7v7v-5.5h-1v4.6v-3.3h1v3.9v1.7v-7v7h2v-2.3v-.3v3.7v-3.7h1v-1.4v6.9h1v-3.3v4.8h-2v-3.9v3.3h1v1.1v1.6v-5.8v5.8h1v-.4v-4.3h1v-1.1v6.1h1v-6.1v4.6h1v.5v-4.6h1v.9v5.1h-1v-1.8v-3.6h-1v3.1v-3.1h1v.5v3.6h-3v-.3v-5v11.4h-1v-8.7v6.9h-1v-3.6v7v-.4h1v-2.2v-1.2v7.7h-1v-4.2v-.9v5.3v-1.6h-1v-.8v-3.7v7.8v-2.4h-1v-.2v2.9v-2.5h1v3.7v-4.9h-2v3.8v-3.1h-1v3.9v-4h1v-1.1v11.2h1v-5.2v-3.8h-1v5.9v-2.6h-1v2.4v-4.2h2v.2v-1v6v-6h1v5.6v-4h1v5.2v-3.5h-1v5.5v-5h1v3.3v-2.7h-1v-.7v8.6h2v-7v4.5h1v-1.9v3.8h1v-.5v-4.1h2v8.1v-6.1h1v-2.2v5.5h1v-3.4v-.6v5.8h-1v-3.4v4.7h-1v-3.4v5.5h1v-4.8v3.1h-1v-.6v-3.9h2v-2.4v12.6h-1v-2.5v2.8v-12.1v12.1h-1v-4.8v-2.3v6.5v-6.5h-1v5.2v1.5v-7.4v1.6h-2v-1.4v6.2h1v-2.5v4.6h1v.5v-4.2h1v7.4v-6.6h1v.8v-4.8h-1v5.9v-5h4v.6v6v-4h1v4.2v3.7h1v-5v3.1h1v-3.5v-.8v6.4h-1v-.6v-6h1v1.7v5.2h1v.7v-4.9h2v-.5v6.6v-5.1h1v3.8v-5.5h2v5.8v-4.6h-1v6.7v-5.8h-1v4.4v1v-5.8v1.2h1v4.9h-2v-5.6v7.2v-4.4h1v1.2v3.7h-1v-3.5v8.2h1v-7.2v9.6v-1h2v-5.1v6h-1v-7.1v4.9h-1v-5.4v5.2h1v-6.5v7.3v-3.4h-1v4.2v-4.3h1v.2v6.1h1v-.9v-2.5h1v5v-6.6v5.8h-1v.6v.4v-4.7v.2h-1v-.2v3.9h1v-7.9v8.5h-1v-2.9v5.1h-1v-6v4.9h2v3.8v-5.9h1v3.8v-4.3h-1v-.7v7.4v-4.7h-1v5.8v1.7v-7.5v5.4h2v-2v3.6h1v-2v5.2h-1v-6.2v3.2h1v4v-8.6h-1v8.7v2.2v-8.3v8.3h2v-1.9v-6h2v5.6v-4.9v3.2h-1v-1.8v5.3h1v.3v-3.8h-1v3.1v-6v4.2h3v1v-5.8h-1v5.3v-5.3h1v3.4v3.3h2v-5.3v3.6h1v-6.9v6.8h1v-2.7v4.6h1v-5.1v-1.8v6.8h2v-3v-.8v7.1h1v1.8v-6.9h1v-.3v7.3h1v-4.7v-4.1h2v4.8v-2.9h2v-.7v2.6h1v.6v-4.2h1v3.2v-3.3h1v6.1v-2.4h1v4v1.4v-5v5h1v-1.1v-3.4h2v2.2v6.5v-5.4h1v.3v-1.4v5.5h1v-4.9v-4v13.2v-7.3h-1v6.8v-7.6h1v1.5v-.6v7.7v-5.1h-1v-2.1v3.6h1v-2.9v3.4h-1v-2.1v5.2v-4h1v6.1v-3.5v7h1v.2v-2.6h-1v2.4v2.7v-5.9h1v5.1v-5.5v4.8h1v-1.6v6.2v-2.2h1v-4v-.6v4v-1.2h-1v1.7v-1.9h1v1.6v.1v-3.5v1h1v.5v3.5h1v1.6v-3.2h1v-1.3v2.7h1v-1.6v4.3h1v-3v4.7v-1.4h1v-3.4v3.6h-1v-3.6v4.4h1v-4.4v4.3v-2.2h2v1.6v-2.8h1v2.4v-5.5h1v7.2v-3.7h1v3.5v-3.1h1v.1v4h1v-.6v-3.4h2v3.2v-1.6h1v1.3v-2.5h1v1.5v3.5h1v-2.2v2.8h1v-2v2.2h-1v-3.4v3.5h1v-.7v2.8v-2.3h1v-1.2v3.7v-.2h1v-2v2.2h-1v-1.9v2.8v-2.8h1v.5v2.2h1v-1v1.9h1v-2.3v-.8v3.6v-.9h1v1v.7v-3v3h1v-4v6.9h1v-2.8v-3.3v1.9h-1v-1.3v2.8h1v-1v1.8h1v.6v-2.6h1v1.3v2.2h1v-2v2.9v-1.5h2v.9v-1.3v2.6h1v-1.3v-1.8h1v-.1v2.2h1v-2.2v2.2v-4.9v4.9h1v-2h1v.1v-.2v2h1v-2v3.3v-2.9h2v2.2v1.8h1v-3.2v-.4v2.7v-2.7h1v2v-2.4v.4h1v-.3v-1v2.6v-.7h1v-.6v-2h1v.3v-.4v2.3v-2.3h1v2.3v.6v-5.4h1v-.1v1.5h1v-4.8v4.6h1v2.1v-3.8v.5h1v1.2v-1.6h1v3v-1.9v3.9v-3.3h1v-.4v1.9h1v-.7v-.4v2.9v-2.6h1v2.4v.2v-2.1v2.1h1v-3v2.7v-1.7h1v-.2v2.2h1v1.1v-3.7v3.7h1v-4v3.4v-.3h1v-.1v1.3h1v-4v4.1v-.7h1v-1.8v3.3v-1.4h1v1.8v-2.9h1v4v-3.3h1v4.1v-2.1v4.4h1v-2v-1.8v1.7h1v-1.8v-.7v4v-.9h1v.7v.8v-2.4v.5h1v1.7v1.2v-3.1v.8h1v.5v-1.3v3.7h1v.9v-3.6v1.4h1v.2v3.5v-3.2h2v1.2v2v-1.6h1v2.3v-2.2h1v2.8v.5v-2.3v2.3h1v-1.5v-.9v2.6h1v-1.5v2.6v-.5h1v-1.6v1.6h1v-.4v.2v-1.9v1.9h1v.2v.1v-1.7v1.7h1v-.5v-1.4h1v-.3v-.3v2.9v-2.9h1v.5v.9v-2.5v2.5h1v-.3v.2v-2.1v2.1h1v-4.2v3.3v-1.1h2v.6v.4v-1.8v1.8h1v-1.5v-.8v2.4h1v-1v-1.5v4.1h2v-1.1v1.9h1v-1.8v2.4h1v-1.1v-.4v3.2v-1.5h1v2.1v.5v-1.8v1.8h1v-.4v.5v-2v2h1v-1.7v-.2v2h1v.1v-1.3h1v1.7v-1.5h1v-.9v3.2h1v-1v1.3v-1.3h1v.5v-1.1v2.3v-2.3h1v1v1.8v-1.4h1v.9v1.3h1v-1.6v2.1v-2.1h1v2.2v-1.8v1.3h1v-1.2v1.6v-1.5h1v1.2v1.8v-1.5h1v1.8v-2h1v2.5v.6v-2.9v1.8h1v-1.1v1.8h1v.1v-1.7h1v1.5v.4v-1.8v1.8h1v-1v1.4v-2.8v2.8h1v-1v.9h1v-1.7v1.9h1v.1v.3v-1.5v1.5h1v-.4v-1.4h1v2.7v.5v-2.9v2h1v-.2v-2.2" stroke="#e3007b" stroke-width="2.6" fill="none" stroke-linejoin="miter" stroke-linecap="square"/>
<path d="M95.5 514.8v-2.9h-1v-.1v-2.4v5.9h1v-4.3v2.6h1v-4.4v3h-1v-.3v-3.5h1v2.2v-2.7h-1v1.8v-1.3v8.6v-5.5h-1v.3v-4.9h1v-6v11h-1v-1.2v-7v5.7h1v-8.6v4.3h1v1.2v-7h-1v.4v-.7v6.4h-2v-.1v-4.5v13.2v-13.2h-1v3.7v1v-6.2v.3h1v4.1v-4.7h1v4.2v-5.2h2v.8v4.3h-1v-1.3v.7v-9.1v1.6h1v-.6v9.2h-1v-6.4v6.7v-.2h1v-7.4v-4.7v11.4v-4.2h-1v-4.5v-3.8h1v2v4v-10.8v9.9h-1v-1.5v-4.7h2v.9v6.1h-1v1.1v1.2v-9.1v9.1h-1v-6.6v5.9h1v1.3v6.1v-12.9h1v11.6v-10.7h1v9.1v-5.4h2v-2.6v9v-1h-1v1.2v-8.5h2v9.9v-5.9h2v-4.3v13.1h1v-.8v-10.4h-1v-.1v6.6h1v3.9v.6v-8.1v3.4h1v-1.2v-2.2v7.7v-7.7h-1v-1.2v6.4v-5.9h1v-2.3v7.4h-1v-8v4.7h-1v.2v-7.8h1v3.6v5.1h1v.3v-12v4.1h-1v5.5v-9.6v.4h-2v3.8v2.2v-6.8v6.8h-1v.1v-4.2h1v-.2v6.8v-.9h2v.8v-6.7h-1v5.5v-6.8h1v8v-10.6h-1v4.3v1v-6.8v6.8h-1v-13.4v7.8h2v2v-8.9h-1v-6v13.7v-6.4h-1v6.2v-5.2h1v3.2v-6.2h1v-2.3v7.1v-3.5h1v4.2v-9v5.3h-2v3v-10.6h1v6.2v-6.6h1v9.6v-15.1h1v1.3v5.1v-14.4v8.4h1v5.2v-6.1h-1v5.2v-5.3h-2v-5v8.5h-1v-8.6v8.4h-1v2v-6.7h-1v8.2v-6.2h-2v-1.2v5.5v-13.1v8.3h1v-5.3v5.4h1v-4.4v4.7h-1v-.9v-3.7v15.4v-7.2h1v-6.8v4.6h2v4.2v-11.9v8.9h-1v-4.4v5.4h2v-3.5v-5.6h-1v.1v-1.6v6.9v-.2h1v-5.2v7.9v-4.3h1v4.6v-5.5h1v5.3v-6.2h1v4.8v-6.4h1v2.8v2v-9v9h-1v-9.8v4.6h1v-4.8v3.8h1v-1.4v-4.1h1v-1.4v7.1h-1v-3.5v-5.5h1v7.8v-10.4h1v4.2v5h-1v-2.4v-1v8.9v-1.7h1v-7.1v6.1h-1v-13.7v10v-5.2h1v-.2v7.1h-2v-7.6v8.1v-7.1h1v2.8v4.5h2v-2.3v1v-7.3v2.5h1v4.5v-9.1v.1h1v1.7v-2.2v8.1v-8.1h2v1.1v4.9h-1v1.5v-4.3h2v-3v6.6h1v1.4v-8.2v7h1v2v-8.5h-2v9.4v-9h1v-2.2v5.3h1v-4.9v-1.6v5.8v-.4h1v-2.4v-4.9h1v-2.6v5.6h2v6v-10.8v1.4h1v6.7v2.5v-13.3v13.3h1v-.6v-5h1v4v3.4v-9.3v2.2h-1v-.8v4.2h2v-7.7v5.5h1v-.3v.4v-5.9h1v5.6v-7.1h2v-1.8v-.3v6.3h1v1.5v4v-12.7v2.7h1v-3.4v7.9h1v-.2v-6.6h-2v1v6.1h2v.5v-10.4h-1v10.2v-5.5h-1v5.3v1.9v-9.5v9.5h2v.8v-7.3h1v-1v9.6v-4.8h-1v.2v6.2h-1v-3.3v-8.7h1v9.3v5.1v-12.6v12.6h1v.9v-8h-1v5.2v-4.5h-1v7.5v-5.6h1v.4v-1v6.8v-.9h-2v-5.2v13.2h2v-12.2v4.7h-1v-2.5v-3v10.6v-5.3h1v.6v-11.7h1v5.9v4.8h1v-5.7v4h1v-5.9v8h-1v1.5v-6.1h1v6.6v-8.4h-1v6.1v-5.7h2v-.3v5.7h1v-3.2v4.2h1v-3.9v7.3h1v-1.6v-7.3h1v4.8v-4.3h1v2.5v-5.8h-1v6.1v-6.5h2v8.1v-7.4v7.2h-1v-.7v1.8v-8.8v8.8h1v-9.3v4.7h1v4v-8.6v2.8h1v4.4v-15.3v12h1v1v-4.6h1v-1.7v-2.2v9.4v-4.3h-1v-4.6v6.9h2v-4.2v-3.4v9.3h1v-.5v-8h-1v8.2v-9.2v5.8h1v-7.1v4.5h2v-3.9v8.9h-1v-7.6v6.6h1v-1.5v-4.7h1v-.2v-1.6v6.8v-6.8h1v5.3v-10.6h1v8.1v-5.1h2v9.7v-5.6h1v3.6v-9.6v9.5h1v1v-5.3h2v-2.8v8.1v-8.1h1v5.1v-5.6h-1v5.5v1.3v-6.4v6.4h-1v.9v-4.1h1v5.3v-5.4h1v5.6v-8.4v6.1h1v2.9v-4.4h1v-2v-1.1v5.2v-1.3h1v-3.4v-.3v6.8v-6.8h1v-2.3v3.3h1v-3.9v8.3h2v-9.6v5.8v-4.3h-1v-.2v4.4h-1v.2v-4.2h1v4.2v-6.7v4.7h1v-3.1v-1.3v4v-.4h-1v-3.3v3.3h1v-3.4v-6.6v4.8h1v-4.5v4.8h1v-2.5v-2.7h1v3.9v-3.5h1v2.1v3.2h2v-4.6v6.6h1v-5.1v3.6h-1v-6.4v6h1v-1.3v-.2v2.4v-2.4h2v1.3v3h1v-2.9h-1v-.8v2.3h2v2v-4.5h1v.2v-1.3v4.3v-.1h1v-3.5v4.1h1v-5.3v3.6v-3.6h1v3.8v-3h1v1.5v.4v-3v3h1v-1.9v5h-1v-.8v-5.6v3.2h1v-2.1v2.7h1v1.3v-8.5h1v5.7v-3.1h1v.5v4.6h2v-2.1v1.9v-4.1v4.1h2v-4.8v5.3h2v-.9v-7.4v7.1h1v-2.3v2.7v-6v2.5h1v.8v.3v-3.3h1v-.1v3.1v-1h-1v2.2v-2.9h1v.6v2.1h1v-.6v-2.4h2v-1.4v-1.6v4.6h1v-2.7v2.6h1v1.9v-3.1v1.8h1v.9v-3.9v3.7h1v-2.3v2.8h1v-1.6v-.9v3.1v-3.1h1v1.1v-3.5v.8h1v-.6v2.7h1v-2.7v-1.5v4.6v-4.6h1v2.6v2.7h1v-.2v-8h2v8.5v-2.9v.6h1v-.5v-.3v4.4v-4.4h1v-1.6v5.3h1v.6v-4.4h1v2.8v-3.1h1v-1.4v3.3h1v-2.8v-3h-1v.8v-1v5.8v-5.4h1v1.6v3.6h1v.1v-2.7h1v.3v.7v-5.7v4.2h1v-2.5v3.6h-1v-1.7v-4.1v2.9h2v2.3v-4.5h-1v.7v3.2h1v-3.9v3.4h1v-5.5v-1.1v7.6v-4.6h1v1.6v.3v-3.7v3.2h1v-3v3h1v-5.6v7.1h1v-3.2v-1.1v4.3v-3.7h1v3.7v1.4v-4.8v2h1v-1.2v8.1v-3.9h1v2.2v2.8v-6h1v2.9v2h2v-2.3v-2.8v7.4h1v-3.7v2.5h1v1.7v-4.1v4h1v-3.8v3.8v-3.6h1v.5v-.6v4.1v-4.1h1v-.4v3.1h1v-3.6v3.6h1v-2.1v3.7h1v1.4v-5.5v4.4h1v-3.1v-.5v6.3v-3.8h1v-5.8v7.4h1v.6v-4.9h1v5v-4.5h1v1.8v2.4h1v.9v-3v.3h1v-.1v1.9h1v-3v5.2h1v-5.1v2.7h1v1.4v-4.8h2v-1.4v-1.2v5.2v-4.3h1v-1.2v3.2h1v-.3v-3.4v6.9v-6.4h1v2.2v-2.8h1v4.7v.2v-4.2v3.2h1v-.1v-3.6h1v1.7v-1.6v5.3v-1.2h1v.2v.8v-4.1v2.9h1v-3v-.1v2.8h2v.4v-5.6h1v7.2v-3.6v2.5h2v-2.5v5.7h1v-5.7v-.1v3.6v-3.6h1v4.4v-5.4h1v.5v4.8h2v-7.3v2.9h-1v.5v1v-4.1v.2h1v3.5v-3.4h1v-.3v-.5v4.6v-4.3h1v3.9v-6.4v4.6h1v-1.5v2.5h1v.2v-2.6h1v2.3v-4.2h1v4.2v-3.8v2.8h1v-2.7v3.3h-1v-4.2v3.7h1v-2.8v2h1v-2.2v3.6h-1v-2.8v2.1h1v2.6v-2.5h1v-1.1v3h1v-.6v.2v-3.6v.7h1v1.7v1.3v-4.6v4.6h1v-2.9v2.3h1v1.8v-2.7h1v2.3v-1.7h1v-2.2v3.5h1v-5.3v3.8h1v-3.4v2.4h1v-4.3v5.1v-1h1v-2.6v-1.6v4.1v-1.4h-1v-.1v-2.6h2v2.2v.1v-3.4v3.4h1v-2.6v-.5v2.3v-2.3h2v.9v3.1v-2.6h2v-.5v4h1v-.3v-4.3v3h1v3.3v-4.7v.1h2v.2v2.6v-1.8h1v-.1v-.4v4v-4h1v.2v-.6v4.6v-3.6h1v1.3v3.1h1v2.1v-5.1v2.6h1v.2v.9v-2.4v2.4h1v-2.2v1.5h1v2.9v-4.9v1.6h1v.3v-1.4v2.9v-2.9h1v.6v2.3v-.1h1v-.8v.7v-2.7h1v2.9v-.1v1.4h1v-1.9v2.7h1v-3v1.9h1v.8v-2.1h1v2v-1.9h1v1.8v2v-5.3v4.5h1v-2.2v-.8v4.1v-4.1h1v1.4v2.5h1v-3.2v4.4h1v-2.8v1.8h1v-2.9v-1.9v6.3v-6.3h1v4.5v-3.1v6.2v-5.8h1v2.3v-2.1h2v3.9v-4.2h1v4v1.9v-4.9h2v-.3v3.5v-2.6h1v-.4v2.3h1v-1.1v-1.3v4.1v-2.1h1v1.5v-3.3v.2h1v3.1v1.4v-3.8v1.4h1v5.3v-4h1v-2.6v-1.5v4.8v-4.8h1v7.7v-8.6v.4h1v-.4v2.5h1v-1.5v-.3v3.2v-3.2h1v1.6v.6v-3.4h1v2.7v-3.2h1v.3v-.2v3.2v-3.2h1v2.3v5v-.1h1v-1.8v2.9h-1v-.2v.4v-3.4v1.3h1v.4v-.6v2.8v-2.8h1v3.3v-2.1h-1v1.5v-2.2v.9h1v.7v3.4v-1.9h1v2.1v-2.8v1.3h1v2.8v-3.7v2.5h1v.6v-1.7h1v-.4v1h1v.3v-1.8v1.8h1v.9v-2.4v.5h1v2.2v.9v-2.2v2.2h1v-1.9v1.4h1v-2v-1.6v3.5v-3.5h1v4.8v-2.8h1v1.6v2.3h1v-2.6v1.9v-1.4h1v.2v1.6h1v.8v-3.5v3.3h1v-2.6v3.9v-1.4h1v-1.1v.9h1v.6v-1.9v1.9h1v-1.4v-.6v2.6v-2.6h1v3.3v-2v.3h1v1.2v.1v-1.6v1.6h1v-2.3v1.2h1v-1v1.7h1v-1.3v1.1h1v-1.3v1.9v-1.4h1v1.2v.9v-2.5v2.5h1v-1.1v1.1h1v.9v-2.2v1.7h1v-1.7v2.8v-2.5h1v-.1v2.5v-1.9h1v3.7v-3.9v1.4h1v.2v1.3h-1v1v-1.8h1v4v2.3v-5.6v5.6h1v-.1v1.5v-3.2v1h1v4.8v-3.8h1v2v-1.5h-1v2.3v-1.2h1v1.4v-1.3h1v1.2v-1.7h1v-.5v1.6v-1h1v-1v-.7v3v-1.2h1v1v.3v-2.4h1v-1v3h1v-1v-.5v2.4v-2.4h1v-.3v2.2h1v-.1v.7v-2.8v.5h1v2.2v-1.4v1.3h1v-1.9v1.3h1v.2v.5v-4.1v2.7h2v-2.6v3.7v-2.1h1v2.2v-3.4h1v3.6v-1.6h1v.5v-.1v2.3h1v-3.9v3.1v-1.9h1v-.2v2.5v-.9h1v.6v.2v-2.5h1v-.4v1.9h1v-1.2v1.4h1v-.7v1.3" stroke="#e8091f" stroke-width="1.9" fill="none" stroke-linejoin="miter" stroke-linecap="square"/>
</g>
<path d="M108.00 589.30v-3.0M108.00 340.30v3.0M133.19 589.30v-3.0M133.19 340.30v3.0M158.38 589.30v-3.0M158.38 340.30v3.0M183.58 589.30v-5.2M183.58 340.30v5.2M208.77 589.30v-3.0M208.77 340.30v3.0M233.97 589.30v-3.0M233.97 340.30v3.0M259.17 589.30v-3.0M259.17 340.30v3.0M284.36 589.30v-5.2M284.36 340.30v5.2M309.56 589.30v-3.0M309.56 340.30v3.0M334.75 589.30v-3.0M334.75 340.30v3.0M359.94 589.30v-3.0M359.94 340.30v3.0M385.14 589.30v-5.2M385.14 340.30v5.2M410.33 589.30v-3.0M410.33 340.30v3.0M435.53 589.30v-3.0M435.53 340.30v3.0M460.72 589.30v-3.0M460.72 340.30v3.0M82.80 589.32h3.0M485.90 589.32h-3.0M82.80 578.00h5.2M485.90 578.00h-5.2M82.80 566.68h3.0M485.90 566.68h-3.0M82.80 555.37h3.0M485.90 555.37h-3.0M82.80 544.06h3.0M485.90 544.06h-3.0M82.80 532.74h3.0M485.90 532.74h-3.0M82.80 521.42h5.2M485.90 521.42h-5.2M82.80 510.11h3.0M485.90 510.11h-3.0M82.80 498.79h3.0M485.90 498.79h-3.0M82.80 487.48h3.0M485.90 487.48h-3.0M82.80 476.16h3.0M485.90 476.16h-3.0M82.80 464.85h5.2M485.90 464.85h-5.2M82.80 453.53h3.0M485.90 453.53h-3.0M82.80 442.22h3.0M485.90 442.22h-3.0M82.80 430.90h3.0M485.90 430.90h-3.0M82.80 419.59h3.0M485.90 419.59h-3.0M82.80 408.27h5.2M485.90 408.27h-5.2M82.80 396.96h3.0M485.90 396.96h-3.0M82.80 385.64h3.0M485.90 385.64h-3.0M82.80 374.33h3.0M485.90 374.33h-3.0M82.80 363.01h3.0M485.90 363.01h-3.0M82.80 351.70h5.2M485.90 351.70h-5.2M82.80 340.38h3.0M485.90 340.38h-3.0" stroke="#1a1a1a" stroke-width="1.1" fill="none"/>
<rect x="82.80" y="340.30" width="403.10" height="249.00" fill="none" stroke="#1a1a1a" stroke-width="1.35"/>
<text class="t" x="82.80" y="610.30" text-anchor="middle">0.0</text>
<text class="t" x="183.58" y="610.30" text-anchor="middle">0.2</text>
<text class="t" x="284.36" y="610.30" text-anchor="middle">0.4</text>
<text class="t" x="385.14" y="610.30" text-anchor="middle">0.6</text>
<text class="t" x="485.92" y="610.30" text-anchor="middle">0.8</text>
<text class="t" x="77.20" y="583.60" text-anchor="end">1.0</text>
<text class="t" x="77.20" y="527.02" text-anchor="end">1.5</text>
<text class="t" x="77.20" y="470.45" text-anchor="end">2.0</text>
<text class="t" x="77.20" y="413.88" text-anchor="end">2.5</text>
<text class="t" x="77.20" y="357.30" text-anchor="end">3.0</text>
<text class="t xl" x="284.35" y="638.10" text-anchor="middle">Shannon entropy</text>
<text class="t yl" transform="translate(38.60 464.80) rotate(-90)" text-anchor="middle"><tspan class="sg">σ</tspan><tspan class="pr" dx="-0.6">(</tspan><tspan class="si" dx="-2.4">I</tspan><tspan dx="0.6">n degree</tspan><tspan class="pr">)</tspan></text>
<clipPath id="cB2"><rect x="604.8" y="340.3" width="402.60" height="249.00"/></clipPath>
<g clip-path="url(#cB2)">
<path d="M668.5 381.9v3.7h1v-8.5v11.7v-5.5h1v-5.6v9.9h1v1.5v3.2v-9.5v6.7h-1v.1v3.9h1v-3.6v-1.3v5.5v-.2h-1v-1.7v1.9v-7.6v2.9h-1v-.3v10.2v-3.1h1v-5.4v8.3v-4.7h-1v3.5v2v-6.7h-1v4.7v4.2h1v-5.7v4.6h1v-2.9v3.7h-1v-2.7v5.8h-1v.2v-5.8v13v-8.8h-1v6.6v-5.4h1v2v-3.5v8.9v-1h-1v-.7v-6h1v6.3v-6.1h-1v8.4v-9.7h1v.5v6.9h-1v-4.6v-2.3v8.2v-7.6h1v12.7v-11.5v10h-1v1.5v-6.6h-1v4.7v-7h-1v11.3v-9.7h-1v5.8v-11v10h1v-2.5v3.9v-18.8v11.2h1v4.7v-6.3h-1v2.5v14.3h1v-17.4v14.2h-1v4.1v-15.1h1v.2v12v-2.1h2v-4.7v-.5v16.7v-16.7h1v9.2v-8.9h-1v7.8v3.5v-11.5h1v1.8v7.7h1v.2v3.7v-10.6v4.2h-1v-7.1v12.1h1v-7.2v-3.5v12.5v-.9h1v-6.5v13.5v-12.6h1v11v-12.5v9.2h1v-4.3v10.8v-9.2h1v-3.4v13.3v-1.3h1v-3.9v-7.9h1v4.8v-3.9v13.2v-7.7h1v11.8v-7.1h1v5.9v2.6v-13.5h1v7.2v-7.8h-1v14.9v-16.4h-1v11.9v-7.6h1v3.4v-2.4v10.2v-3.1h1v-1.5v5.4h1v4v-7.1h1v4.5v4.1v-10.8v2.4h1v3.8v1.9v-8.2v2h1v6.7v-9.1h1v8.2v-6.3v2.4h1v4.5v-9.8h1v6.3v5.3h1v-1v.4v-4.7v1.7h1v-1v6.2h1v-5.9v3.7v-3.4h-1v5.2v-6.6h1v-.3v5h1v-.3v.6v-3.7v3.7h1v-4.3v-.6v3.8h1v-.3v2.3v-4.8v2h1v4.3v-2.9h1v.1v-2.2v4.5v-4.5h1v1.5v4.6h1v2.1v-5h1v5.7v-9.9v8.1h2v1v2.7v-6.7v2.5h1v-2.1v6.5v-3h1v5v1.2v-7.6v7.6h1v1.6v-3.6h1v1.6v-.9v7.1v-6.2h1v3.8v1.6v-5.5v5.5h1v4.1v2.5v-8.1v3.7h1v-.3v-1.1v8.3h1v-1.4v2.5v-6.8v1.9h1v.3v-1.9v8.1h1v-1v-4.2v9.7v-9.7h1v3.1v6.4h1v-1.2v3.5v-7.1v7.1h1v-3.4v3.5h1v-1.9v-4.2h1v3.3v3.2h1v-.2v-3.4h1v1.2v-.9v10.1h1v-3.1v.3v-5.6v1.7h1v3v3.1v-6.7v5.2h1v.7v-4.5h-1v5.2v-3v8.6h1v-6.5v4.3h1v-.4v.9v-5.1v5.1h1v-1.7v-.8v5.5v-2.6h1v.4v-2.2v6.5v-6.2h1v-.1v7.8v-.4h2v-4.7v7.4v-4.6h1v3.5v3.5v-8.7v4.8h1v1.8v-3v9.4v-5.2h1v-3v4.7h1v-.2v1.5v-6.4v3h1v-.7v3.5h1v2.1v-4.6h-1v5.8v-3.3h2v2.5v-4.1h1v3.8v-5h1v5.4v-3.7h-1v3.1v-3.3h1v2.7v1.6v-3.9v3.9h1v2.1v2.2v-7v3.5h1v.4v3.9h1v-.2v1.1v-5v5h1v-1.9v-2.3v8.7v-8.7h1v5.6v.6v-5.6v5.6h1v-2.2v-3.3h1v2v-1.7v5.8v-4.3h1v1.4v3.8v-3.6h1v2.1v-1.1v5.6h1v.9v-4.6v10.2h1v-4.5v1.1v-3.6h1v4v.8v-4.9v4.9h1v-4v3.5h1v-3.7v4.3v-3.7h1v.9v-3.4v7.7v-7.7h1v5.1v3h1v.1v2.7v-5.9v3.8h1v2v5.4v-12.2h1v1.9v5.8v-4.2h1v-1.3v7.8v-3.3h1v-2.5v5.2h1v-2.6v2.7h-1v-2.7v9.2h1v-6.1v-3.2h1v2.5v-1.4v6.5v-.9h1v-8.2v6.7h-1v1.9v-4.5h1v.7v3v-.5h1v-1.6v2.3h1v-1.6v-.5v3.9h1v-.3v1.6v-6.1v2.2h1v3v.1v-4.5v4.5h1v-5.4v6.8h1v-2.7v-.5v3.5v-.4h1v.5v-3h1v.9v3.5h1v.5v-3.5h1v1.8v-2.2v6.3v-1.7h1v-2.5v2.8h1v-4.9v5.4v-3.3h1v.5v2.7h1v-5.7v7.5v-3.3h-1v1.4v3.4h1v1v.6v-5.2v1h1v.9v-2.8v5.7v-5.7h1v-3.4v8.5v-.2h1v2.6v.4v-6.4h1v4.8v-4.9v4.3h1v-.9v2.5v-7.2v3.1h1v-3.1h1v-.8v-2.3v6.5v-6.5h1v1v-2.2v9v-2.5h1v-7.3v4.3v-4.3h1v-.1v-1.4v5.3v-1.7h1v-7.4v6.9v-5.9h1v7.7v-6.7h1v2.4v-4.7v9.7v-9.7h1v-.6v-1.6v5.5v-2.2h1v3.1v-8.3v3.7h1v1.7v-4.8h1v3.4v4.5v-9.8h1v1.7v2.9h1v-2.9v-1.4v5.5v-1.8h1v-1.4v3.9v-3.4h1v.9v2.5h1v-3.7h1v-1v3.5h1v-6.5v4.6h1v.1v2.8v-8.1v7.6h1v-3.7v-.5v5.2h1v-1.8v2.4h-1v-1.4v3v-6v5.9h1v-2.9v3.1h1v1.3v-3.7h1v5.4v-5.9v.6h1v1.8v2.3h1v-1.5v-2v4.5v-4.5h1v4.5v.4v-4.3v4.3h1v-.1v-4.8v2.8h1v-.6v-.5v3.8v-.7h1v.7v-5.4v4.7h1v-1.7v2.7h1v-.7v-.3v9.9v-7.2h1v-6.6v5.5v-2.2h1v-3.3v5.9v-5h1v-3.1v4h1v-3.5v5.1v-3.6h1v-3.6v-1.6v5.7v-5.7h1v2.1v-.1v2.7h2v-3.4v6.1v-.9h1v-3.6v-3.2v6.5v-.4h1v-.3v-5.7v1.6h1v1.4v3.3h1v-1.1v-4.3h1v2.8v-3.8v2.4h1v-2.3v3.2h1v-5.1v3.7h1v-3v5.3h1v-4v.8v-4.5h1v.6v4.2h1v-1v-3.4v2.1h1v1.4v-4.2h1v.2v-.3v4.5v-2.3h1v-2h1v2.2v.7v-6.5v4.9h1v-3.5v-.3v3.2v-3.2h1v.8v.1v-2.2v2.2h1v-3.5v5v-1.8h1v-1.9v2h1v-1.5v2.1h1v-1.6v-1.2v3v-.7h1v-1.9v-1.1v2.3v-2.3h1v3.9v-4.8v1.4h1v.5v-1.6h1v-.7v-.7v2.5v-2.5h1v-.6v-.2v2.2v-2.2h1v-1.3v2.9h1v-.9v-2.3h1v1.7v.9v-2.3h1v1v2.4h1v-2.7v3v-.3h1v-1.6v-.1v2.8h1v-.6v-3.6v1.7h1v-1.9v2.3h1v-1.9v-2.3v2.2h1v-1.9v-1.8v3.6v-3.6h1v3.2v-1.7h1v1.4v1.9v-4.3v1.8h1v-1.1v1.8h1v-2.9v1.2h1v-2.1v-.6v3.1v-.7h1v-2v1.3v-1.3h1v.4v-1.6v1.5h1v-1.7v-.4v1.9v-1.9h1v1.7v-2.6v1.1h1v-1v-.6v2.3v-2.3h1v.2v-.1v1.8h1v-2.4v-.7v2.2v-2.2h1v.3v-.4v1.8v-1.8h1v.9v.2v-2.2v2.2h1v-2v3.1v-1.8h1v-.8v-.6v2.1v-2.1h1v-1.8h1v.4v-.3v2.6h1v-1.2v-1.7v1.4h1v-1.1v2.1h1v-2v-.9v2.2v-2.2h1v.3v-1.1v3.4v-3.3h1v1.4v-1.4h1v1.3v-2.6v2.2h1v-.9v-2v2h1v-1v-1.9h1v3.1v-3.1h1v2.9v-2.9v.7h1v2.8v-3.4h1v.2v1v-2.2h1v-.1v1.3h1v-1.9v-.6v2.8v-.8h1v-.1v-1.8h1v-.6v-.3v2.6v-2.6h1v-.7v-1v2.5v-1.3h1v-1v3.8v-1.6h1v1.9v.3v-2.5v1h1v.7v1v-2.3h1v1.6v-3.2v2.9h1v-.1v-1.2h1v-1.8v3.6v-3.4h1v2v.2v-1.2h1v-.9v2.8h1v-3.2v1.5h1v-3.2v2.6h1v-.9v.1v-1.9v1.9h1v.4v-1.8v.5h1v.8v-2.7h1v-.5v-.9v2.1v-2.1h1v2.3v.2v-2v.7h1v1.3v-2.5v2.3h1v-1.9v1.5v-.2h1v-.3v-2.1v1.2h1v.1v-2.7h1v2.7v-2v1.3h1v-1.8v1.6h1v-2.3v1.6v-1.3h1v1.3v-2.4h1v.2v1.1h1v-.4v-.9v2.4v-1.2h1v1.1v-1.6v1.5h1v-1v1.3h1v-2.2v-.1v1.8v-1.8h1v1.6v-1.9h1v1.1v-2.2h1v2.8v.7v-2v2h1v-2.4v-.4v1.7v-.5h1v-1.1v2h1v-1.3v.6v-1.8v.2h1v1.7v-1.9v1.6h1v-1.6v1.6v-.2h1v-.6v.8v-2v.4h1v2.3v-2.7v1.8h1v.1v-1.9h1v2.1v.3v-1.6v.5h1v.1v2.3v-1.3h1v2.1v-1.4h1v2.4v1.2v-4.6v4.3h1v-1.4v1.7v-.3h1v1.4v-2.1v.8h1v.8v-.2v2.1v-2.1h1v.5v4v-1.6h1v2.2v.1v-1.9h1v1.3v-.9h1v1.9v-1.2v2.7v-2.3h1v.1v-.4v1.8v-.4h1v-.6v1.8h1v-1.8v-.8v2.3v-2.3h1v.4v-.5v1.6v-.1h2v-1.4v2.2v-1.9h1v-.1v-.2v2.2v-.3h1v-1.8h1v.6v2.8v-2.1h1v.9v-.3v1.6h1v-.9v-1.5h1v1v.6v-3.1v1.5h1v.7v-1v2.3v-2.1h1v1.8v-1h1v.4v.9" stroke="#000000" stroke-width="1.9" fill="none" stroke-linejoin="miter" stroke-linecap="square"/>
<path d="M684.5 442v-4.7h-1v.1v9.4h1v-3.7v-6.6h1v10.2v-11.9h-1v-3.8v-4.3v18.4v-11.3h1v-.4v8.4h1v-9.4v-3.5v11.3v-11.3h-2v4.6v7.6h2v-3.3v4.4v-13.3h1v3.6v5.9h-1v-.6v-8.7h-1v.7v4h1v-5.5v10h-1v-13.9v7.9v-4.3h1v1.1v4.8h1v.3v2.7v-8.6v.2h1v-.5v4.9h-1v-5.6v6.1h2v-4.9v6.6h-1v3.3v-5.9h1v3.5v1.4v-6.5v1.4h1v-2.4v6h1v.6v-4.5h1v6.6v.7v-11.3h2v9.1v-5.4h1v6.9v-9h-1v.7v5h2v2.6v-7.7h-2v2.3v8.5v-4.9h1v.1v-.1v6h2v-5.5v9.1h-1v-6.1v6.4h1v2.1v.2v-5.8v.8h1v4.1v-3.9h1v-3.5v-2.8v12v-10.5h1v2v-2.8v14.8v-14.8h1v4.6v-4.7h1v2.5v-4.7h-1v-.4v4.5h1v-3.5v5.6h1v-.3v-5.2h1v3.5v1v-7v1.2h1v-1.1v-2.3v8.1v-.3h-1v-2.5v-4.1v14.8v-11.7h1v3.4v-6.2h1v7.2v-13.8h1v2.2v-1.5v11v-3.9h-3v-7v6.1h-1v-6.3v5.9h1v-9.1v-4.8v13.4v-6.9h-1v1v-3.7h1v-1.1v7.6v-5.4h1v4v-7.1h-1v8.6v-11.3h1v8v-10.2v7.8h1v-2.1v5.4h-1v-8.5v11.9v-10.4h1v-4v-3v10.9v-5.9h1v-2v5.9h1v-9.9v9.6h1v-4.1v5.7h1v-12.4v11.1v-8.5h-1v3.9v-5.4h1v10.9v-4.8h-1v-2.2v5.4h-1v-5.9v8.2h-1v3.9v-9.8h2v6v-3.9h1v3.7v-6.3h2v8.7v2.3v-9.2v3.8h1v2.8v-7.5v15.9v-11.8h-1v.7v6.7v-2h-1v3.4v-4.6h-1v-2.3v4.8h-1v-1.5v4.5h1v.5v2.8v-9.5v9.5h1v-2.8v-6.2h-1v6.1v-9v7.5h-1v3.7v-7.1v1.1h1v11.8v-15.4v8.4h2v3.2v-11.2h-1v3.9v6h1v-4.4v6.1h-1v-9.8v8.3h-1v1.1v-7.3h-1v3.3v5.9v-12.7h1v4.7v9.9v-1.7h-1v-5.8v10.1v-.8h1v4.3v-9.2h1v10.6v-10.1h1v2.7v-1.2v10.8v-1.9h1v1.4v2.2v-8.9v4.8h-1v2v-7.8h-1v6.8v-5.6h1v3v6.3v-14.3v5.2h-1v1.1v9.8h-1v-3v4.2v-10.4v10.1h-1v-3.5v-6.3h-2v.9v5.6h1v-2.6v11.1v-8h1v6.3v3.8v-9.8v9.8h1v-1.6v-7.5h1v9.1v-6.3h1v-1.8v7.6h2v.1v-7.8h1v10.1v-9.5h-1v8.3v-4.9h2v2.6v6h1v-4.8v5.3h1v-7.6v8.2h1v-6.8v-1.8v12.1v-7.8h1v10.3v-16.1v2.1h-1v11.1v-9.5h1v10.8v-7h-1v5.1v-5.6h1v4.8v-5h-1v2.9v.2v-6.9v6.9h1v-.3v-6.5h-1v7.8v3.3v-9.3v9.3h1v-2v-7.9h2v-.1v13.1v-10.7h1v-.8v7h1v-.3v1.7v-7.2v7.2h-1v-3.4v-.4v6.3v-6.3h1v4.3v4.6v-11.5v9.9h1v-4.6v-4.3h1v4.8v-4.6h1v5.8v5.9v-16.6h2v5v-4.7h1v.6v5.3h2v-9.1v6.4v-.3h-1v-6.3v5.5h1v-6.3v-1.3v7.7h1v1.8v-4.7h-2v-5v9.9h-1v-2.6v-9.4h1v5.4v7h1v1.9v-14.4h-2v2.8v-2.7v7.6v-2.4h-1v.8v-6.5h1v-2.4v6.3h-1v-7.1v6.9h1v5.9v-9.7v.5h1v-4.1v-1.5v10.7v-2.7h1v.2v-6.2h-1v10.1v1.5v-17.2v2.1h1v3.6v-6.5h1v-2.9v4.9h1v3.2v1.1v-7.4h-1v5v-8.4h1v6.6v4.2h-1v-8.5v-1.9v9.5v-2.8h1v-7.9v6v-4.7h-1v1.3v5.4h2v-7.9v10.2v-10h1v-2v4.7h1v-11.8v12.1h-1v-7.4v4.4h1v3.1v-5.9h-1v2.5v-10.1h-1v2.7v5.4h1v4.1v-11.4v4.7h-1v.8v-5.1h-1v3.9v5.8h1v-9.1v9.1h-2v-12.8v-1.4v8.9v-2.8h-1v-3.3v-3.2v12.5v-5.8h-1v-6.3h1v6.9v-8h-1v8.7v-4.4h1v-2.6v6.6v-1.1h-1v1.1v-5.1h1v-3.3v7.6h-1v-7.5v4.3h1v-7.1v5.9h1v1.8v-5.9h-1v-1.1v7.4h1v-3.7v7h1v-9.4v10.7h1v-11.2v-1.5v9.7v-5h1v-4.1v8.7v-8.1h-1v13.5v.1v-13.2v12.6h-1v4.5v-7h-1v1.4v1.7v-7.6h1v3.9v8.6v-5.8h1v4.5v4.8v-11.2v5.6h1v-1.1v5.1h1v-6.1v5.3h-1v-4.9v5.6h-1v-1.6v1.6v-8.2v8.2h1v-5.4v12h-1v-1.7v-7.1h2v-.1v7.5h-2v-4.7v4.1h1v.4v-5.4h-1v7.7v-7h1v1.6v8.3v-6.3h1v-3.1v7.9h2v-10.3v5.8h1v-1.7v-6.2v14v-7.1h1v1v6.6h-1v-4.2v-5.4v13v-2.8h-1v5.5v-11.4h2v-.6v7h-1v-5.3v7.6h1v-5.3v-6.4v13.4v-13.4h-1v15.8v-8.3h-1v11.6v-9.1h1v.6v-3.1v7.3v-7.3h-2v-.1v-1.9v6.4v-6.4h1v.2v6.6v-4.8h-2v3.4v8.8h2v-2.8v-8.1h1v11.3v-6.7h-1v-.1v5.9v-5.8h-1v2v6.6h1v-6.5v-.1v5.5h1v-6.3v3.8h-1v-.8v-3.8h-1v7.3v-6.6h2v8.1v1.8v-15.5v10.7h2v4.8v-4.3h-1v3.9v5.5h2v1v-6.2h1v-1.7v4.6h-1v-2v8.8v-18.9v7h2v1.1v4.8v-12.3v1.8h-1v1.1v9.1h1v-7.3v8v-4.1h-1v6v5v-10.5v10.5h1v-2.4v6.3h-1v-7.9v6.9h1v-8.9v5.3v-11.5v11.2h-1v-1.2v-6.4h1v.7v6.5h1v4.7v1.1v-6.9v6.8h-1v-.9v-4.8h-1v4.9v-7.7h2v8.1v-8.6v5.3h1v4.8v-6.6h1v8.8v.3v-8.6h-1v7.7v-11.6v7.8h1v-3.9v7h1v4.5v1.1v-8.9v8.9h1v-4v10.4h1v.6v-5.6h1v2.6v-7.1v18.3v-17.6h1v-2.9v10.6h-1v-6.1v-6.5h-1v3.4v5.5h1v-4.4v4.1h-1v-3.9v8.7h3v-5.8v.8v-8.6v8.6h1v3.4v4.1v-10.8v9.9h1v-4.4v9h-1v.5v-4.6h1v-6.1v13.5v-6.9h1v2v4.8h-1v3.7v-11.2v5.1h-1v-5.3v7.8h1v-.5v-4.1h2v2.9v10.3v-1.1h1v-.6v-5.7h-1v-2.1v9.3v-2.3h1v-1.4v-4.7v3.8h1v-6.4h-1v7.6v-6.1h1v-.8v4.6h1v2.9v-6.7v5.7h1v.3v-7.9v19.2v-14.3h1v9.7v-7.4h2v-.2v5h1v-2.4v7v-3.5h-1v-1.4v-1.5v8.3v-1.8h1v-7.8v6.5h2v.6v-8.9v5.7h-1v5.5v-6.8h1v1.6v-8.3v8.3h1v-7.1v8.4h-1v-7.1v6.6h1v-6v5.3h1v-2.1v-6.1h1v2.9v-.7v11.4v-11.4h1v1.5v7.6h1v-13.3v10.8h1v-1v2.4v-13.1v11.8h2v3.5v-11.4h1v3v5.7h1v-4.4v5.2v-16.7v12h1v-9.3v8.8h1v-7.9v4.5h2v2.4v.5v-8.4h-2v-.9v9.4h1v-9.5v10.1v-4.5h1v5.6v-11.1v6.1h2v-5.6v-.7v5.7v-1.3h1v3v-9.1h-2v6.5v-10.4h1v13.8v-8.6h1v-.2v8.6h2v-6.3v-.5v6h1v.8v.4v-14.2v14.2h-1v-1v-8.7h1v-3.2v11h2v-1.2v-6.5h1v.2v9.1v-.1h1v-5.7v5.9h1v-1v-4.8h1v-1.9v6.9h1v-1.5v-5v4.7h1v3.8v-9.8h-1v-.6v-5.7v17.4v-8.3h2v-4.8v6h1v.9v-7v5.4h1v-.9v-7.3h1v8.2v-8h1v9.4v-14.1v5.2h1v9.2v-8.4h1v5.7v-1.8v6.4v-1.5h1v-7.4v-.9v7.4v-7.4h1v9.4v-8.8h1v6.8v-9.2h1v10.4v-12.5h-1v6.9v8.2h1v-2.4v-6.2h1v-1.5v14.3h1v-16.2v7h1v1.6v-7.8h1v2.9v-6.3h2v-.6v6.1h1v-1.2v2.2v-7.4v7.4h1v-7v6.4v-1.4h1v-2.6v-2.2v6.3v-.5h1v-5.6v5.4h1v-1.3v.3v-5.8v5.8h1v-4.5v2.3h1v-3.3v-1.8v4.3v-.6h1v2.7v-6h1v2.9h-1v.3v-2.7h1v.8v-1.5v5.7v-2.4h2v-4.4v-1.1v4.2v-3.2h1v.8v2.6h1v-2.4v-1.3v3.5v-.1h1v-3.3v-.7v3.4v-.3h1v-3.1v2.7h1v.6v-4.3v.9h1v2.8h1v-.4v-1.8h-1v2.6v1.2v-3.4v3.4h1v.3v-2.1h1v1.9v-2.4v5.2v-4h1v4.1v.4v-3.5v3.5h-1v-.4v-2.2h1v2v1v-2.8v.5h1v3v-3.4h1v.3v2.4h1v1.6v-2.7v6v-3.2h1v-1.1v5.2h1v-.8v-3.3h1v4.8v-3.2v2.2h1v-.2v.9v-3.4h1v3.1v1.9v-4.8v.5h1v3.2v-2.9h2v3v-2.8v6.5v-4.4h1v.8v2.2h1v-1.1v1.9v-4.1v4.1h1v-2.1v2.7h1v1.6v-4.2v1.3h1v-.8v2.6h1v-.8v1.4v-3.6v3.6h1v-.5v-2h1v2.8v-2.5h1v3v-2.9v6.1v-5.9h1v1.8v-1.7h1v-.5v2.1h-1v-1.6v3.5v-1.6h1v-.7v3.4h1v-.9v-2.6v6.8h1v-2.3v1.3v-3.4v3.4h1v-1v-.3v3.4v-1.3h1v-2.7v-.2v3.1v-3.1h1v3.2v-2.5h1v3.3v1.5v-4.7v1.7h1v.2v2.6h1v1.2v-3.7h1v2.8v.5v-2.2v.7h1v.6v-.1v2.2v-2.2h1v.3v3.5v-2.6h1v3.7v-3.3h1v.1v2.1v-1.5h1v.5v2v-1.2h1v-.5v-.7v3.2v-.4h1v-2.4v2.2v-1.3h1v.5v-.1v1.6v-1.6h1v-.5v1.3h1v-1.6v1.4v-3v2.5h1v-.2v-1.7v1.7h1v-1.8v1.7h1v-1.2v-1h1v-1.4v2.3h1v-1.8v1.9h1v-1.2v2.5h1v-.8v.2v-1.8v.6h1v.7v-.4v2.5v-2.5h1v1.2v-.2v1.8v-1.8h1v.9v1.3h1v-2.7v2.7h1v.5v-1.5v.3h1v.1v1.8h1v-.2v1.3v-3.1v3.1h1v-1.8v1.7h1v-1.1v1.2h1v.1v.4v-2.2h1v1.4v-1.4h1v-.1v1.5v-1h1v.9v.6v-2.4v1.7h1v-2v-.8v2.2v-2.2h1v-1.6v-.7v2.9v-2.9h1v1.2v-2.2v1.3h1v.4v-2.6v.9h1v-1v.4v-1.6v1.6h1v-.4v-1.7h1v-1.3v-1.5v3.1v-1.4h1v-.1v-2.1h1v.5v-.1v1.6h1v.1v-.9h1v-.2v1.7h1v-2v-1.1v2.7v-2.7h1v.9v1.5h1v-.3v-1.7h1v1.9v.3v-3.7h1v2.9v.5v-2.3v2.3h1v-2.8v-.3v2.3v-.8h1v.2v-2.2v1.6h1v-1.1v.2v-1.7v1.7h1v-1.9v1.4h1v-1.3v-.2v2.2v-2h1v-.3v-.6v2.3v-.9h1v-1.4v-.7v1.6v-.4h1v-1.3h1v1.5v-1.7v4v-3.4h1v1.9v-2.5v1.8h1v-1.5v-.4v1.9v-.7h1v-1.6v1.8h1v.5v-2.1h1v1.6v1.4v-1.3h1v-1.2v2.8h1v-.1v-1.9h1v2.1v-2.5" stroke="#ffff12" stroke-width="1.9" fill="none" stroke-linejoin="miter" stroke-linecap="square"/>
<path d="M637.5 389.8v4.3v-12.4v12.4h-2v-3.2v-3.6h1v-1.9v8.5v-3h1v-5.7v5.4h2v4v-9.5h-1v1.3v-.2v5.8v-5.8h1v6.5v-9.5h-1v6.7v1.3v-6.2v6.2h1v-1.7v-6.7v14v-8.9h-1v14.9v-13.5h-1v5.2v-4.4h1v-2.2v-.3v9.1h-1v-5v9h1v5.2v-9v.4h1v7.9v-5.9v.6h3v-4.9v9.4h-1v-13.5v10h1v-5.2v-1.1v5.9h1v-4.6v6.4h1v-8v7.7v-.5h1v-3.7v7.7h2v-1.5v-5.8h-1v-1.7v5.9h1v-4.3v14.2v-9.1h1v5.9v-8.2v1.2h-1v6.6v-4.9h-1v6.6v-5.6h-1v5.9v-3.6h1v-4.2v10.9h-2v-5.7v9.1h1v-7.7v6.3h-1v1.9v-7.7h2v-2v8.3h1v1.5v-5.3h1v2.2v6.2h1v-6.4v-4.2v12.1v-6.2h-1v-7.8v9v-8.3h1v5.5v-9.3h-1v7.3v-5.9h1v-3.5v9v-4.9h1v7.1v-8.2h2v11.1v-10.9v8h1v-5.5v5.6h-1v-6.8v5v-10.1h-1v5.6v-4.2h1v4.3v4.5v-11.6v11.6h1v-3.8v-12.2h1v15.8v-9.7v6h1v-2.9v1.3v-6.6v.2h1v11.4v-6.8h1v6v-6.1h2v12.2v-7.6h-1v2.9v.2v-7.7v1.9h-1v1.2v7.2h1v-2.6v.4v-6.8v4.3h1v.2v-5.3h1v-2.7v7h1v-5.8v7.5h1v-9.2v6.1v-12.8h-1v3.5v1v-8.2h2v.9v8.8h-1v-9.4v8.6h1v1.8v.4v-6h-1v9.7v-7h-1v-2.9v-.9v9.9v-2.1h1v-5.5v4.1h2v-1v-8.8h-1v11.1v-4.7h1v-.9v3.7h2v-2.9v-5.4h-1v-1.5v16.8v-14.4h-1v3.8v-6.1h1v10.4v-7.3h-1v6.2v-9.2v2.5h1v5.4v-6h1v2.1v-3v6.8v-6.8h1v.2v7.3h1v-.8v3.6v-9.8v9.8h2v-9.3v9.8v-8.5h1v3.4v-3.2v12.3v-5.3h-1v1v-3.5v8.1v-8.1h1v3.7v-1.4v7.8v-7.8h1v8v-5.8h1v4.7h-1v-1.8v-5.5v13.9v-13.9h-1v9.6v-6.7h1v-.3v4.9h1v-4.7v9.3h1v-2.2v-5.6v11.4h1v-2v-5.2h1v6.3v-5.9h-1v-.5v5.9h2v-.9v7v-7h1v-4.9v12.9h-1v-9.1v4.2h-1v-4.4v5.2h-1v-3.9v4.7h-1v-11.6v9.9h2v-2.2v-.6v9.5h1v-1.5v.8v-8.5v8.5h1v3.4v-7.7v7.6h-1v-.6v6.5v-13.2v2.4h1v.5v7.7v-7.1h1v-.4v-1.6v11.7v-11.7h2v-.4v11.2v-8.6h-1v4.4v6.6v-4.5h2v7.4v1.2v-9.5v9.5h-1v-10.2v9.8v-6.9h1v3.5v-2.3v7.5v-7.5h-1v-1v7.1h-1v-4.4v4.8h1v.8v5v-11v.9h1v6v-7.2h-1v-4.6v9.7h2v-4.1v-1.5v6.9h-1v-.2v-5.3h1v7.4v-7.5h1v7.4v-4.9h1v6.2v-6.5h1v.1v6.9v-.4h2v-2.2v.7v-6.4h-1v8.4v-7.7v6.7h1v-.2v-5.1h-1v7.3v-11.8h1v7.4v-6.2h1v3.3v5.8h-1v1.2v-6h1v8v-7v6.2h1v-.7v-5h1v-.8v-.7v9.7v-4h-1v-4.5v15.3v-12.1h1v7.7v-6.1h1v.5v5.8h1v-.8v2.2v-9.9v2h-1v.9v6h1v-1.8v5.8v-12.3h-1v10.9v4.9v-13.2v8.2h2v-1.8v-4.9h-1v.8v7.7h-1v-1.7v3.7v-11v11h2v-7.9v5.2h1v-6.4v8v-6h1v11.4v-10.7h-1v2.1v-1.4v5.3h1v-6.6v8h1v-6.2v6.4h1v.3v-11.9h1v10.1v1.2v-5.2v5.2h1v1.8v-6.3h-1v5.6v-6.2h1v8.8v-5.4h1v-.5v7.7h1v2.1v-16.1h2v15v-7.3v1.2h-1v3.2v4.2v-11.3v2.1h-1v2.9v4.2h1v-7.1v6.4h2v-5.5v7.2v-5.7h1v-2v4.8h1v-5.3v6.2h-1v-1.9v-5.1v10.3h1v6.3v-13.2h1v4.3v5.4h-1v-4.3v5.4h1v-2.4v-4.2h-1v4.2v-4.6h1v-.1v4.5h1v2.9v1.6v-15.3v10.5h-1v9.6v-10.9v5.6h1v-2.2v5.6h-1v-2v-3.6h1v-.6v-2.4v12.7h1v-.9v1.1v-9.9v8.4h-1v-1.6v1.2v-13v13h2v-.7v3.1v-9.3v9.3h1v-9.1v4h1v-1.9v-1.1v13.1h1v-2.3v-5.3v11.8v-5.8h2v-.7v-4.8h1v6.6v-4.3h1v.8v6.6h1v-6v-2v12.4v-4.5h2v.2v-6.3h1v2.1v-4.1h1v1.4v-2v7.4v-.1h-1v-.5v-5.8h3v3.5v7.8h-1v1.1v-7.1h-1v-2.1v8.4h2v-2.5v2v-8.9v7.4h1v-6.4v-.1v6.9v-5h1v6.6v2.4v-9.1v2h1v-.6v-1.5v10.9v-5.7h1v-5.5v-1.7v12v-10.1h-1v2.2v7.7v-7.1h2v6.5v-4.1h-1v-1.3v13.1h1v-12.7v13.3h1v-6v-6.1v13.3h1v-2.7v1.4v-7.8v1.7h3v1v5.1h1v.7v-9.5v1.3h-1v4.1v6.4h1v.8v-19.1h1v14v4.1v-9v2.2h1v1.8v-3.8h1v-4.7v7.6h2v-4.6v6.4v-6.3h-1v4.1v-4.5h1v-1.9v8.5h2v-1v-5.9h1v6.9v-4.7h2v5.4v-4.5h-1v-.4v5.4h1v-7.2v7.4h1v-4.9v3.6h1v-3.4v5.7h1v-8.7v5.2h-1v4.7v-9.6h2v5.2v-8h1v10.1v-7.2h-1v9v-6.1h1v6.9v-7.1h2v-.9v5.7h-1v-3.4v5h2v-.8v-6.2h1v-1.4v7.3v-17v12.9h-1v6.1v-7.1h1v3.9v5v-11.7v8h1v2.3v-10.5v6.6h1v3.3v-6.3h1v1v11.8h1v-6.1v4v-15.6v15.6h-1v-.5v-7.3h1v7.9v-5h-1v-4.8v11.7h-1v-3.9v-4.2h1v5.8v-5h1v7.1v-8.2h-1v7.6v2.5v-8.5v1.5h2v-2.1v5.7h1v1.2v3.7v-10.8v4.6h2v1.8v7.1h1v-5.9v3.6h-1v1.8v-4.1h2v9.8v-4.3h-2v.8v-4.8v10.3v-8.2h1v4.8v-7.8h1v7.3v-9.9h1v3v11.2h1v-12v-5.9v12.6v-8.1h1v12.4v-12.7h1v11.3v-7.7v1.4h1v4.8v1.1v-8.7h1v1.2v5.6h-1v2.5v-10.8h1v8.7v1.5v-9v2.7h-1v9.6v2.3v-8.7v8.7h1v1.7v-16.5v3.2h1v.2v8.7v-5.9h2v-.6v7h-1v-3.3v6.2h1v2.6v-7.3h-1v5.9v4.7v-9.6v9.6h-1v1v2v-13.6v10h2v-5.1v-2.5v8.3v-6.2h1v-2.3v7.9h1v-2.6v-4.7h1v-3.1v9.9h1v-2.5v4.1h-1v-2.8v3.3h1v-1.8v8.6h1v-9.4v4.9h1v1.6v-4.7v3.5h1v.3v2.1v-6.2v6.2h1v-1.2v-3.7h1v5.7v.1v-3.7h1v1.4v2.7h-1v-5v6.1h1v-2v-1.3v3.6v-3.6h1v2.3v-2.1v5.1v-4.2h1v1.5v1.9h1v-1.7v3.8v-1.8h1v1.6v1.2v-4.4v1.6h1v4.8v2.1v-4.7v1.8h1v.6v-.3v4.8v-1.9h1v-3.9v4.6h1v-1.9v2.1h1v-1v-1.7v4.3h1v.4v-3.4h1v.1v-1.3v5.8v-3.4h1v.5v-4.4h1v2v1.4v-5h1v.2v-1v4.4v-2.6h1v-3.3v-3.1v6.2v-6.2h-1v-1.4v2.7h1v-3v-1.4v4.4v-4.4h1v-.7v3.4v-2.6h1v-1.5v3.8v-3.8h1v2.6v-3h1v.1v3.6h1v-2v-1.8h1v2v1.2v-4.6v2.8h1v-2.1h1v-1v-.2v2.4v-2.4h1v-.8v2.8h-1v-.3v-4.2h1v4.5v1.2v-5.7v1.7h1v-.3v4.5v-.9h1v1.2v-2.7h1v.8v1.6h-1v-.8v-.8v3.6v-.3h1v.2v1.2v-3v1h1v-.1v2.4v-.7h1v.9v1.7v-7.1v7.1h1v-2.4v-.6v3.4v-.8h1v.8v-2h1v2.7v1.2v-5.5v5.5h-1v-1.8v-1v3v-3h1v3.9v-4.9v.5h1v2.2v-2.7h1v2.6v-4v2.4h-1v-1.4v-1.1v3.2v-.7h1v1.1v-3.1h1v-.9v-2.1v5.1v-2.3h1v-3.1v-.6v3.7v-.9h1v-2.5v2.4h1v.5v.1v-3.3h1v3.3v-3.5h-1v1.2v-1.9h1v1.7v2.6h1v-3.3v3.6h1v-3.9v-.4v2.7v-2.7h1v.1v2.3v-.8h1v-2.2v-1.6v3.4v-3.4h1v-.9v-1.3v4.4v-.4h1v-1.6v3.1h1v-2.9v.2v-2.4v2.4h1v-2.8v-1.3v3.2v-3.2h1v-.7v-.5v3.4v-3.4h1v1v-1.5v4.1h1v-1.4v.2v-2.9v1.7h1v-1.3v-1.6v3.8v-3.8h1v-.3v1.7h1v-1v1.4v-3v1h1v.7v-1.9h1v1.5v-4.1h1v4.8v-1.7h1v1.6v-1.6h1v.4v2.5h1v-3.5v-1.6v5.1v-3.5h1v-.3v.9v-2.7v2.7h1v.7v-2.3h1v-1.9v-.3v4.4v-2.4h1v-2.8v2.9v-.8h1v-1v-1.9h1v.1v-.8v2.5v-2.5h1v-1v3.9h1v-1.1v.4v-2.9v2.9h2v-1.7v-.8v2.4v-1.1h1v-.2v-1.7v1.5h1v.8v-1.8h1v1.1v-2.2v2.2h1v-.1v.6v-2.6v2.3h1v-.7v-3.2v2.4h1v-.1v-2.1h1v-1.1v2.5h1v-1.1v1.2v-2.7v.5h1v1.2h1v-1.2v-.3v2.2v-2.2h1v1.1v-3.2h1v2.5v-2.3v2.1h1v-1.5v1.9h1v-2.5v1.6v-1.2h1v3.1v-4.1v2.6h1v-1.2v.4v-1.8v1.8h1v-.1v-2.7h1v1v-1.9v1.4h1v-.5v-2.3h1v2.2v1.3v-2.7v1.7h1v.4v-1.8h1v1.8v-3.8v3h1v-2.7v2.1h1v-2.3v1.8h1v-2.1v1.9v-.2h1v.5v-2.4h1v.1v-.8v2.4v-1.2h1v-1.7v-.8v1.8v-1.8h1v1.4v.5v-1.7v.5h1v-.9v-.5v1.9v-.4h1v.2v-2.6h1v2.5v-3.3v3h1v-.6v.3v-2v2h1v-3.3v1.6h1v-.9v-.1v1.5v-.3h1v-2.1v1.5v-.1h1v-1.1v1.6v-3.3v1.8h1v-.1v-1.4h1v.4v.2v-1.1v1.1h1v-1.9v-.4v2.6v-.5h1v-2.3v-.2v2.4v-1.2h1v-1.3v-.5v1.7v-1.7h1v.1v1.6v-1.6h1v.5v.8v-2.2v2.2h1v.1v-2.4h1v1.3v-1.8v1.7h1v.8v-2.4v1.7h1v-.4v-1h1v-.2v-1.2v2.6v-.8h1v-1.8v-1.3v2.8v-2.2h1v1.4v-1.5h1v-.2v2.6v-2.5h1v.5v-1.9h1v1.5v-2.3h1v.3v1.1v-.1h1v-1.5v-.4v2.4v-1.3h1v.1v-1.1h1v1.1v-1.7v1h1v-.6v.7v-1.7v1.7h1v-.1v-2.2v1.4h1v-1.3v1.6h1v-.8v1v-2.2v2.2h1v-1.6v-1.4v2.9v-1.5h1v-.5v-1.8h1v1.5v-1h1v.9v.1v-2h1v1.2v-1.9v1.4h1v.4v-2.2h1v.3v.9v-2.6v1.9h1v.1v-2.1h1v.4v.1v-2.1h1v1.6v-1.9h1v.2v.3v-1.3v1.3h1v-.9v1h1v-.3v-1.8h1v.4v.8v-2v.1h1v-.3v-.1v1.4h1v-.5v-1.7h1v.4v1.3h1v-1.1v-.2v1.9v-1.9h1v-.4v1.6v-1.5h1v1.2v.6v-1.8v1.8h1v-.9v.9h1v1v-2.4v1.3h1v.4v-1.8h1v-1.5v3.4h1v-1.9v1.6v-1.5h1v1.4v.1v-1v1h1v-1v1h1v1.2v-2.1v1h1v-2.5v3.1h1v-1.2v1.4v-.7h1v.7v-1.8v1.8h1v.2v-.5h1v.1v-.1v1v-1h1v-.3v1.9h1v-1v-.1v1v-1h1v.8v.2v-7.1v.7h1v-.3v-5.1" stroke="#ff6810" stroke-width="1.9" fill="none" stroke-linejoin="miter" stroke-linecap="square"/>
<path d="M712.5 477.3v-6.1h-1v-.7v13.8v-12.7h1v6.8v-8h2v13.5v-11.7h1v3v10.5h1v1.6v-11.8h-1v11.8v-8.5h-1v10.8v-10.7h1v.9v-.3v10.2v-10.2h-1v-7.2v6.3h1v-9.4v9.3h1v8.4v1v-10.4v.3h-1v-1v14.6v-11.9h1v1.6v16v-14.8h1v6.3v4.9v-15.9v15.9h1v-4.5v-14.8h-2v4.3v10.6v-3.2h1v1.3v-7.8h-1v4.2v7.7h-1v2.6v-9.5h-1v11.3v-6.6h1v10.2v-8.4h1v-5.6v13.8v-10.5h1v4.1v7.5h1v-10.5v11.3h2v-1.2v6.7v-14.6v14.6h-2v-3.1v4.8v-16.6v16.6h-1v-9.7v.6v-11.1v5.2h1v4.3v-.7v17.6v-17.6h-1v3.5v-3.6v12.4v-12.4h1v7v-8.9h3v7.2v6.2v-15.8v5.5h1v10v-9.2v8.4h1v-4v-11.5v.7h1v4.8v9.5v-6.3h1v12.2v-10.4h-1v3.5v-.1v7.8h2v-2v-7.7h1v6.5h1v-3.2v-7.4h1v2.8v5.7v-5.2h-1v-6.2v12.3h2v-3.8v8.4h-1v-9.9v4.2h1v-4.2v-2.7v6.9v-6.9h1v2.1v3.5h1v-3.7v4h1v-.3v-4.1h-1v2.3v-2.9h1v-.9v3.6h1v-.1v1.9v-5.8v5.8h1v-3.1v7.8v-4.6h1v2.9v-3.3h-1v2.4v-2.6h2v.8v-2.8v6.9v-6.9h1v2.4v2.6h1v.8v2.2v-5.9v1.5h2v6.8v-8.3v6h2v-4.8v3.5h2v-3.6v5.2h1v1.5v-4.1h1v-.9v3.9h-1v-3.9v5.1v-3.2h2v2.1v-2.9v6.2v-5.8h2v.7v-1.8v8.3v-6.3h1v4.9v-3.1h1v7.1v-4.1h2v-2.8v5.3h-1v-1v-4h1v1.5v-3.2h-1v4v-8.3h-1v7.7v-.3v7.8h1v-8v2.7h1v2.1v-3.3h2v4.2v-3.5h-1v3.1v-6.8v5.9h-2v-8.2v3.2h1v-.3v2.2v-6.2v1.8h2v6.8v-4.9h1v.5v3.3h1v-1.5v5.4h-1v-3.8v2.6h2v-3.1v2.7h-1v-.3v-4.2h1v1.8v3.6h2v-2.5v-5.9h-2v6.7v-3.5h1v-.4v4.4h2v-.5v-4.5h1v4.9v3.2v-7.7v3.3h1v-.7v5.5h1v-3.2v3.6h1v-3.6v-.2v8.2v-6.5h2v2.3v-3.8h2v6.4v-5.9h1v5.4v3.5v-8.6v2.3h1v-1.2v4.8h1v1.6v-4.1h1v-2.8v3.6h1v2.3v-3.4h1v-1.3v6.3h2v-2.2v1.9v-7.5v2.9h1v.4v-1.3v4.9v-4.9h2v4.9v-4.4h1v3.8v-5.7v5.2h1v4.2v-4.4h1v2.4v1.1v-5.5v2.9h2v-1.3v6.9v-2.3h1v-3.9v-2.1v5.5v-1h-1v1.9v-6h1v3.5v-4.7h2v3.7v-4.1h1v3.7h1v-1.8v-3.2h1v2.1v.9v-8.1v8.1h-1v1v-4.5h1v5.3v-3h1v1.9v3.1h2v-.5v-6.3v4.4h1v-.5v3.3h2v.4v-7.3v4.9h1v-.8v-6.2h1v5.6v2.6v-5.3v1.3h1v3.7v-4.6h2v1v4.1h1v-.6v-3.8v.9h1v4.5v2.6v-6.5v5.1h-1v-1v-5.5v4.5h1v-3.2v-.1v4.2v-4.2h-1v4.7v-5.8h1v2.3v-.9v7.6v-4.7h1v3.5v.8v-4.1v4.1h1v1.7v-3.2h1v-2.9v-.2v5.5v-.5h1v-3.5v5.8h1v-.4v-3.7h1v-6.2v7h2v-1.8v-.2v5.1v-1.4h1v-3.9v-1v4.4v-4.4h1v-1.5v5.7h1v-4.5v4.5v-2.7h1v3.7v-5.1v.2h1v5.6v-5.3h1v3.6v-6.3v1.1h1v5.9v2.5v-6.6v6h1v-1.4v-3.3h2v1.2v5.1v-1.9h2v-.1v-3.3h1v3v-5.6h1v5.3v-4.2v3.8h1v.8v-3.1h1v.6v-.4v4h1v-3.9v2.7h1v-3.4v3v-2.3h1v1.8v-1.4h1v1.6v-1.4h1v1.3v.8v-2.3v2.3h1v-3.3v-1v2.9v-1.1h1v-1.4v1.8h1v.2v-2.8h1v1v-.6v2.7v-2.7h1v1.8v.5v-2.6v2.6h1v-2.6v-.2v1.9v-1.9h1v-.2v-1v2.6v-2.1h1v2.1v-3.4v2.2h1v.1v-2.5h1v.1v-.9v2.5v-1.1h1v.3v-2v.2h1v.4v1.4h1v-1.5v-.3v1.6h1v-.5v-2.3v1.6h1v-2.2v3h1v-3.4v3.5v-1.8h1v-.9v1.7h1v-1.5v2.3h1v-2.6v2v-1.8h1v-.4v-.9v2.7v-.8h1v-3.7v2.7v-1.4h1v1.5v-4.2h1v2.5v-1.3v3.2v-3.2h1v-.9v2.8v-1.8h1v.2v-3.2h1v.8v-2.1v5.6v-5.6h1v1.4v1.8h1v-2.3v-.7v2.1v-.5h1v-.2v-1.4h1v2.2v-2.5v2.1h1v1.1v-3.4h1v.7v-.6v2v-2h1v-.3v2.8v-2h1v.8v.8v-4v4h1v-1.7v-2.3h1v1v-1.6v1.4h1v-1.7v-.3v2.6v-.8h1v-2v2.3h1v-2.5v-1.2v2.8v-2.8h1v1.7v-2.2v1.5h1v.1v1.1v-2.9v2.9h1v-2.9v-1v2.8v-2.8h1v1.4v.7v-3.7v1.3h1v1.5v.8v-3.3v1.6h1v-.8v-3.9v2.2h2v1v-3.3h1v.2v-.1v1.3v-1.3h1v.3v1.8h1v-.9v-2.8h1v1.9v-2.5v.2h1v.7v-1.9v1.9h1v-.5v.7v-2.6v1.6h1v2.2v-3.6v2.6h1v-1v2.6v-.9h1v-.3v-1.6h1v2.2v-2.7h1v2.6v.1v-2.3v2.3h1v-.4v-1.8v4v-2.6h1v1.4v1.3v-2.9v2.9h1v-1.2v2.1h1v-2.5v2.4v-1.9h1v2.1v-3.5v1.3h1v2v-2.1v2h1v-.6v-1.4h1v1.8v-1.8v.4h1v2v-2v1.4h1v.8v-2.2h1v2.9v-2.5v.3h1v.8v-1.2h1v2.2v.1v-2.3v2.3h1v.9v.5v-2.3h1v1v-1.6h1v1.3v-1.5h1v-.1v-.7v2.6v-2.5h1v1.2v.3v-1.3v1.3h1v.6v.4v-2.4h1v-.7v2.1v-1.5h1v1.5v-1.4h1v1v.1v-2.5h1v1.2v1.4v-1.3h1v-.1v-.4v1.9v-.7h1v.9v-2h1v-.7v2.3v-2.2h1v2.2v-2.1h1v1.9v.8v-2.5v2.5h1v-1v-1.5h1v-.6v-.5v3v-3h1v1.5v2.1v-.9h1v-1.4v-.5v3.1h1v-3v1.7h1v-3.2v3.2v-.6h1v-.2v-3.4h1v1.5v.8v-3.8v.1h-1v-.9v1.8h1v-2v2.2v-7.1h1v-1.1v1.6v-4.7h1v-1.1v2.2v-1.6h1v-.6v.9h1v.9v-2.5v2.1h1v-.6v-2.1h1v.4v2.5v-1.1h1v-1.1v-.3v2.2v-2.2h1v2.3v-1.9h1v1.7v-2.1v1.7h1v-1.2v1.1h1v-1.9v1.8v-1.5h1v1.7v1.4v-3.1v3.1h1v-1.9v.1v-1.9v1.9h1v-1.9v1.5v-1.3h1v1.3v.6v-2.5v2.5h1v-.4v1.2h1v-1v-.4v1.6v-1.6h1v.4v-1.3h1v1v.7v-2.1v2.1h1v-2.1v-.9v2.7v-.7h1v-1.9v1.9h1v-2.5v2h1v.2v-1.2h-1v-.5v2h1v-1.2v.3v-1.7v1.7h1v-2.4v1.8h1v-2v1.2h1v-.1v-2h1v-.2v-.4v2.1v-.2h1v-1.7v1.1v-2.5h1v.8v1.9h1v-1.3v2.2v-1h1v-1.2v-1.5v4.1v-2.3h1v-1.6v1.2v-6.7v1.5h1v-1.3v1.4h1v-.2v-1.3v3.1v-3.1h1v.8v2.5h1v-1v-2v4v-1.6" stroke="#25776a" stroke-width="1.9" fill="none" stroke-linejoin="miter" stroke-linecap="square"/>
<path d="M685.5 495.7v-14.1h-1v18.4v-12.3v11.2h2v-3.9v8.1h1v4.4v-10h-2v-.3v6.9h-1v-6.7v7.1h-1v-2.1v-9.1h-1v5.7v-4.9h1v-1.3v-3.6v11.8v-11.8h2v1.4v15v-8.1h1v10v-14.9v11.7h1v.9v-10.6h1v7.3v-6.2h1v1.9v-.1v10.9h-1v-3v-6.2h2v-2.3v5.4h2v-4.7v6.5h2v1v1.4v-8v8h2v-3.5v-5.7h-1v2.1v7.2h3v-7.1v9h2v-5.1v4.4h-3v5.2v.7v-13.3h1v-5.2v13.9h1v1.8v-6.1h-1v-2.3v8.9h-1v.2v-6.2v6h1v-2.4v5.9h-1v6.4v-9.2h1v8.7v-8.8h2v.2v10h-1v-17.3v13.5h-2v-4.7v-3.4v11.9v-4h2v-8.7v-.2v8.7v-8.7h1v7.6v1.3v-6.4v.7h-1v3.5v7h-1v-.8v3v-9.8h-1v10.3v-7.8v1.3h-1v10.2v-12.6h1v3.5v5.4h1v4.2v-12.1h1v.2v7.4h1v1.8v1.7v-11.8v10.3h1v-7.5v4.2h1v-9v9.9h1v1.4v-9.1h1v9.3v-7.2h1v8v-5.4h2v-2.3v8v-7h-2v10.9v-6.6h2v.8v-4.7v14.6v-4.8h2v-3.9v8.5h-1v-2.7v1.6v-7.8h1v9.2v-11.6v11.6h-2v-.6v-10.9h1v-8.1v19.1h1v-4.4v-5.8h1v-2.4v12.6h3v-1.9v-5.8h-1v-.9v5.5h-1v-6.4v15.6v-8.3h2v3.3v-4.3h-1v7.2v-6.7h1v8.4v-6.5h2v-.4v5.1h1v3.8v-8.5h-1v-5.3v6.3h1v-8v7h-1v2.2v-4.9h1v6.5v-6.2h1v17.6v-14.1h1v.6v5.9h-1v-3.8v-4.7v10.1v-10.1h1v12.1v-6.8h1v.9v9.5h-3v-.4v-5.6h2v2.9v-6h-1v-.3v6.6h1v-2.9v-8.5h-2v9.3v4.8v-10.3v10.3h-1v3.5v-11.9h1v8v3.5v-12.5v12.5h1v-4.8v6.2h-3v-7.6v7.6h1v3.5v-9.1h2v8.7v-9.8v2.7h-1v.6v11h1v-.6v-6.9h1v4.7v-5.9h1v3.5v2.3v-10.2v10.2h1v4.5v-11h-2v7.3v-4.4h1v-1.2v8.5h-1v-1.3v-6.9h-1v10.6v-7.7h1v3.4v-4.6h2v-2.8v7h1v2v-6.4h2v6.5v4.6v-11.1v.7h1v9.1v4.7v-13.5v13.5h-1v-3.8v5.7h-1v-1.8v-8.2h1v2.6v5.5h1v-3.3v-1.6v7.3v-1.6h-1v-6.1v6.3h1v-1.2v3.9v-13.3v.5h-2v2.8v-9.5h-1v9.6v-9.9h-1v6v12.2h1v-10.8v9.6h1v1.1v-8.4h-2v14.5v-17.1h1v2.5v12.7h-1v-10.7v-8.1h-1v11.8v-7.9h1v7.4v-5.9h2v8.8h2v2.6v-7.9h2v-1.6v8.2v-.3h1v2.8v-9.2h1v9.7v-5.9h1v2.5v-7.8h-2v2.6v9.8h1v-9.5v-2.1v8.9v-8.9h-1v12.7v-7.5h3v8.7v-6.4h2v-2.9v14.1h-1v-2.3v-5.5h2v.8v7.4h2v-5.1v-7.3h2v-.3v-6.5h-1v-2.2v14.2v-11.9h-1v3.8v6.8h1v-1.2v-15h-1v17.2v-11.3v10.9h2v-9.3v10.3h-1v-11.6v15.8v-14h2v7.6v-8.6h3v8.3v7.1v-14.6v1.7h-2v1.2v-6.6v20.7v-13.3h1v.4v-5.3h-2v-1.8v9.2v-7.4h1v1.9v5.2h1v-7.9v7.7v-.5h-2v-5.3v14.4h1v-10.6v.8v-7.8h-1v-.4v-1v9.5v-.8h-3v-11.1v5.6h1v-8.9v14.1h-1v-3.3v-7.5h1v9v-7.8h3v-3v-3.1v10.1v-1.8h-1v-5.7v6h1v3.1v-5.7h1v2.3v-13.4h1v6.3v-1.5v9.8v-9.8h-1v7.5v-13.9h-1v5.6h-1v5.5v-7.7v5.3h-2v-8.3v-.6v10.1v-1.6h-2v-1.5v-11.6h-3v-.4v11.7v-2.2h1v-6.6v5.5h1v-.5v-11.7h-1v4.7v8.4h1v-8.3v7.8h2v-6.7v4.9v-4.9h2v3.7v-13.1v10.3h-1v-9.6v-.7v8.6v-.6h1v2.4v-10.5h1v7.3v-4.8h2v-2.2v6.7h-2v-3.4v6.9h-2v-8.3v-3.4v12.7h-3v-5.6v-11.1v7.1h1v-5.8v8.6h2v-9.4v6.1h-1v-4.5v7.6h1v9.6v-17.3v4.8h-1v.9v-7.4h-1v4.6v-7.2h-1v-.9v8h1v-11.6v10.1h1v3.6v-6.9h-1v7v-6.8h2v4v2.5v-13.3v13.3h-1v4.1v-8.5h-3v3.9v-8.6h-1v6.4v-10.3h-1v3.1v8.6h1v-5.2v-5.9h-1v9.2v-7.5h-1v2.7v-5v12.3v-3.2h-1v-2.6v5.3h1v4.5v-15.5h1v-.8v9.6h1v2.2v-7.5h-1v9.9v-5.6h2v10.3v-11.5h1v6.6v-4.4h1v-3.7v6.6h1v-10.1v16.9h1v-5.2v-4.3h2v-5.1v13v-7.2h1v2.4v6.7h-1v-7.7v15.1v-8.8h-1v-2.8v-2.3v9.6v-9.6h1v6.1v-4.5h1v6v-4.4h-1v-1.8v8.6h1v-11.3v7.7h1v-3.8v9.6h-1v-1.2v-8.8h1v2.7v8.1h-1v-1v-10.4h-2v5.7v5.3h1v-.6v1.6v-14.7v14.7h-2v-5.8v5.9h2v3.3v-9.7h2v6.7v-7.1h-1v5.3v-6.5v14.3v-11.3h-2v14.2v-8.9v18.6v-14.3h1v-.5v5.5h-1v-1v-11.4h1v2.5v8.4h1v-1.9v.3v-7.4v7.4h3v-5.4v-.2v17.2v-3.8h-1v-2.4v-7.4h3v2.1v6.1h-1v-1.3v7.7v-16v7.8h-2v-4.8v-1.4v8.3v-2.8h1v-4.3v4.7h-1v5.8v-12.3h1v8.9v-7.8h1v1.2v9.3h1v-5.8v12h1v-3.3v-6h1v6.4v-8h1v8.5v-9.2h1v12.6v-16.1h-1v7.3v7.2h1v-1.3v-5.3h2v4.3v-5.6h1v7.3v-7.6h-2v-2.1v5.3h1v.3v-7.7h2v12.6v-13.3h-2v5v-7.7h2v7.5v-14.3v14.1h1v-9.5v8.3h-1v-3.9v8v-7.1h-2v-2.1v14.4h-2v-11.5v2.6v-7v7h1v1.2v-8.6h1v8v-9v7.9h4v-4.1v-7.2h-1v6.2v-11.5v8.2h-1v-7.5v6.9h-1v3v-9h1v3.6v-5.3v12.9h1v1.4v-8.8h1v5.9v-9.8h1v11.6v-12.4h2v6.2v5.2h1v.9v-6.5h3v3.6v-5.7h-1v-.8v-4.9v11.6v-11.6h-1v8.7v-5.9h-1v5.6v-7.9h1v10.7v-6.9h-1v3.8v-5.3h-1v4.4v1.8v-12.9v.3h-2v-3.7v4.8h2v-2.5v4.6h1v-7.5v13.9v-13.5h1v.4v-1.7v6.7h-2v1.2v-8.4h-1v2.7v8.8h-1v-5.9v-6v4.9h1v.9v-7.9h1v9.5v-6.7h1v6.6v-7h-2v10v-9.8v7.4h-2v6v-9.8h-1v3.4v-7.3h1v-2.7v5.8h1v-7.9v6.8h1v-3.4v-5.5h2v.8v6h1v-4.1v4.3h-2v-5.4v-4.1v17.3h-1v-20.6v14.2h2v-3.4v-4.4h-2v7.9v-11h1v.2v6.1h2v.8v.3v-9.8v9.8h-1v-2.8v-4.4h-1v4.3v-7.9v6.4h-1v3.4v-6.6h-2v-4.8v7.1h2v-6v6.7h-1v-8.8v11.9v-9.2h1v-4.9v8h-1v-7.7v-3v10.2v-10.1h1v6.7v-7.6h1v1.4v6.2h2v-6v-3.3v7.6v-1.4h1v-.1v3.2v-17v7.2h1v-.8v6.2h1v4.6v-11.6h-1v12.5v-12.5h2v3.5v10.9h2v-9.6v7.4h2v-8.2v7.6h-1v-3.9v6.8h2v-7.6v8.4h1v-12v11.8v-9.2h1v1.4v10h2v-4.5v-8.8h1v8v-7v4.4h1v-4.6v11.5h1v-8.1v-12h2v15.6v.1v-7.3v6.7h1v2.6v-7.5h-2v8.2v-9.1h1v6.7v-8.7h2v-5.1v-4.7v11.9v-.8h-1v-3.8v13.5h-1v-3.9v-6.8h1v7.3v-7.2h-1v1.2v5v-11.8v11.6h1v-4.3v-9.7h-2v-.6v7.5h1v-7.1v11.1h-1v-5.4v5.7h1v-8.5v7.7h2v-16.4v16.2h1v-10.3v15.6h-1v-6.2v-5.9h1v-2.5v-3.6v11.1h2v.2v-7.2h1v8v-8.2h1v1.7v5.4h-1v-5.8v5.9h1v2.7v-7.4h1v9.8v-8.8h1v-1.2v7.7h1v3.2v3.5v-10.2v10.2h-1v-1.7v-9.7h1v12v1.1v-10.6v10.6h1v-7.7v8.2h-1v-1.4v-11.1h1v17.5v-15v8.7h2v-2.6v7v-14.2h1v3.2v7.1h2v-2.6v4.6v-19.4v14.8h2v-5.8v8.2v-5.2h1v3.7v-5.1h-1v.2v7.7h1v-.9v-5.8h1v-1.8v10.7h2v-10.2v12.5h-2v-5.3v-4.9h-1v1.9v6h1v1.4v-10.2h2v11.1v.9v-11.2v11.2h2v5v-10.2h-1v-6.6v9.4h3v.4v-9.4h1v11.2v3.4v-12.3v4.9h1v6.4v1.7v-7.5v7.5h-2v-8.5v8v-1h1v2.3v-10.6v6.3h1v4.2v-8.6h2v11v-12.8h2v8.6v-9.2h1v-.8v8v-7.4h1v3.7v-5.6h1v6.4v-5.1h2v5.4v-4.3h-1v-1.7v3.2h-2v-2.1v-.3v5.9v-5.9h1v5.4v-5.9h2v4.4v-3.3h2v3.8v-6.6h1v-1.2v6.6h-1v-7.3v3.6h1v2.9v-6.9h1v-1.7v4.4h-1v2.6v-4.7h1v-.4v2.9h1v-2.4v4h2v-2.4v-3.2h-1v1.8v2.6v-6.2v1.9h-2v3.2v-5.4h2v.8v-1.3v8.8v-4.9h1v.7v-3h-1v2.1v-4.5h1v.4v-2.8v5.8v-5.8h1v6.2v-3.5h1v-.4v4.4h1v-3.7v-.8v4h1v-.9v-3.7v2.9h-1v.7v-3.5h1v-2.4v3.9h1v-2.1v2.6h1v.1v-2.5h1v4.5v-3.1h1v-1.4v2.4h1v-3.7v2.4h1v-2v-1.4v3.2v-3.2h1v-1.4v4.5h1v-.7v-2.7h1v.5v-.5v2.7v-.8h1v.2v.7v-2.7v2.7h1v-1v-1.5h1v.7v-.8v2.6v-1h1v-.2v-2.8v2.6h1v-1.4v-.8v4.3v-2.6h1v-1.2v1.7h1v.5v-2.2h1v-.4v-1.4v3v-3h1v.4v-1.8h1v1.4v1.4v-3h1v.1v2.1h1v-2.1v1.3h1v.6v-3.4v1.3h1v1v.5v-1.9h1v.7v-1.4h1v-.5v1.5v-3.8v1.9h1v-1.3v-.3v2v-.9h1v-.3v-2.8h1v.5v1v-3.9v1.5h1v-1.2h1v.9v-3h1v3.1v-3.3h1v-.8v1.1v-5.1v3.5h1v-1.1v-1v2.1v-1.8h1v1v1.3h1v-.6v3.4v-1.1h1v.7v3.1v-.8h1v.8v.8v-1.9v1.9h-1v-1.1v2.5v-1.5h1v1v.2v-1.6v.4h1v1.9v-1.6v.2h1v.3v1.6h1v-.9v-1.1h1v1.3v-1.8v3.7h1v.2v-1.4v.1h1v.7v1h1v-1.2v1.1h2v.3v.7v-2.1v1.1h1v-.8v-1.1v2.6v-.2h1v-1.6v2.6h1v1.1v-3.1v1.4h1v1.8v-1.5h1v1v-1.2h1v.9v-1.4h1v.4v1.9v-1.9h1v1.8v-3.8h1v2v-1.8h1v1.4v.5v-1.6v1.6h1v-.7v-.1v1.7v-1.7h1v1.6v-2.3h1v.8v.9v-1.9h1v.2v-.7v2.5v-2.5h1v2.6v-2.7h1v-.2v1.6h1v-.2v.2v-2.5v1.6h1v-.3v-1.3h1v2.4v-1.6h1v-.5v1.7h1v-.1v.4v-1.8v1.8h1v-2v2.1h1v-1.1v1.6h1v-3.4v3.2" stroke="#0b84ee" stroke-width="1.9" fill="none" stroke-linejoin="miter" stroke-linecap="square"/>
<path d="M640.5 333.3v6.3h1v1.6v-7.1h1v.7v5.3h1v.9v2.8v-12.1v12.1h-1v-1.2v5v-11.1v11.1h1v-9.1v6.1h-1v1.3v-8.8h-1v7.4v3.2v-7.7v7.7h1v-6v5.4h1v.2v-4.1h-2v.5v5.3h1v.7v.5v-8h2v1.2v4.4h-1v2.5v-5.5h1v7.3v-4.9h-1v.9v-1v14.3h1v-4.8v1.7v-8.1v2.3h1v1.3v6.8h-1v-4.4v6.2h-1v-3v-5.8h1v2.1v6.8v-.3h-1v-13.6v12.2h-1v-4.4v-4.2v9.3v-.6h1v-3.1v14.3h1v-16.2v7.8h1v-7.5v4.6h1v5.6v5.1v-17.1v9h2v9.6v-6.8h-1v-5.1v11.1v-10.3h-1v.2v11v-4.9h1v-2.2v7.3h-1v-12.9v17.2v-10.9h-1v1.1v5.6h-1v-5.8v9.3v-6.3h1v-3.8v7.4h1v-1.3v-4.6h-1v2.4v1.3v-8.1v.1h1v6.4v-5.1h1v-1.4v9.3v-7.6h1v-1.4v7.4h1v-2.8v-7.6h-1v5.7v-5.4h1v2v-.9v6.6v-1.4h1v-7.9v6h-1v-3.5v5.2h3v-8.1v8.2v-19.6v9.3h1v1.2v-4.2h-1v-.5v5h1v-6.2v-5.9v13.8v-13.8h2v2.2v-.4v10.6v-8.5h1v6.6v-6.9h1v8.1v-5.8h1v.2v4.5h-1v-12.1v10.2v-8.2h-1v4.2v-5h-1v3.3v7.4v-.1h-1v-7.6v-3.7v8.4v-8.4h1v-1.9v-1.8v9.2v-1.2h1v7.3v-12.4h2v2.5v7.9h-1v-7v6.9h1v-1.1v-6.9h1v4.2v5.2h-1v-4.6v5h2v-3.7v8h1v-3.7v2.8v-8.1h-1v9.8v-8.5h2v7.2v1.3v-6.5v6.5h-1v-6.9v6.8h-2v-.8v-6.2h1v4.3v4.1h1v-4.7v7.9h-1v1v-6.2h1v-.1v5.8h1v1.5v-8.1h-1v-1.6v8.7v-6h-2v.7v8.5v-1.8h2v-.7v2.7v-7.6v.2h-1v1v-2.3v10.3v-2.2h-1v-.5v-5.4h2v5.7v-5.3h-2v.1v6.4h1v-4v7.7v-15.7h2v6.9v-3.8v16.6v-4.5h1v3.2v-2.9v9v-2.5h-1v-3.7v-4.7h2v-2.1v7.3v-5.2h-1v-4.3v16.1v-.8h1v1v-6.9h1v9.4v-13.1v6.3h1v-5.5v-.4v6.2v-6.2h2v9v-7.2h-1v-6.9v14.5h-1v.8v-7.3v6.5h-1v.3v-5.2h-1v2.9v13.2h1v-13.2v-4.4v17.3v-7.3h-1v6.5v-6.9h-1v-1.3v-2.7v9h1v-9.5v7.8h1v2.2v5.3v-11.4h1v12.5v-9.3v2.4h1v6.7v-7v6h1v-5.6v-1.2v6.8h-1v-7v4.6h1v-12v13.3h-1v-4.5v-.8v7.4v-1.2h1v.4v-8.6h1v2.4v2.2v-9.7v8.7h1v9v-13.1v5.2h-1v-4.6v8.6h1v-7v-.3v4.5v-4.5h1v-2v7.6h-1v-7.3v8.4h1v2.9v-5.9h1v6.6v2.7v-7.2v7.2h2v-.7v-4.1h2v6.9v-7.7h2v4.8v5.9v-5.8h-1v7.1v-8.7v6.1h-1v-5.4v-2.5v8v-1.7h1v1.7v2.8v-9.4v.9h1v-1.3v5.7v-.5h-1v-.3v1.8v-8.7v8.7h1v1.2v-4.8h1v5.8v-4.8v13.8h-1v-11.8v7.6h1v2.2v-4h-1v-1v4.5h1v-9.8v5.9h1v3.6v-7.5h-1v.6v4.5h1v-1.8v-5.1h1v2.3v5.6h2v-1.4v-4.1v9.8v-7.3h1v.6v13.2h1v-8.5v-5.8h1v2.5v5h2v1v1.5v-8.5v3.2h1v-2.1v8.9v-8.8h1v9.1v-6.5h-1v6v.7v-6.7v1.2h1v6.6v6.3v-13.9v5h1v-.2v-3.3v9.6v-2.4h1v-.2v-9.7h1v3.1v12.7h1v-.7v-7.8h-1v6.7v.9v-6.9h1v5v5.5h-1v-5.7v8.6h1v-2.9v2.4v-8.9v3.5h-1v6.3v-8.1h1v7.8v.9v-7.2h1v6.3v3.1v-11v11h-1v-1.7v-13.1h1v7.6v9v-6.6h-1v7.8v-7.6h1v6.9v-10.5h1v2.6v-1.2v11.3v-11.3h1v6.1v7.2v-18v10h1v-2v10.1h1v-1.9v-4.6h1v4.4v-7v15.6v-10.5h1v-1.3v7.8v-5h2v-1.9v6.6h1v-.2v2.3v-12.7v8.9h1v2.5v3.7v-12.9v12.9h-1v-5.8v-1.4v8.6v-1h2v-5v-1.9v10.8h1v-6.4v7.4h1v-6.9v-2.4v7.1v-2.6h1v-4.1v4h1v-2.1v4.9h2v-9.9v10.2h1v-9.4v9.5h-1v-4.6v-4.7h1v3.7v-8.2h1v6v4.5h1v-4.2v7.8h-1v-2.6v-5.7v1h1v-.1v6.4h-1v-.9v5.5v-13.5v8.4h1v6.9v-8.1h-1v13.4v-10.5h-1v-2.3v7.7h1v-3.7v6.9h1v-.7v-4.7v.3h-1v-7.2v7.8h-1v1.2v-4.7v9.8v-8.7h1v2.8v-3.9v18.6v-6.7h1v1.2v-8v6.6h1v-6.9v10.2v-8.1h1v3.8v-5.7h1v-.8v9.9h2v-6.8v7.2h1v1.4v-8.1v1.6h2v-1.1v6.9h1v2.2v-6h1v6.4v-7.5h-1v4.6v.8v-5.4v4.9h1v2.4v-5.7h1v1.9v6.4h1v-1.9v6.6v-15.8h1v11.5v3.2v-11.7v11.7h1v-8.8v-2.3v10.2v-3.6h2v3.7v-13h-1v13.2v-5.6v5h1v-7.5v10.5v-6.4h1v.1v-4.2v13.1v-12h1v2.7v-5v16.7v-5.3h1v2.2v.4v-15.2h-1v6.7v10.2v-8.1h1v7.5v-5.5h3v7v-8.3h1v-.3v6.3h-1v-2.1v2.7v-9.7v9.7h1v-1.6v-4.5h1v1v6.8v-4.5h1v1.8v4.9v-11.4v11.4h1v-13.8v12.8v-1.3h2v2.5v-8.9h-1v1.9v6.6h1v-9.4v13.7h1v-14.9v4.6h-1v-6.3v-.7v14.4v-3.9h1v1v-2.5v12.9v-12.9h1v1.3v-3.9v8.3v-8.3h1v-.8v9h1v-1.5v3.1v-10.7h1v13.1v4.3v-14.3v8.3h-1v-1.2v12.5h1v-13v5.8h-1v4.1v-10.8h2v6.5v-6.6h1v-.3v6.6h1v-2.5v6.6h1v-6.5v-2v7.1v-7.1h-1v4v3.7v-8.6v8.6h1v.9v-5.6h-1v1.6v4h-1v-3.6v4h1v-4.1v-1.6v8.6v-8.6h1v5.8v-6.6h2v5.9v.1v-7.1v7.1h2v.8v-6.4h2v6v-4.6h1v-2.4v6.5h-1v-4.6v3.5h-1v4.4v1.5v-8.8v8.8h1v-9.2v8.2h-1v-1.3v-4.6h1v4.2v.3v-5.2v2.5h1v3.4v-3.6h1v7.4v-9.2v6.3h1v.7v-6.5h1v5.9v-3.7h1v-1.2v-.4v4.7h2v-5v5.3h1v2.2v-5.8h1v-1.9v-.9v7v-6.4h1v3.3v.5v-5.3v5.3h1v.2v-5h2v.8v5.9h-1v-5.9v3.6v-.4h1v-1.4v-3.7h1v2.9v1.3v-4.1v.1h1v5.8v-4.6h1v-5.1v11v-8h1v2.7v-4.1v2.9h1v2.7v-5.6v3.2h1v-2.1v4.3v-2.8h1v1.3v-3.1h1v2.8v-2.8h1v-2.7v5.3h1v-1.9v-.6v6v-6h1v2.5v-4.1h2v1.8v4.6h1v-4.2v2.9h1v-3.4v7.3h2v-3.4v-3.7h1v5.9v-5.4h1v2.2v-4.1h1v4.4v-3h1v1.2v-2.8h1v-.1v-.2v5.2v-3.8h1v3.9v.9v-4.3v3.8h1v-4.5v4.5h1v-5.4v-.3v3.7v-3.7h1v.2v6.4h1v-1.8v-2.8h-1v3v-3.5h1v5.8v-4.5h2v-1.2v6v-2.5h1v1.4v-5v.5h1v2.5v-3.9h2v4.2v1.4v-5.6v4.1h1v-3.7v3.9h2v-3.9v2.4h1v-1v-1.1v3.5v-3.5h1v1.3v-5.7h1v6.5v-3.8h1v4.9v-2.5h-1v3.8v-3.1v3h1v-.2v.9v-4.9v1.5h1v3.1v-3.6v3.5h1v-3.1v-1.5v3.8v-1.1h1v-1.4v-2.6v7.4v-7.1h1v2.3v-2.1h1v3.5v-7.2h1v3.8v3.8h1v-3.3v2.8h1v-1.3v1.6v-6.7v6.7h1v-.6v-4.8v4.2h1v-1.4v.8v-3.3v3.3h1v-.3v-1.6h1v1.7v-3.1v2.3h1v-.4v.1v-2.8v.6h1v1.6v-2h1v-.4v1.5h1v-.8v.1v-4.1v4h1v-2.4v-1.4v3.4v-3.4h2v.5v-1.2v3.5v-1.5h1v.3v.1v-6.2h1v2.3v-3.1v1.7h1v-2.2v-1.7v3.9v-1.5h-1v-2.9v-1.2v2.8v-.9h1v-.2v-1.4h-1v2v.2v-1.1v1.1h1v-.2v.4v-1.7v.6h-1v1v2.8v-.5h1v6.9v-1.5h1v.5v3.8v-3.1h1v-.1v-.6v2v-2h1v.5v2h1v-.1v.8v-2v2h1v-3.5v1.9h1v.6v-1.2h1v.2v1.7v-1.1h1v1v-1.4v1.4h1v-.4v-1.2h1v1.7v.6v-2v.7h1v1.7v-1.9v1.4h1v.4v-1.2h1v.9v.7v-3.5v2.2h1v1v.6v-2.1v2.1h1v-2.5v2.5v-1.6h1v-.7v2.4v-1.2h1v.5v.4v-1.4v.3h1v.3v1.6h1v-1.9v-.6v2.1v-2.1h1v.5v.1v-1.8v1.8h1v-2.2v2.9v-.4h1v-1.9v3.1v-2.2h1v-.8v1.4v-1.2h1v2.8v-2.3h1v1.5v.1v-2v2h1v-2v1.9h1v-.4v-1.2h1v1.1v-1.3h1v-1v2.6v-1.5h1v1.8v-1.7h1v-1v-.9v3.2v-3.2h-1v2.5v-2h1v.7v-3.2v.8h1v1.5v-3.4v2.3h1v-1.8v-.2v2.4v-2.4h1v1.3v.5v-2.4v2.4h1v.9v-2.7h1v1.7h1v-3.2v2.5v-.5h1v-1.5v1.8v-3.6h1v-.3v1.9v-1.7h1v1.7v-1h1v1.4v-1.6h1v1v-.7v3.1h1v-1.7v1v-2.2v.5h1v1.4v-1.4v.5h1v-.6v1.1h1v-1.7v-1.2v2.9v-2.9h1v-.7v-1.5v3.5v-1.9h1v-1.6h1v-.8v2.2v-2.2h1v.8v-1.4v1.4h1v-1v-3.4v1.8h1v-1v1.9h1v-1.9v2.9h1v-3.4v2.4h1v-2v1.6v-1.4h1v1.1v.4v-1.6v.5h1v1.6v.3v-1.8v.4h1v2.5v-2.3h1v1.7v-1.1h1v.5v-.2v2.5v-2.5h1v2.3v-1.8h1v-.4v2.3v-.2h1v-1.5v2.6h1v-2.1v3.1h1v-2.3v2.5v-.5h1v-.8v1.8h1v-1.2v1.9v-1.3h1v3.9v-4.2v2h1v-1.2v-.1v1.9v-1.2h1v1.1v-1h1v.4v1.7v-.1h1v-1.2v1.7h1v-1.3v1.9v-.6h1v-.8v-1v2.5v-1.8h1v1.3v-3h1v1.9v-3v2.1h1v-.7v.3v-2.9h1v1.5v-1.5h1v1.2v-1.2h1v.7v1.7h1v-2.8v-.3v2.3v-2.3h1v2.8v-4.7v3.5h1v.1v-2h1v.7v-.2v1.5v-1.5h1v1.2v-1.3h1v1.8v-2.1" stroke="#8ab810" stroke-width="1.9" fill="none" stroke-linejoin="miter" stroke-linecap="square"/>
<path d="M727.5 489.7v9v-27.3v21h-1v-6v11.4h2v-12.4v9.4h1v-8.9v10.5h-1v.8v-9.7h-1v10.5v-9.5h1v4.7v16.8h1v-4.8v1.2v-10.2v4.1h-1v-4.7v9.4h1v-1.2v-16.2v12.4h1v4.3v-8.7h-1v-4.9v18.4h1v-13.6v10.9h1v-6v-7.5h1v1.7v-.3v10.9h-1v2.3v.5v-7.1v.8h1v1.6v16.2v-12.2h-1v-4.4v9.6v-2.9h-1v-7v-.7v12.2v-4.6h-1v3.6v-6.5h-1v3.6v-3.5v11.2v-11.2h-2v5.6v-16h-1v8.7v9.5v-22.8v22.8h1v-9.4v15.6h-1v.8v-14.1v11h-1v1.2v3.8v-18.2v18.2h-2v-4.6v-10.3h1v14.3v-14.4h1v7.7v9.5h-1v-12.4v13.2h-2v-11.9v12.6h-1v-14v5.6v-13.6v12.9h2v-11.5v14.1h-1v-16.1v9.8h-1v6.6v-12v4.2h-1v10.6v-9.6h-1v8.5v-8.6h1v-10.6v21.8v-7.7h1v1.4v9.7h-1v-1v1.4v-13v2.5h-1v2.7v10h1v.8v4.3v-15.3v3h-1v3.3v12.4h1v-14.3v9.6h2v-5.9v6.2h1v-12.6v-1.3v12.6v-12.6h-2v4.9v7.1h-1v-9.1v9.2h1v-8.1v9.2v-7.3h1v-2.4v9.2h-1v-6.7v9.7v-8.5h2v-1.8v-3.2v20.9v-16.2h-1v6.9v3.5v-10.7v2.9h1v10.6v-13.6v4.9h1v-.7v8.9h1v1.5v-12.5h3v8v-5.3h2v-.1v5.3h1v-5.1v23.1v-14.4h1v-2v10.3v-9.1h2v-1.5v-.6v13.8v-13.8h-2v2.6v18.7v-17.3h-1v15.4v-16.6h2v7.2v1.6v-15.6h-1v3.8v12.5h1v-20.9v12.9v-.5h1v-7.3v8.7h-2v-4.6v-8.2h-1v8.5v-11.1v9.2h1v-5.8v6.8v-14.4v14.4h-1v-11.1v6.6h1v-6.2v9.4v-.2h1v-7.4v9.9h1v-8.6v10.2h1v-6.4v-9.8v8h-1v2.5v-16.3h-2v4.7v7.4h2v-14.3v9.8h-1v3.6v-7.9v7.2h1v-1.2v1.5v-9.3v9.3h1v-4.6v-7.9h2v1.6v8.6h1v-14.4v-.6v12.3v-1.5h1v-.6v-8.3h1v1.8v-.3v11.7v-11.7h2v.2v-7.4v17.4h1v-1.5v-9.7h-1v.8v11.5h3v-6.7v-9.8v9h1v-4v6.8h-1v-2.6v-16.9h1v12.9v-7.3h-1v-2.9v10.5h-1v-5.7v-2.4v11.3v-11.3h-1v4.4v10.1h1v-4.4v9h-1v-5.7v5.6h-1v-14.9v11.3h1v1.3v-6.8h1v-4.1v8.7h2v-2.4v9.2h2v-2v-8.4h1v-1.6v11.7h-1v-5.6v3.7v-13.6v4.8h-2v9.2v-8.9h-1v1v9h1v-7.1v-.1v7.2v-.7h-1v1.8v-8.5h1v14.5v.9v-10.3v10.3h-1v-2.9v-8.2h-1v9.6v-8h2v10v.6v-14.1v14.1h1v-.9v-10.6h-1v4.8v6h-1v5.6v-14.5v6.5h1v-2v-.7v14.4v-9.2h2v-.9v8.7h1v1.3v-10.7h2v6.9v.3v-14.3v8.5h1v2.8v-7.3h1v6v-7.6h-1v9.5v-9h-2v6.6v-5.1v15.9h-1v.9v-5.7h-1v5.1v-6.1h-2v4.7v-9.5h1v11v-6.6h1v-1.6v12.8h1v-13.1v10.2h1v-4.3v-1.6v9.3v-9.3h1v-1.5v8.8h-2v2.5v-11.6h-3v2.3v-3.7v16v-16h-1v.4v16.7h1v-11.9v21.4v-18.5h1v13.3v1.7v-10.9v10.9h-1v-.4v-11v10.3h1v-19.5v8.8h1v-8.7v9.7h1v-11v6.7h1v-6.1v9.1h1v2.6v2.3v-18.5v12.2h-1v-.7v-5.5v15v-7.9h2v-3.9v5.3h-1v-9.6v7.4h1v-11.4v-2.6v12.7v-5.9h2v-12.8v7.8h1v-3.8v8.8h-1v.4v-14.2h1v5v7.6h-2v-.9v-12.6h1v5.1v6.5h-1v3.2v-10.5h1v6.8v-6.1v16.2v-7.8h1v-10.6v14.5h1v-4.9v-4.9v10.8v-10.8h1v12.1v-8.4h2v-9.2v10.6h2v-5.6v5.9v-14.5v2h-1v-4.8v-3v13.4v-13.4h-1v13.8v-6.6h1v8.8v-10.6h-1v9.5v-7.9h-1v8.7v-6.1h1v5.6v-13.1v10h1v-10v10.8h2v-10.2v12v-11.7h-1v11.6v-13.5h-1v7.1v-7.5v5.6h-1v-8.8v13.7h1v-7.5v4.5v-14.1h1v9.7v5.5v-16.7h2v-5.3v11.3h1v8.4v-14.1h1v6.2v6.4h1v-1.4v4.5v-15.1h1v15v-7.7h2v-.1v8.2h2v.3v-10.1h1v.9v8.4h-1v-3.9v-8.9h-1v10.2v-8.1h2v2.7v-11.8v9.1h-1v1.8v-8.3h1v2.8v9.1h-1v1.4v-8.1h1v.8v7.9h-1v-10.8v16.2h1v-13.1v6.5h1v4.9v-12.5h2v9.2v-5.8h1v-3.2v11.9h1v-.8v.7v-13.8v3.3h1v10v-7.4h1v14v-15.5h-1v8.8v-8.1h1v10.1v.8v-12.8v1.8h1v6.6v-11.4h2v3.7v8.2h-1v-6.9v9.3h-1v-8.2v6h3v-8.3v5.2h-2v-2v6.3h1v-12.1v-.3v8.9v-1.5h-1v-11.4v17.8h-1v-20.7v15.4h-1v5.9h1v-3v7.8h1v-9.3v8.1h-1v-9.1v9h-1v.9v-11.6h1v13.8v-7.3h2v-2.8v-2.6v10.6v-10.6h-1v22.5v-19.1v2.7h-2v6.2v-7h1v-12.5v19.6h1v-10.4v15.4v-6.7h2v-.4v6.1h-2v-1v-12.4h1v13.4v4.5v-13v2.7h-2v-.7v-1.7v14.2v-7.2h1v10.6v-9h-1v6.4v1.5v-14v12.2h-1v-13.8v10.8h3v-8.5v10.4h-2v-5.1v8.6v-17.7v2.4h-1v4.5v-3.7v14.4v-4.8h1v-8.7v8.7h2v-4.1v-5.9h-1v5.6v-6.4h1v-2v9.4h1v-2.4v-7.3h-1v.9v8.4h-1v-8v-2.4v14.4v-7.2h-2v-5.6v7.5h1v-15.8v14.5h1v-.5v-10.9h1v17.4v-13.5h-1v-1.3v6.4h1v-8.6v-1.9v10.2v-10.2h-1v6.3v-7.7h2v8v-7.2h-1v10.3v-8.9h2v7v-6h1v5.2v-13.1v6.8h-1v-11v8.7h2v2.9v2.8v-13.3v13.3h3v-3.1v4.9v-12.1h1v-5.3v16.2v-2.2h-1v4.7v3.4v-12.4h1v-3v8.4h1v7v-18.5h1v3.1v6h1v-7.9v-2.7v9.3v-9.3h2v1.6v11.1h-1v-7.3v9.1h1v-17.5v-5.4v12.9v-1.2h1v.4v-9.1h1v12.8v-6.1h1v-2.9v-.1v17v-7.4h2v-1.3v-5.3h1v4.7v-9.2h2v11.2v-7.6v5.2h-1v-3.1v5h1v-8.4v9.9v-5.6h1v5.8v2.4v-10.4v10.4h1v-4.4v5.4h1v-5.4v5.6h1v-1.6v-3.1h2v-.5v-1.4v6v-6h1v4.2h-1v3.3v-7.7h1v1.2v-2.4v6.1v-3.5h1v-2.6v5.8h-2v-3.8v3.8h1v-3.8h1v-2.5v6.3h2v-4.7v-1.9v7.7v-7.7h1v5.2v-4.4h2v5.9v-4.5h1v-.6v6.3h1v-3.4v5.1h1v-5.7v3.3h-1v1.8v.9v-6v6h1v-2.7v2.5h1v.2v-6.5h1v-1.2v3.5h1v-1.9v3.7h1v.3v-4.3h1v4.3v-3.5h1v-1.2v5.1v-1.7h2v2.8v.7v-4.9v4.9h1v-3.8v5.9v-3.8h1v1.5v2v-5.2v5.2h1v-4v-1.1v4.1v-1.7h1v1v-2.8h1v1.7v-1.7h-1v1.4v-4.5h1v5.2v-3.9h1v1v1.1v-4.5v.8h1v1.3v1.7h1v-2.5v2.6h1v-2.6v2.5v-2.3h-1v-1.6v2.7h1v-1.8v-1.1v3.2h1v-1.4v-1.9h1v-.5v1.8h-1v.2v-2h1v2.6v-1.3h1v-.8v2h1v-2v1.8h1v-3.6v-1.1v3.1h1v-2v-1.3v2.9v-.1h2v-2.4v2.1h-1v-2.5v2.5h1v-.2v-1.5h1v1.4v-3.1v2.8h1v.1v.4v-5.3v5.3h1v-.9v-2.6v.3h1v1.1v-3.2v1.7h1v-1v.4v-2.3v.6h1v.3v-.4v2.5h1v.4v-3.3h1v-.2v1.8v-1.4h1v-.1v-.9v2.4v-2.4h1v2.3v.4v-3h1v.3v2h1v-2.3v1.9h1v-2.1v1.7h1v.9v.9v-2.9v.4h1v-.2v3h1v-.1v-3.6h1v2.1v-2.1h1v1.7v.9v-2.9v2.9h1v-.7v-1.7h1v.2v1.4h1v-.9v.7v-2.8h1v.6v1.9h1v-.8v1.9h1v-.9v.4v-2.1v.4h1v-2v-.3v2.7v-2.7h1v.7v-1.9h1v2.8v1.3v-4.1v2.2h1v-.2v2.7h1v.4v-2.7h1v-.3v2.1h1v-.4v.2v-3.9v3.9h1v-2.8v-1v3h1v-2v3.8h1v-2.8v.9v-3v1.3h1v1.3v.9v-2.7h1v1.1v1.6h1v-1.2v2.6h1v-.8v-2.2h1v.1v2.5h1v-1.2v.2v-2.1v2.1h1v-1.5v2.5h1v-3.1v4.3v-3h1v1v1.4v-3.4v1.7h1v-.9v2.5h1v-2.5v-.3v2.1v-2.1h1v.1v-.6v2.6v-.4h1v-1.3h1v.9v-1.3h1v-.5v-1v2.6v-.4h1v-1.2v.4v-3.2v3.2h1v-.3v-1.4h1v2.5v-3.6v2.2h1v-.4v-1.7h1v2.1v-3.3v2.2h1v-.6v-2.2h1v1.7v-3.4h1v2.3v1.4h1v1.6v-3.1v.7" stroke="#291f88" stroke-width="1.9" fill="none" stroke-linejoin="miter" stroke-linecap="square"/>
<path d="M621.5 398.7v-10.2h1v1v7.3h1v-4.3v-6.7h-1v-.2v5.2h-1v.2v-9.2h1v6.7v3.9v-10.5v6.2h1v-5.4v5h1v-6.9v-.5v10.5v-9.2h1v5v-4.2v10.7v-10.7h-1v6.7v-5.2h1v-.3v-14.2h1v17.6v.1v-10.4v1.6h-1v9.1v-6.7h1v4.5v1.3v-7.6h1v-2.9v5.7h-1v-10.5v-5v14.9v-.9h-1v-7.9v6.6h1v2.5v2.8v-13.3v11.5h-1v-12.4v12.5h1v-.1v-9.1h-1v7.9v-4.9h2v7.7v1.5v-11.3v5.3h1v-.8v-4.2h1v-1.8v4.6v-9.3h1v-1.1v5.8h1v-1.7v-7h2v7.5v4.1v-10.6v10.6h1v-6v-4.8h-2v-2.5v10.4v-6h-1v-1v4.3h1v-1.1v6.2v-15v5h2v5.3v.8v-9.9v9.9h-1v3.6v-7.1h1v-1v-1.3v9v-3.4h2v4.1v-9.8h1v-.6v12.9v-11.7h-1v3.1v-1.7v8.1v-8.1h1v6.9v-8.2h-1v10.1v-9.1v6.9h1v10.3v-10.6h-1v8.3v-10h-1v4.2v-5.5h1v8.4v-6.7h1v8v-8.2v8h1v-1.1v-5.3h1v11.3v-8.8h1v11v-11.4v1.8h-1v12.5v-12.5h2v2.5v-2v11.2h1v-11.6v5.4h1v.2v2.2v-9.6v4.7h-1v4.7v-8.1h1v-2.1v6h1v4.4v-7.1h2v1.9v7.9h1v-1.2v-5.3h-1v1.3v7h1v-5.7v6h1v-5.8v-3.9v10.8v-10.8h-2v1.4v6.4h-1v-7.9v10h1v-1.5v1.1v-9.9v2.9h1v-6.2v7.6h1v-7.4v-1.4v7.1v-7.1h-1v.3v6.1h1v.6v-11.6h-1v-3v7.9h2v2v3.3v-12.4v11.5h-2v.6v-7.5h-1v1.3v7.1h1v-6v5.7h-1v-.7v-5.2h1v4.4v-16.3h1v15.1v-7.8h1v-3.1v7.6h-1v-6v-1.7v11.8v-11.8h-1v-1v-6.3v15.9v-15.9h3v1.3v5.4h-1v1.5v1.4v-8.5v2h1v1v6.4v-6.1h1v7.6v.6v-10.1v10.1h1v-7.2v-1.1v8.1v-8.1h1v5.9v-12.3h1v7.8v-6.1v4.4h-1v4.8v-10.1h1v9v-15.3h1v20.1v-12.5h1v6.6v-7.8h2v5.2v.6v-7.5h1v-5.1v9.9v-7.8h1v2.4v14.7v-1.1h1v.1v-8.1v3.9h1v.6v4.5v-12.5v11h1v9.5v-13.4v1.1h2v.4v-2.6v7.5v-7.5h1v5.1v4.6v-10.7v.4h1v5.7v-8.1h-1v11.2v1v-9.8v3.9h3v1v5.3h1v2.4v-11v10.9h-1v-8.2v6.9h2v3v6.9v-15.6v15.6h-1v-12.2v10.4h1v-12.1v9.7h1v-10.6v6.2h1v-4.8v-3.5v7.6v-.7h1v1.6v1v-7.8v7.8h2v2.3v-7.5h2v-2.7v8h2v-2v-6.4v15.6h1v-2.2v2.8v-15.2v15.2h-1v-9.7v6.3h1v-6.3v7.3v-5.8h-1v3.8v6.3v-20.2v17.5h2v-4.1v5.3h1v.4v-5.8h1v10.7v-12v6.9h1v-7.7v10.6v-7.5h-1v4v-6.1h1v7.2v3.7v-10.9v3.3h1v7.3h1v-.5v-13v12.2h1v.5v6.3v-13.8v13.8h1v-15.5v13.1v-6.6h3v6.4v-6.9h-1v8.5v-9.6h-1v3.9v10.6h-1v-6.4v2.5v-13.1v1.3h2v6.8v-8.9h1v6.8v5.5v-12.2v12.2h1v-9v-.4v7.1v-.5h1v.1v-7.6h1v13v-4.5h1v-1.6v4.6h1v3.9v-7.3h-1v8.4v-8.9h-1v1v-2.4v9.4v-1h1v-16.2v16h-1v.1v-11.2h2v-.9v22.2v-3.6h2v5.6v-10.2v9.2h-1v-2.5v6.3h-1v.6v-13.5v5h-1v1.2v-7.2h1v11.2v.5v-9.4v1h1v8v-4.8h1v4.9v2.5v-7.9v7.9h1v.1v-7.6h1v6.2v-6.5h-1v10v6.6v-17.3v4h-1v13.7v1v-11.2v11.2h-1v-5.9v-.2v9.8h1v-6v6.8v-6.8h1v-.4v6.4h1v-6.4v7h-1v-9.5v8.8h-1v-2.9v-7.4h1v8.9v-8h-1v4.7v-9h1v5.7v8.8h1v-1.5v-6.6h1v-2.9v10.3v-7.8h-2v7.2v-13.5v5.3h1v8.7v-5.7h-1v5.2v-8h1v12.4v-11.5v11h-1v-6.3v5.1h2v-4.3v-1.4v14.9v-14.9h1v10.5v-6.6h2v-.6v-3.1v11.3v-3.4h2v.5v-6.1h-1v3.4v-5.7h1v7.3v-5.9h-2v8v1.8v-12.1v12.1h1v-.5v-4.5h2v2.8v4.3h-1v-3.8v10.1h1v-7.9v4h-1v-5.8v4.1h1v-6v-.1v9.3v-3.6h2v2.3v4.5v-10.9v2.8h1v-.8v4.4h1v-3.7v5.8h1v.5v2.2v-10v3.5h-1v3.6v-3.1v9.2h2v4v-8.9v3.6h1v-2.9v-.9v5.5v-3.2h1v-4.1v9.4h1v-1.5v-3.7v3.5h1v-2.9h1v-.3v3.4h1v.4v-4.4v9.8v-6.8h1v.3v-.3v4.9v-4.9h1v2v5.5v-2.9h1v-4.8v7.6v-.6h1v.6v-3.6v3.3h1v-2v-.6v4.5v-4.5h1v4v-3h1v-.7v3h1v-1.6v-1.7v4.7v-2.6h1v-1.9v3.9v-2.6h1v3.9v-3.7h1v.1v3.3v-1.8h1v.6v5h1v-2.2v-4.8v.4h1v4.8v-5.7v5.2h1v-2v-2.1h1v.9v-2.6v6.1v-6.1h1v4.5v1.7v-4.4v4.4h1v-3.3v3.6h1v-2.2v5.3h1v-5v-.2v4.2v-4.2h1v1.5v1.7v-3.9v3.2h1v2.4v-4.1h1v1v3h1v.5v-2.3h1v.4v2.4h1v1v.2v-3.7h1v.6v3h-1v-.9v3.2h1v-4v3.1h1v-4.1v5.2v-4.2h1v-1v3.2h1v-2.3v5.1h2v-2.7v3.1h-1v-1.1v-2.4v5.4v-4.2h1v4.1v1.1v-4.3v4.3h-1v1.7v.8v-4.1v4.1h1v-5.2v-2.1v7.5h1v-1.7v2.7h1v-1.7v4v-3h1v3.9v1.1v-4.3h2v-3.5v5.6v-4.1h1v1.2v1.9h1v1.7v-2.8h1v2.6v-3.4h1v1.7v-1.1v3.7v-.6h1v-3.3v3.4h1v.1v-4.5v4.1h1v.2v-3.8v2.6h1v1.8v-4.7h1v.7v7v-4.4h1v.1v3.6h1v-3.9v5.8v-3.3h1v.9v3.4h1v-4v3.5h-1v1.7v-4.8h1v3.2v3.1v-.4h2v-1.6v-2.3h-1v.2v3.1h1v-2.1v-.5v5.6h1v-4.5v-.9v4.2v-4.2h1v5.9v-3.3h-1v1.1v2.7h2v-3.4v5.2h-1v-3.1v2.7h1v-3.6v7h1v.3v-7v3h1v.9v.5v-3.7v.6h1v3v-3.6h1v2.1v-.7v4.1v-3.4h1v2v.3v-3.3v.6h2v3.7v-3.3v2.1h1v2.2v-6.6v3.5h1v.9v-2.9h1v1.4v1.6v-4.3v.9h1v1.9v-1.9v4.6v-.4h1v-2v2.8h1v-4.4v4.6h1v-4.2v2.3h-1v-1v-1.7v4.4h1v-4.6v-.7v6.6h1v-3v3.7h1v-4v-.8v4.7v-4.7h1v.9v4.4h1v-3.5v3h1v-3.2v-.4v5v-5h1v.8v4v-.2h2v-1.6v-2.1h1v-1.3v-.6v4.7v-4.7h1v4.3v-3.7h2v1.4v-1.5v4.6v-4.2h1v4.6v-3.8h1v4.2v-6.5v4.3h1v-3.3v3.5h-1v-4v-1.6v4v-4h1v6.8v-3.1h-1v.2v4.3h1v-4.7v4.4h1v.9v-3.7h1v-.6v-2.2v7.7h1v-2v-2v4.1v-4.1h1v3v.2v-3.2v3.2h2v-1.6v-2.1h1v3.1v.7v-3.2h1v1.8v-1v5.1v-2h1v-1.3v5h1v.1v.1v-4.5h1v4.3v-3.9h1v3v-3h1v.7v-.7v4.1v-.1h1v-4.2v3.5h1v-1.6v1.8h1v-.5v-2.6h1v-.8v5.1v-4h1v1.9v-3.6h1v2v1.6h1v.6v-3.7h1v2v-5.1h1v1.6v7.6v-5.7h1v.1v1.8h1v.8v2.5v-5.1v5.1h1v-.3v-5.2h1v3.7v-.2v2.9v-.5h1v-1.4v1.9h1v-2.4v4v-2h1v.1v-2.3v5.7v-2.7h1v1.4v2.2v-5v2.6h1v1v-5.2v2.6h1v-.7v-.5v3v-2.9h-1v-1v-1.8v5.8v-5.8h1v-.7v2.7v-2.2h1v1.7v.5v-4.8h1v2.7v-2.8h1v-.2v2.6h1v-1.7v2.2v-5.3v5.3h1v-4.1v3.1v-2.6h-1v1.6v-2.8v2.2h1v1.5v-3.3v.1h1v.5v-2.3h1v2.6v-3.4v2.5h1v-4.7v2.6v-2.2h1v2v-6.7h1v4.2v2.8v-5.9v5.9h1v-3.9v1.6v-3.6v.2h1v1.2v-2.1h1v3.1v-2.5h-1v-.6v-1.8v6v-6h1v3.2v1.1v-4.2v4.2h1v-2.9v-1.5v7.3v-1.9h1v-1.1v-.2v4v-1.4h1v.7v.8v-3.4v3.4h-1v-.4v-2.3h1v2.7v-.4v5.5h1v-1.3v.9v-3.2v3.2h1v.7v1.7v-3.5v3.5h1v.7v-2.4v.7h1v-2.4v4h1v1.5v-1.9h1v1.1v.8v-2.5v.6h1v1.8v-1.7h1v-.5v2.1h1v.2v.3v-2.3v2h1v-2.2v1.5h1v-.3v-1.9h1v.5v2h1v-1.9v2v-1.6h1v-.6v2.3h1v-.8v2.3v-1.8h1v-.9v1.6h1v-.4v.5v-1.8h1v-.3v1.8h1v-.9v1.4v-2.8h2v2.1v-.6v2.7v-1.3h1v.7v-2.2h1v.7v1.3h1v-2.2v-.2v2.8v-1.1h1v1v-2.9h1v1.1v-3.5h1v1.2v-.6v2.4v-.4h1v-1.5v-.6v1.7v-.2h1v.4v.5v-1.8v1.8h1v1.2h1v-1.2v-3v2.8h1v-1.8v1.6h1v-2v-1.4v3.5v-.8h1v-1.7v-1.2v2.4v-.4h1v.3v-1.9h1v1.4v1.1v-2.4v2.4h1v-2.6v2.3h1v-4v3.7v-.4h1v-.6v-2.3h1v1.1v.1v-1.6v1.6h1v.4v-1.7v1.4h1v-1.5v-.7v2.2v-.3h1v-1.6v-.1v1.9v-.5h1v-1.2v1.3v-3.3h1v1.8v-1.1h1v.9v.1v-1.4h1v1.8v.7v-2.4v.7h1v-.7v2.5h1v-2v1.7h1v-1.3v-.9v2.1v-.7h1v-1.2v1.3v-1.3h1v2.1v-2h1v.4v2v-1.5h1v-.2v-.6v1.8v-.6h1v-1.1v1.2h1v-.6v-.3v1.6v-1.6h1v1.4v1v-2.2v.4h1v.1v-.3v2.5v-1h1v.6v.1v-1.7v.1h1v1.2v-1.5h1v1.4v.4v-1.5h1v1.1h1v.3v-2.3v1.6h1v.1v-1.3h1v.2v-1.8h1v-1v3.4v-.6h1v.7v-2v2h2v-.7v-.3v2.5v-2.5h1v-.8v-.6v2.2v-.4h1v-1.8v1.8h1v-2v-.2v2.7h1v-2.3v1.2h1v-1.6v-.2v1.7v-1.7h1v-1.1v2.1h1v-2.4v3.6h-1v-3.3v1.2h1v-1.9v-.7v2.5v-.9h1v-1.6v1v-2.6h1v-.6v-.3v2.2v-.9h1v-1.1v1.2v-2.4h1v-.2v1.5v-.1h1v-2.6v4.3v-1.2h1v1.4v-1.2h1v1.8v-1.3h-1v.3v2.1h1v-.6v1.7v-4.7v4.7h1v.9v-1.7" stroke="#7b3f9d" stroke-width="1.9" fill="none" stroke-linejoin="miter" stroke-linecap="square"/>
<path d="M732.5 481.5v5.4h-1v-4.7v4.5h-1v5.1v1.9v-7.9v.3h-1v.4v4.6h-1v-6.1v10.3v-8.3h1v4.5v-4.1h1v6.4v4.6v-10.6v4.9h-2v6v-7.2v.9h1v6.3v-7.8h1v.2v7.4h1v-7.5v6.1h1v-6.1v4.1h-1v5.2v5.8v-13.7v3.1h1v.8v5.5v-4.9h-1v3.3v-5.6h2v-1v7.1v-1.7h1v1.1v-6.4v6.2h1v3v-7.8h1v-.7v7.3h1v-4.9v-.6v6.6h1v-5.3v5.3v-4.6h1v4.6v-8.3h-1v-2.7v12h1v-1.5v-7.2h2v2.5v-3v8.3v-8.3h-1v7.5v7.7h2v-5.9v8.6h-1v-2.7v-12.8h1v-5.8v18.5h2v1.2v-6h1v8.8v-7.9h-1v1.4v6.2v-5.8h1v14v-11.4h-1v5.3v-4.7h1v-4.8v7.5h3v-4.8v12.3v-9.7h-3v-5.9v7.9h1v-3.6v10.2h1v-7.1v-4.6v21.9v-21.9h-2v7.3v6.8v-16.4v16.4h1v-.3v-8.5h1v6.2v.7v-11.4v11.4h-1v-1v7.2h2v-8.3v-2.2v8.2v-8.2h-2v10.2v4.1v-15.1v1.8h-1v9.9v-9.4h-1v9.4v-10h1v-1.6v8.5h1v-10.3v8h-1v5v-9.9h1v14v-12h1v.7v8.7h1v-5.2v7.3h-1v-.2v-8.7h-1v9.3v-7h2v-.7v7.7v-7.4h2v1.2v11.6h-1v1.9v-15.1h-1v2.2v11.3h-1v-10.8v6.2h1v1v4.6v-13.3h1v13.2v-16.9v7.3h1v4.5v-13.7h2v15.8v-9.7v26.2v-11.8h2v.8v9.3h-1v-16.8v-.9v17v-6.2h1v-11v14.1v-.6h1v-1.6v10v-6.2h2v8.3v-12.5v11.3h1v1.7v-8.3h-1v6v-7.7h1v15.3v-8.3h1v6.7v3v-20.2v13.8h1v-15v14.2h1v-7.9v-11.5v2.3h-2v15.5v2.2v-18.9v16h-1v1.6v-10.8h2v-3.4v10.6h1v.4v-7.9h2v-4.1v11v-1.1h1v-5.3v-8.5h1v9.5v-16.5v10.1h1v-4.2v9.8h-1v-.7v.3v-19.6v10.5h1v8.6v-7.8h1v-2.4v10h1v3.9v-10.8h-1v12.7v-9.2h1v-3.3v8.9h-1v-6.5v10h2v-6.3v-1.8v12.7v-12.7h-1v16.2v-21.1h2v6.3v11.7h-1v-12.8v10h1v-10.9v8h-1v-11.9v8h1v-11.7v18.6v-10.3h1v9.9v-18.1h-1v17.4v-9.7h1v1.3v13.2h-1v-16.1v9.5h2v-12.2v15.1v-5h1v-11.1v-3.2v9.6v-.1h2v-.3v-17.9h1v9.7v10.9h-1v4.6v-11.6h-1v-1.1v6.1h-1v-5v-10.9h1v11.4v-8.2h1v5.5v-18h-1v22.4v-11.4h-1v9.2v-14.3h2v16.2v-15.6h1v.6v-3.7v18.1v-18.1h-1v5v6.7h1v1.6v-11.4h-1v4.8v7.2h-2v-10.1v12.8v-10.5h1v-7.3v17.4v-10.6h1v-4.1v9.8h-2v-3.3v8.5h1v-.5v-12.5h-2v10.3v-6.1h1v9v-16.8h2v10.6v3.4v-17.5v7h-1v10.9v-8.4h1v2.2v7.2h2v-14.5v9.5h-2v-5v-8.8h1v10.9v-16.3v6.3h-2v2.5v7.5h-1v-8.4v8.2h1v-.9v-9.4h1v7.1v-9.6h-1v-1.9v14.8h1v-20.9v13.2h1v-8.1v18.1h2v-14v8.6h1v-9.9v-3.5v14.8h1v-12.7v6.3h1v1.3v-8.6h1v9v-14.3h-2v7.8v-8.8h-1v-2.2v7h2v-3.8v7.9h2v1.7v-8.2h-1v7.4v-8.1h-1v-3.6v9.1h-1v9.7v-16.3h-1v12.5v-11.5h2v6.8v2v-13.2v1.5h1v7.4v-14.9v10.3h1v4.6v.2v-13.4v6.6h1v1v7.4v-15.8h1v11.8v-18.5v12.1h1v-5.6v-1.3v11.1v-11.1h1v4.1v1.1v-9.1v9.1h1v6.6v-15.9h1v15.9v-10h1v-4.2v7.5h2v4.1v-12.3h1v4.4v10.1h1v-1.3v-12.2h1v.4v-7v16.8h2v-3.5v-5.1h1v6v-9.1h3v5v-2.6v11.8v-.7h1v-7.5v7.5h-1v-11v7.5h-1v-.3v-6.1h1v8.9v2.3v-11.5h2v8.6v5.5v-11v2.1h1v4.3v-5.7h-1v-2.5v5.7h-1v4.9v-11.7h1v4.5v6.1h1v-3.3v-7.4h1v-.6v11.4v-9.6h1v2.1v5.9h1v-4.7v6.6h1v-1.6v4.8v-18.2v11.1h-1v14.3v-11.8h2v4.7v4v-13.3v13.3h1v-12.2v8.1h1v-7.6v10.3h1v.5v-10.5h1v5.5v4v-12.8h1v12.3v-9.4h1v-1.2v8.1v-7h-1v12.4v-7.9v16.3v-15.4h1v.6v12.8h1v-5.8v.2v-12.4h2v11.6v-5h1v7.8v-9.6v7.5h2v-8v-.9v6.8v-1.4h1v-6.5v5.3h1v-2.6v5v-4.7h1v-2.2v5h-1v-2.5v-4h1v7.5v-5.6h2v2.2v11.4v-10.9h1v1.1v4.3h1v-9.1v-.9v8v-.3h-1v2.6v-6.7h1v9.1v-10.1h-1v11.6v-13.1h1v7.8v-8h1v3.4v4.4h-1v-7.5v7.6h3v-7.7v-.1v5.6v-.8h1v-3.2v7.2v-5.8h-1v-1.8v7.9h1v.3v-6.4h1v4.9v.4v-7.7v7.7h2v-3.8v4.3v-8.9v8.9h1v-3.5v6.2h1v-1.9v-4.5h1v4.8v.4v-6.7h1v1.8v-.9v5.8v-2.2h1v-3.8v3.3h1v-7.3v4.6h2v-2.7v3.5h2v1.5v3.2v-6.8v6.8h-1v-3v-4.9h1v5.3v-6.5h2v5v-1v5.1h1v-7.5v-1.6v6v-1.8h1v-6.7v7.4h1v.1v-7.1h1v7.5v-4.9h2v-1.8v5.5h1v-4.1v9.9v-8.9h1v-.2v5.4h1v-4v3.3h1v.6v-3.6h1v1v-1.6v3.9v-3.9h1v4.5v.4v-6.3v6.3h1v-.4v-3.3h1v-1.6v4.2h1v.5v.5v-4.8v3.5h1v4v-6h1v-.3v2.8h1v-1.4v-2.3v4.8h1v-5v3.8h1v-1.6v1.7v-5.6v3.3h1v-2.1v3h2v-1.9v2.6h1v-.9v3.7v-3.1h1v.4v3h-1v-3v3.1h1v-1.6v-1.9h1v.5v3.8h1v-2.4v2h1v-2.4v-.9v4.4v-4.4h2v4.3v-3.2h1v-.9v2.4h1v-5.3v4.3v-.4h1v-.8v-1.8h1v2.6v1.4v-4.2v1.3h1v-.3v-1.1v6.1v-.7h1v-2.5v-2.5h1v-.9v2.7h1v-2.8v2.3h2v-.2v.4v-3.5h1v1.6v2.6h1v-.8v.1v-2.7h1v1.2v4.4h1v-2.5v-3.6v.2h1v1.6v2.5h-1v-3.7v-.5v7.1h1v-4.1v-2.4h-1v3.2v-3.4h2v3.1v-3.1h1v3.6v-3.9h1v2.1v-2.8h1v.4v-1v5.5v-5.5h1v2.3v-3.3v2.9h1v-.4v.1v-3h-1v1.1v1.8h1v-1.6v-.6v2.7v-1.1h1v-.2v-2.2h2v.2v-.4v4.6v-1.9h1v-.2v-2.6h1v-.3v1.7h1v1.5v-4.5v1.5h1v-1v3.8v-1.6h1v-2.9v3.1v-3h1v2.4v-4.6v2.8h-1v-4v2.6h2v.7v-3.4h1v4.8v-4h1v-.5v5h1v-3.1v.7v-3.6h1v2v-2.2h1v2.4h1v.5v-3.6h1v3v-3.2h1v-.1v3.8v-.7h1v-2.4v-1v4.5v-1.7h2v-4.5v-.3v3.5h1v-2.5v2.6h1v-.7v.2v-3.2v3.2h1v-1.1v-1.9h1v-1v-1.3v5v-5h1v-1.3v3h1v.3v-2.4h1v1.2v-4v3.1h1v.4v-3v2.5h1v.8v-2.8h1v-1.1v3.1h1v-2.3v-1.3v3.4v-3.4h1v2.6v-5.7v1.5h1v1.6v.2v-3.2v.8h1v1v-1.4h1v1.5v-1.4h1v1.6v-1.8h1v.1v-.6v2.7v-2.7h1v.4v1.1v-.9h1v1.7v-1.3" stroke="#e3007b" stroke-width="1.9" fill="none" stroke-linejoin="miter" stroke-linecap="square"/>
<path d="M617.5 387.8v4.2v-11.7v1.6h2v9.3v-10.2h1v8.4v-10.9v1.3h-1v-2.3v7.9h1v6.6v-17.1h-2v2.1v6h-1v-9v13.1h1v-15.9v11.7v-8.8h-1v-3v17.1v-4.1h-1v-5.2v-5.7h1v7.2v-6.4h2v.1v11.7h-1v-1.4v-9.8h1v7.2v-7.9h1v7.8v-12.5h-1v1.3v12h-1v-11.9v-3.1v9.3v-9.3h1v5v-9.1h1v7.1v-7h1v7.4v2.5v-9.7v9.7h-1v-3.2v-10.2h1v3.5v13.3h1v-10.8v5.7h-1v.8v-18.2v14.8h1v2.1v-5.1h-1v-1.3v12h1v-17.6v-1v14.1v-14.1h-2v1.6v6.4h1v-8.6v10.2h1v-11.1v13.5h-1v1.9v-13.6h3v2.9v-13.1v9h-1v1.9v.7v-9.2v9.2h-2v-11.2v-4.4v16.5v-10.8h-1v9.8v-7h1v9.2v-8v7.8h1v-7.9v6.1h1v-.3v-8.9v18.2v-18.2h2v2.1v-3.2v23.2v-19h-1v3.3v-4v13.3h1v-8.9v4.2h-1v.5v-7.2h1v9.5v-9.4h1v2.5v-2.1v11.6v-2.7h-1v-.3v-5.7h1v.2v6.9h-1v2.6v-10.7h1v2.5v7.1h-1v3.9v-12h2v3v-6.9h1v8.1v-7.2v6.6h1v-5v8.2h1v-3.9v7.4h-1v-1.2v2.8v-9.2v1.4h-1v2.2v5.6h2v.8v-5.7h1v-.8v8.5h-1v-5.5v5.2h1v-4.8v-3.4v9.5v-.8h2v-1.8v2.9v-9.7v9.7h-1v1.4v-6.8h2v4.6v-5h-1v10.2v-5.2h-1v5.4v-8.8h-1v10.8v-7.6h-1v7.7v-5.4h1v4.3v-6.3h-1v3.8v-5.5h1v9.3v-8.1h-1v12v-5.6h-1v6.4v-7.4h-1v4.7v-6.3h1v2.3v6.6v-14.6v7.6h1v1.9v-.3v9.2h-2v-5.3v-8.8h2v1.4v6.4h-1v5.7v2.1v-12.8v11h1v-.9v5.4v-10.9v10.9h-1v-3.3v1.3v-10v10h1v-2.9v9.2h3v-16v13v-5.7h-1v-2.1v9.5h1v-3.2v.3v-11.6v11.6h2v-6.9v11.5v-9h1v7.3v-8.5h-1v5.2v5.9h-1v-7v6.1h1v8.8v-13.2h2v8v-5.5h1v3.9v-7.4h-2v7v-6.7h1v8.2v-14.8h2v12.5v-9.2h1v-1v13.5h1v-1.7v-7.7h1v-3v10.2v-9.1h1v10.4v.5v-18v4.8h-1v14.1v-10.9h1v6.1v10.9h1v-5.8v10.8h2v-4.9v-8.8h-1v8.4v-8.3h2v5.7v-11.6h-2v12.4v2.1v-16.6v9.9h-1v2.6v9v-8.2h-1v3.4v-8.6h1v8.3v-6.5h2v-4.1v6.8h1v-2.7v-7.9h1v-2.1v9.5h-1v3.8v1.8v-12.4v3.7h-2v-.6v10.4h2v-7.1v-5.2h2v-.4v-5.3v11.3v-11.3h1v1.7v10.5h1v-10.1v9.6h-2v.5v-10.1v6.9h1v-1.5v8.4h1v1.1v-4.9h1v-8.2v15.1v-2.7h-1v.2v-8.1h1v5.3v-9.2h2v.9v8.2h1v-12.5v9.1h-1v.8v-4.6h-1v1v-7.4h-1v6.5v-15.4h-1v6.6v-4.9v11.7v-11.7h1v11v-9.9h-1v8.9v-7.7h1v-4v20.5h-1v-16.4v4.6h1v.6v-7.5h1v-.4v8.1v-7h-1v2.6v-5.5h1v-2v6.7h-1v-8.6h1v8.7v-6.8v6.5h1v-11.9v16.4h1v-3.9v-9.9h2v3.9v8.2v-16.9v2.7h1v2.7v5.8h-1v1.5v-14.4v14.4h1v-12.8v12.8h2v-15.9v8.9v-1.8h-2v.7v-6.2h-1v-8.3v12.7h1v-5.5v-.8v8.2h-2v.2v-11.2h-1v7.5v-10.6h3v12.2v-4.6h2v-2.5v7.4h-1v-3.6v-7.5h1v.5v12.8v-7.7h-1v2.9v-8h-2v9.9v-6.4h-1v-.2v5.7h1v-2.5v-5.9h2v-6.4v14.5h1v7.7v-11.4h-1v-2.9v6.9h3v-7.8v-2v7.9v-.2h1v-14.2v22.4h1v-4.8v6.3h1v-3.8v5.3h1v-5.8v-2.2v21.5v-18h1v-4.7v-1.3v12.6v-6.8h-1v.4v-5.2v12.3v-12.3h1v-1.6v-.4v17.9v-5.8h-1v-7.3v5.9h-1v-2.9v-11.8h1v19.4v4.3v-14v8.1h-1v-10.1v10.7h-1v8.2v-13.8v8.2h2v-4.8v6.8h-1v-9.1v9.4h1v-8.5v-4.2v10.7v-10.7h-3v13.8v-7.9h2v5.4v4.6v-18v5.8h1v4.9v9.9h1v-9v5.2h-1v-8.6v7.2v-4.9h2v.9v9.9h-1v-4v-6.4h1v-.2v10h1v-8.7v5h2v-7.8v7.1h-1v-8.4v7.8h2v-13.5v16h-1v4.6v-6.8h1v5.7v-17.2h2v18.5v.7v-7h1v-4.2v7.7h2v5.2v-14.4h1v11.7v-9.3h1v7.4v-10.9v8.8h-1v3.5v-8.9h2v11.9v-9.1h1v5.2v3.3v-13.6h2v9.5v-8.8h-2v1.6v7.2h1v3.6v-7.7h-1v1.8v5.2h1v-4.9v5.8h-2v11.1v-16.2h2v-.1v6.1h1v7.4v-10.3h2v4.5v7.3h-1v-1.4v-10.2v5.5h2v-8.1v9.8h1v-4.7v5.2h-1v-7.5v-.3v10.3v-10.3h-1v9.9v-7.4h1v-8.3v20v-5.7h2v-1.5v6v-.4h1v-6.7v6.7h-1v2.8v-8v.2h-1v-2v10.4v-5.7h-1v5.3v-9.3h2v5.6v7.6h-1v-9.9v7h1v9.5v-12.1v8h1v-2.3v4.3v-12v12h-1v-9.6v11.8v-8.8h1v6.8v1.1v-9.3v1.1h1v5.4v.4v-7.8v1.2h2v9.6v-5.6h1v11.5v-9.1v7.1h-3v-7.7v6.9h-1v-2.8v-6.6h1v8.4v1.9v-9.7v4.5h1v4.8v3.1v-10.6v10.6h1v-9.3v7.7h-1v-6.8v5.3h1v1.5v-5.3h1v2.7v5h1v-1.9v.2v-5.8v5.8h-1v-5.3v-.8v7.3v-7.3h2v6.6v-4.7h-2v4.1v1.8v-7.1v7.1h2v4.7v-4.5h2v2.8v-7.9h-1v1.1v6.7h1v-1.2v.7v-5.8v5.8h1v-3.1v4.5h2v-7.3v6.5h-1v-.6v-4.9h1v2.9v3.4v-7.3v7.3h1v-6.4v9h1v-3.6v-4.6h1v2.1v-2.7h-1v.8v3.6h1v-2.3v4v-8.8v8.8h1v-1.3v1.1v-6.1v6.1h1v-6v5.2h1v2.9v-5.9v.5h1v2.9v1.1v-4.9v1.2h2v.9v2.4h1v-4v4.1h-1v-2.3v3.5h2v-.5v.7v-4.9v4.9h1v-1.8v-.9v4.5h1v-.5v-4.6v3.8h2v.9v.8v-5.6v5.5h1v.3v-.3v2.4h1v-3.4v6.2v-2.9h1v1.6v-.6v3v-3h1v-.4v-2.5v7.4v-7.4h1v9.4v-4.7h1v1v2.2v-4.7v2.7h1v-4.4v5.6h1v-1v-2.4h1v.8v-1.3v3.9h1v-2v1.4h1v-.1v-3.9v1.9h1v-.4v-3.4h1v1.2v2.8h1v-2.4v2.6v-2.6h1v-.6v5.1v-3h1v3.9v.3v-2.6h1v2.2v-2.3h-1v2.2v.5v-3.1v1.2h1v.1v2.9v-.9h1v1.4v-3.2v9.8h1v-.4v1v-3.5v3.5h1v-2.8v6.6h1v-3.2v-3v2.3h1v-1.7v6.3h1v-2.8v-1.5v6.4v-4h1v-2.6v2.5h1v-3v6.1h1v-4.8v-2.2v7.3v-7.3h1v.2v2.4h1v-2.8v1.8h1v1v1.1v-4.2h1v-1.6v2h1v2.1v-2.8h1v3.7v-3.6h1v2v-.3v2h1v-3.5v3.6v-3.3h-1v2.6v-2.9v.9h2v3.1v.5v-2.3v2.3h1v-3.1v2.5h1v.6v-3.4h1v3.7v-4.7v3.2h1v-.5v1v-3.4v1.1h1v4.4v-3.4v2.4h1v-2.7v3.9v-3.9h1v-.1v8.1h1v-3v1.3v-3.4v3.4h1v-.7v1.2v-5v5h1v-2.5v2.2h1v2.1v-1.8h1v-.5v3.4h1v-.2v1.8v-4v1.1h1v1.8v-5v4.9h-1v-.4v-1.9h1v.8v-1.5h1v1.7v-1.1v3.6v-3.6h1v-1.1v6.2v-.9h1v-1.6v-1.5h1v1.9v-2.2v1.6h1v2.1v-5.1h1v4.2v-2.8h1v3.2v.3v-2.8v.9h1v5.3h1v-.1v1.6v-5.5v5.5h1v1.6v-4.1v3.4h1v1.3v-1.9h1v4v-.7h1v-2.1v2.5h-1v.5v-2.7h1v.2v5.4v-4.3h1v2.1v1.7h1v-2.5v-.1v2.7v-.1h1v.2v-4v3.3h2v-3.3v2.1h-1v-.9v-5.7h1v5.2v.3v-2.7v2.7h1v.6v-3.5v2.4h1v.2v-2h1v1.4v.5v-3.1v.6h1v-.6v2.4v-2.3h1v-.3v-.1v3.6h-1v2v1.7v-5.1v4h1v-1.9v1.8h-1v1.5v-2.4v2.1h1v1.3v-2.3h1v-.3v2.2h-1v-2.1v2h1v.1v-1.6v5.9v-2.2h1v3.6v-2.3h1v2.4v1.7v-4.9v2.8h1v-1.4v3.6v-.6h1v-4.4v6.2h1v-2v-.2v3.2h-1v1.1v2.2v-6.1v2.5h-1v1.7v-3v7.9h-1v-.4v-3.4h1v2.4v4.1h-1v-3.4v4.7h1v-2.4v2.7h-1v-3.3v2.7h-1v.9v-2.3h1v3.1v-2.5h1v2.7v-2.8h1v1.4v3.2h1v-1.1v1.9v-4.9v4.9h1v-2.4v2.5h1v.2v-3.5h1v-2v6.4v-2h1v-.7v3h1v2v-4.4h1v1.7v3.2h-1v-3.8v3.2h1v3.1v-6.6h-1v3.2v-2.1h1v1.5v-2.5v6v-2h1v.9v-5.9h1v4.5v.2v-2.9v2.9h2v.4v-2.5h1v3.4v.4v-2.9v2.9h1v-1.4v-1.5v5.3h1v-4.3v2.7h1v.9v-3.7h2v1.1v2.5h1v-2.2v-1.4v4.7v-.4h2v-3v-1.7v4v-4h1v2.2v-2h1v3.4v.4v-3.2v3.2h1v-.1v2.5v-5.1v1.4h1v2.3v-2h1v2.1v-2h1v3.4v-2.5v6.5v-4.1h1v-.5v-.5v2.4v-2.4h1v1.4v-1.1v5h1v-.2v.4v-2.9v2.9h1v-3.9v3.2h1v-4.9v3.7h1v-1.4v2.1h1v-1.8v2.5h1v-2.5v2.9h1v-3.3v-.2v3.7v-.7h1v-.7v-2.9h1v2.8v.3v-3.4v3.4h1v-.8v-2.2h1v-.6v-1.1v3.3v-1.1h1v5v-6.5v1h1v.3v3.4h1v-1v-2.5h-1v1.4v1.7h1v.9v-2.7h1v.4v2.7h1v1.1v-3.5h1v1.7v.6v-4.1h1v2.3v.7v-3.9v2.6h2v.1v-3.9v.1h1v2.2v-3.9v2.4h1v-2.3v1.6h1v.8v-3.1h1v1.7v1v-3.8v3.8h1v-1.2v-3.6v2.4h2v.2v-2.6v1.8h1v.1v-2.6h1v-1v3h1v-2.7v-.1v4.1v-1.9h1v-2.6v2.6h1v-2.3v-1.4h1v1.9v-1.4v3.2v-2.2h1v2.3v-2.3h1v.9v2h1v-1.2v.1v-2v1.8h1v-1.9v2.7h1v-.7v-2.1h1v-.7v2.7h1v.3v1v-2.4v.4h1v4.2v-3.8h1v-.1v2.7v-.4h1v-.7v.7v-3.2v1.9h1v-.2v-.9v2.9v-.6h1v-1v-1.4v3.6v-.7h1v-.4v-1.7h1v1.3v-.3v2.5h1v.2v-2.9h1v2.8v-1.3h1v-.4v1.7v-3.7v2.6h1v-2v2.3h1v1.5v-1.8h1v3v-2.4v1.6h1v-2v2.4h1v.2v.8v-2.7v2.7h1v-.3v-1.6h1v2.1v-2.8v2h1v-.3v.8v-2.2v.4h1v2.6v.9v-3.6h1v3.7v1.1v-2.6v.9h1v-.3v1.9v-1.7h1v-.1v2.3h1v.9v-3.1v2.5h1v-1.7v2.2v-1.9h1v1.1v-3.5h1v1.8v-2v1.9h1v-2v-1.5v3.3v-3.3h1v2.4v1.5v-4.9v4.9h1v-2v-1.4h1v-.1v-.3v2.3v-.3h1v-3.4v-.7v3.6v-2h1v-1.5v1.9h1v-1.5v-1v3.6v-3.6h1v2.5v-2.5h-1v.8v1.9h1v-3.2v1.7h1v1.7v-4v1.6h1v.4v-3.1v1.5h1v-.4v.3v-2.4h1v1.3v-1.8h1v2.1v-3.8h1v-1v2h1v-2.2v-1.2v2.7v-1.1h1v-1.9v-.1v2.7v-.4h1v-2v1.9h1v-3.4v3.2v-.5h1v.1v.2v-2.6v2.6h1v-2.3v-1.1v4.2v-4.2h1v-1.2v2.5h1v-1.5v-5.6v4.7h1v-3.5h1v1.5v-2h1v-.5v1.3h1v-1.3v-2.4v5.6v-4.4h1v2.5v-1.7h1v-.9v-.4v2.4v-.8h1v-.8v-3h1v-.1v2h1v.8v-4.2v3h1v-1.7v.3v-3.1v1.8h1v-.3v-2.9v1.8h1v-.8v-3h1v2.2v.5v-2.1" stroke="#e8091f" stroke-width="1.9" fill="none" stroke-linejoin="miter" stroke-linecap="square"/>
</g>
<path d="M630.00 589.30v-3.0M630.00 340.30v3.0M655.19 589.30v-3.0M655.19 340.30v3.0M680.38 589.30v-3.0M680.38 340.30v3.0M705.58 589.30v-5.2M705.58 340.30v5.2M730.77 589.30v-3.0M730.77 340.30v3.0M755.97 589.30v-3.0M755.97 340.30v3.0M781.16 589.30v-3.0M781.16 340.30v3.0M806.36 589.30v-5.2M806.36 340.30v5.2M831.55 589.30v-3.0M831.55 340.30v3.0M856.75 589.30v-3.0M856.75 340.30v3.0M881.94 589.30v-3.0M881.94 340.30v3.0M907.14 589.30v-5.2M907.14 340.30v5.2M932.33 589.30v-3.0M932.33 340.30v3.0M957.53 589.30v-3.0M957.53 340.30v3.0M982.72 589.30v-3.0M982.72 340.30v3.0M604.80 589.32h3.0M1007.40 589.32h-3.0M604.80 578.00h5.2M1007.40 578.00h-5.2M604.80 566.68h3.0M1007.40 566.68h-3.0M604.80 555.37h3.0M1007.40 555.37h-3.0M604.80 544.06h3.0M1007.40 544.06h-3.0M604.80 532.74h3.0M1007.40 532.74h-3.0M604.80 521.42h5.2M1007.40 521.42h-5.2M604.80 510.11h3.0M1007.40 510.11h-3.0M604.80 498.79h3.0M1007.40 498.79h-3.0M604.80 487.48h3.0M1007.40 487.48h-3.0M604.80 476.16h3.0M1007.40 476.16h-3.0M604.80 464.85h5.2M1007.40 464.85h-5.2M604.80 453.53h3.0M1007.40 453.53h-3.0M604.80 442.22h3.0M1007.40 442.22h-3.0M604.80 430.90h3.0M1007.40 430.90h-3.0M604.80 419.59h3.0M1007.40 419.59h-3.0M604.80 408.27h5.2M1007.40 408.27h-5.2M604.80 396.96h3.0M1007.40 396.96h-3.0M604.80 385.64h3.0M1007.40 385.64h-3.0M604.80 374.33h3.0M1007.40 374.33h-3.0M604.80 363.01h3.0M1007.40 363.01h-3.0M604.80 351.70h5.2M1007.40 351.70h-5.2M604.80 340.38h3.0M1007.40 340.38h-3.0" stroke="#1a1a1a" stroke-width="1.1" fill="none"/>
<rect x="604.80" y="340.30" width="402.60" height="249.00" fill="none" stroke="#1a1a1a" stroke-width="1.35"/>
<text class="t" x="604.80" y="610.30" text-anchor="middle">0.0</text>
<text class="t" x="705.58" y="610.30" text-anchor="middle">0.2</text>
<text class="t" x="806.36" y="610.30" text-anchor="middle">0.4</text>
<text class="t" x="907.14" y="610.30" text-anchor="middle">0.6</text>
<text class="t" x="1007.92" y="610.30" text-anchor="middle">0.8</text>
<text class="t" x="599.20" y="583.60" text-anchor="end">1.0</text>
<text class="t" x="599.20" y="527.02" text-anchor="end">1.5</text>
<text class="t" x="599.20" y="470.45" text-anchor="end">2.0</text>
<text class="t" x="599.20" y="413.88" text-anchor="end">2.5</text>
<text class="t" x="599.20" y="357.30" text-anchor="end">3.0</text>
<text class="t xl" x="806.10" y="638.10" text-anchor="middle">Shannon entropy</text>
<text class="t yl" transform="translate(559.50 464.80) rotate(-90)" text-anchor="middle"><tspan class="sg">σ</tspan><tspan class="pr" dx="-0.6">(</tspan><tspan dx="-0.5">Out degree</tspan><tspan class="pr">)</tspan></text>
<text class="L" x="0.3" y="25.7">A</text>
<text class="L" x="0.6" y="344.4">B</text>
</svg></body></html>
